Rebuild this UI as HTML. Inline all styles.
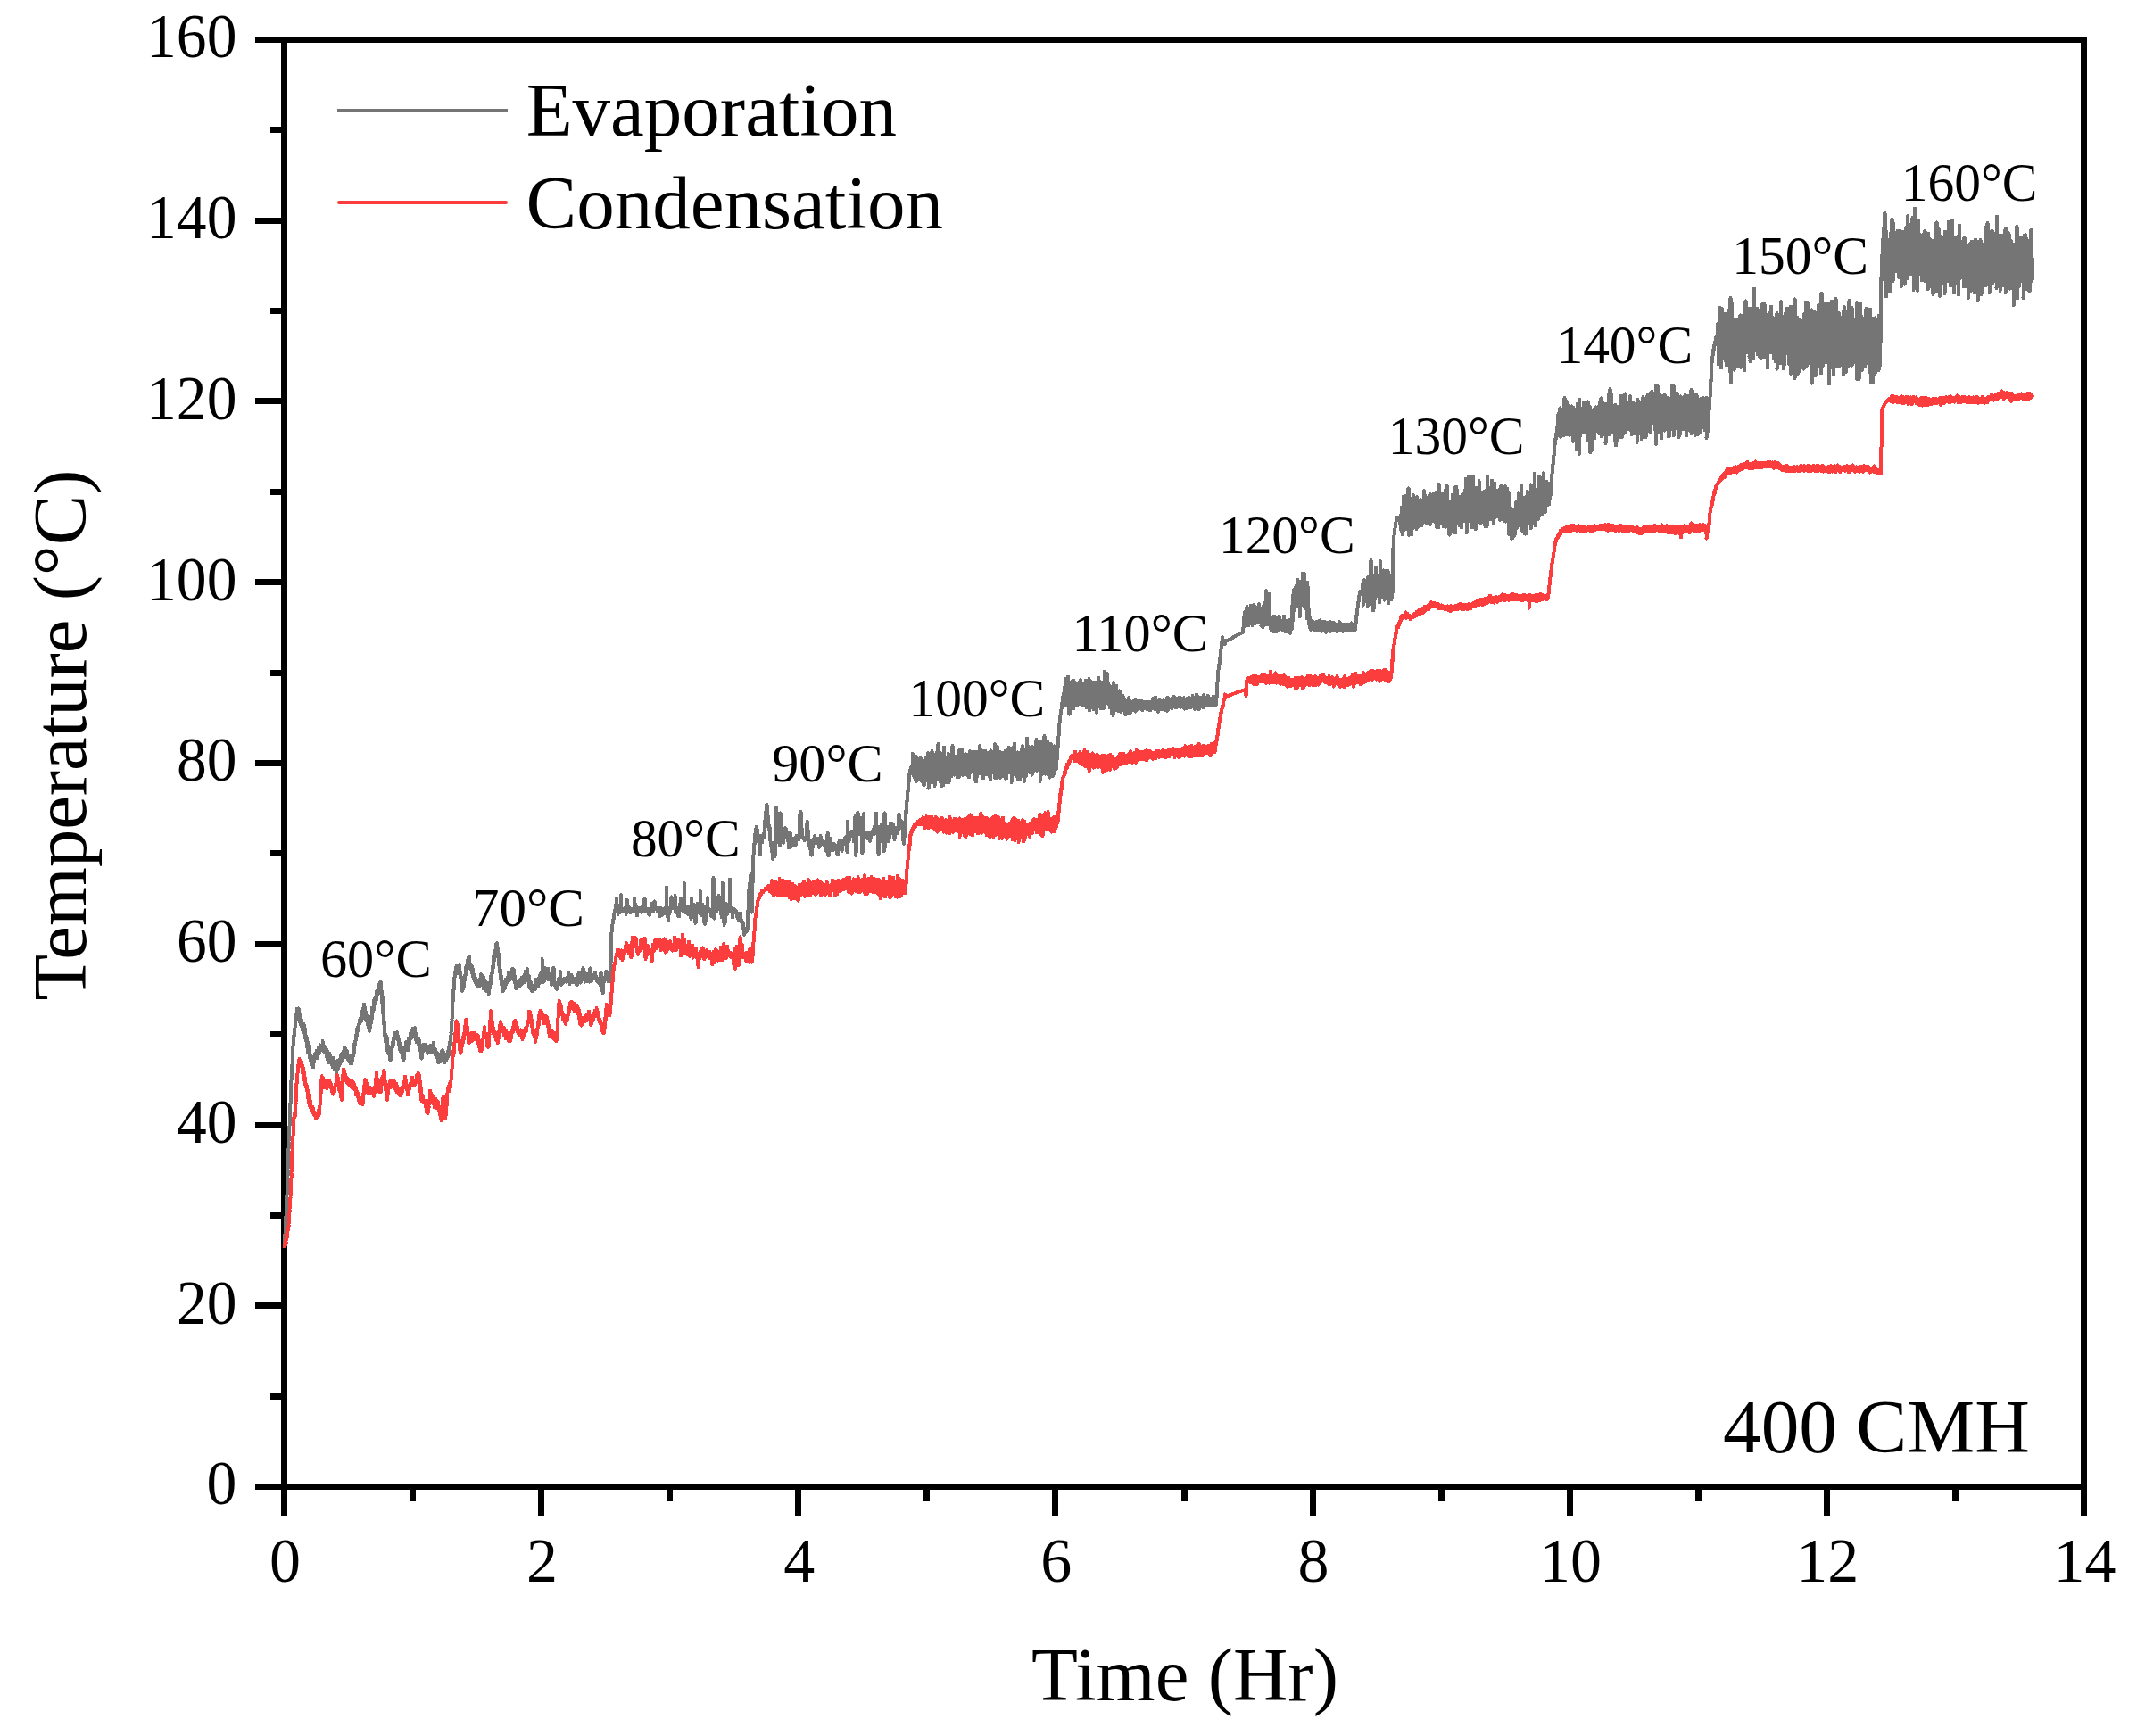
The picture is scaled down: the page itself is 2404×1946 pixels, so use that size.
<!DOCTYPE html>
<html lang="en">
<head>
<meta charset="utf-8">
<title>Evaporation and condensation temperature vs time (400 CMH)</title>
<style>
html,body{margin:0;padding:0;background:#fff;}
body{width:2404px;height:1946px;overflow:hidden;}
svg{display:block;}
text{white-space:pre;}
</style>
</head>
<body>
<svg width="2404" height="1946" viewBox="0 0 2404 1946" font-family='"Liberation Serif", serif' fill="#000">
<rect x="0" y="0" width="2404" height="1946" fill="#fff"/>
<g fill="#000" shape-rendering="crispEdges">
<rect x="315" y="41" width="2024" height="7"/>
<rect x="315" y="1663" width="2024" height="7"/>
<rect x="315" y="41" width="7" height="1629"/>
<rect x="2332" y="41" width="7" height="1629"/>
<rect x="286" y="1663" width="30" height="7"/>
<rect x="303" y="1562" width="13" height="7"/>
<rect x="286" y="1460" width="30" height="7"/>
<rect x="303" y="1359" width="13" height="7"/>
<rect x="286" y="1258" width="30" height="7"/>
<rect x="303" y="1156" width="13" height="7"/>
<rect x="286" y="1055" width="30" height="7"/>
<rect x="303" y="953" width="13" height="7"/>
<rect x="286" y="852" width="30" height="7"/>
<rect x="303" y="751" width="13" height="7"/>
<rect x="286" y="649" width="30" height="7"/>
<rect x="303" y="548" width="13" height="7"/>
<rect x="286" y="446" width="30" height="7"/>
<rect x="303" y="345" width="13" height="7"/>
<rect x="286" y="244" width="30" height="7"/>
<rect x="303" y="142" width="13" height="7"/>
<rect x="286" y="41" width="30" height="7"/>
<rect x="315" y="1669" width="7" height="30"/>
<rect x="459" y="1669" width="7" height="14"/>
<rect x="603" y="1669" width="7" height="30"/>
<rect x="747" y="1669" width="7" height="14"/>
<rect x="891" y="1669" width="7" height="30"/>
<rect x="1035" y="1669" width="7" height="14"/>
<rect x="1179" y="1669" width="7" height="30"/>
<rect x="1324" y="1669" width="7" height="14"/>
<rect x="1468" y="1669" width="7" height="30"/>
<rect x="1612" y="1669" width="7" height="14"/>
<rect x="1756" y="1669" width="7" height="30"/>
<rect x="1900" y="1669" width="7" height="14"/>
<rect x="2044" y="1669" width="7" height="30"/>
<rect x="2188" y="1669" width="7" height="14"/>
<rect x="2332" y="1669" width="7" height="30"/>
</g>
<g id="curves" shape-rendering="crispEdges">
<path d="M319 1391.6v2.2l.5-10.6v-.2l.5-11.4v5.4l.5-14.3v-2.9l.5-9.8v2.1l.5-11.6v-6.5l.5-10.2v1.1l.5-7.3v-6.9l.5-12.7v6.4l.5-17.7v-7.1l.5-8.2v4l.5-13.5v-3.5l.5-16v4.1l.5-10v-3.1l.5-13.9v2.9l.5-11v-5.4l.5-7.8v6.8l.5-11.5v-2.9l.5-10.1v3.4l.5-10.5v-6.1l.5-5.6v3.7l.5-3.6v-2.5l.5-5.7v2.6l.5-4v-6.5l.5-4.9v6l.5-3.5v-5.3l.5-1.8v6.7l.5-4.3v-4.7l.5-3.4v7.2l.5-.8v-1.7l.5 0v5l.5-5.3v-4.7l.5 3.9v5.5l.5 0v-4.6l.5 4.8v4.3l.5 2.8v-5.9l.5-1.8v7l.5 3.8v-7.8l.5 6v2l.5 .7v-2.8l.5 4.3v2l.5-3.5v-3.6l.5 1.5v1.6l.5 6.8v-9.1l.5 1.9v4.2l.5 1.9v-4.4l.5 4.6v.4l.5 7.7v-3.3l.5 .9v3.5l.5 2.7v-6.1l.5 6.4v2.5l.5 4.2v-8.1l.5 6.6v5.8l.5-3.6v-4.6l.5 5.5v1.6l.5 .3v-1.4l.5-.5v7l.5 3.1v-5l.5 4.5v3.4l.5-.3v-4.6l.5 2.8v4.5l.5 2.5v-5.3l.5 1.6v4.2l.5-1.8v-1.9l.5-2v6.9l.5-4.4v-4.6l.5-3.2v1l.5 2.6v-3.9l.5-2.9v2l.5-.6v-1.6l.5 .5v4l.5-3.7v-3.9l.5 3.9v4.7l.5-4v-5l.5-.2v6.5l.5-3.6v-5.1l.5 4.9v1.7l.5-.6v-4.8l.5-2.3v3.3l.5-2.3v-.2l.5-3.2v3.4l.5 1.3v-2.9l.5 1.3v2.4l.5-3.1v-.3l.5-1.1v3.5l.5-5.6v-3.4l.5 5.2v1.3l.5 4.6v-4.8l.5 .4v1.1l.5 2.4v-4.4l.5 4.5v2l.5-1v-2.4l.5 1.2v2.2l.5 .1v-4.5l.5 4.6v3.7l.5 2.3v-7.9l.5 3.3v6.7l.5-.1v-3.6l.5 2v4.9l.5-4.6v-1.7l.5 .7v2.6l.5-1.8v-5l.5 2.3v3.1l.5 4.2v-1.7l.5 .4v2.5l.5 .4v-3l.5 .7v2.9l.5 1.9v-3.9l.5-4.9v10.6l.5-2.4v-2.7l.5-.8v5.2l.5 1.8v-9.9l.5 7.5v3.5l.5-1.8v-4.1l.5-2.7v5l.5 2.7v-5.4l.5 1.9v8.1l.5-5.8v-5.4l.5-2.2v8.1l.5 0v-5.4l.5 1.8v4.3l.5-3.9v-3.5l.5-1.1v4.4l.5 .3v-3.8l.5-2.4v2.3l.5 1.2v-4.7l.5-3.8v7.8l.5-1.3v-2.3l.5-5.2v8l.5-1v-5.6l.5-2.8v4.3l.5 2.3v-3l.5-5.9v6.6l.5-5.2v-5.8l.5 1.8v6.4l.5-.8v-5.6l.5 .3v5.8l.5 .7v-4.9l.5 3.1v2.6l.5 .1v-5.6l.5 5.6v.4l.5 2.9v-5.2l.5 3.2v1.8l.5 3v-6.7l.5 1v2.1l.5 2.5v-3.6l.5 3.5v1.5l.5 2.5v-2.1l.5-3.6v5.5l.5-1v-7.6l.5 7.8v1.5l.5-1.8v-1.7l.5-5.5v5.1l.5-3.2v-2.1l.5-6.8v5.2l.5-.8v-7.2l.5-2.9v3.5l.5-1.7v-5l.5 .8v1.1l.5-2.3v-5.1l.5-2.2v.8l.5 1.1v-2.7l.5-5.2v6.2l.5-3.5v-1.6l.5-3.6v2l.5 .2v-1.3l.5-3.9v6.6l.5-6v-2.7l.5-2.9v.8l.5 1.5v-4l.5-.2v2.4l.5 1.9v-11.6l.5 3.9v3.1l.5 1.5v-5.7l.5-1.7v6.3l.5-6.1v-1.2l.5-4.3v4.1l.5-1.4v-3.1l.5-3.8v4.3l.5 5.9v-8.1l.5 4v5l.5-1.6v-2.6l.5 4v5.2l.5 2.1v-3.8l.5-1.4v2.9l.5 3.7v-3.7l.5-3.2v8.8l.5 2.7v-2.8l.5 1.2v3.9l.5 .4v-2l.5 2.1v3l.5-1.6v-7l.5-1.8v2.9l.5-.7v-5.2l.5-2.6v6l.5-2.6v-6.1l.5-7.2v11.3l.5-4.8v-6.9l.5-.6v1.7l.5 2.5v-7.9l.5-4v5.7l.5-.4v-6.6l.5-.4v4.2l.5-2.2v-2.5l.5-.7v6.8l.5-4v-9.8l.5 4.3v5l.5-5.6v-2.2l.5-.4v3.1l.5-1v-2.5l.5-4.1v1.7l.5-3.3v-.9l.5-2.1v1.5l.5 1.4v-3.5l.5 .7v.8l.5 .7v-4.4l.5 3.5v2.8l.5 6.1v-3.1l.5 4.8v5.1l.5 5.3v-8.5l.5 13.8v1.6l.5 4.6v-2.9l.5 2.8v6.9l.5 5.2v-3.5l.5 4.7v2.1l.5 11.1v-4.8l.5 3.6v1.3l.5 5.7v-7.3l.5 2.9v8.1l.5-.7v-9.6l.5 11.1v3.1l.5 2.5v-4.9l.5-1.6v7l.5 1.5v-3.2l.5-1.1v4.6l.5 1.2v-5l.5 3.2v4.1l.5 4v-7.2l.5-2.7v5.6l.5-4.1v-5.4l.5-.5v3.6l.5-3.3v-6l.5 1.4v3.7l.5-.9v-8.7l.5-.4v5.2l.5-5.8v-2.5l.5 .6v2.8l.5-1v-3l.5-2.3v4.3l.5-.2v-1.6l.5 .3v1.9l.5 1.5v-5.3l.5-1.5v4.7l.5 3.4v-4l.5 .1v4.3l.5 .8v-1.3l.5 0v6.8l.5 .2v-3.2l.5 1v6l.5 1.2v-5.3l.5-.1v5.7l.5 2.1v-2.6l.5-3v6l.5 1.5v-2.2l.5 .2v4.8l.5 2.5v-4.5l.5 1.8v1.6l.5 2.7v-8.3l.5-5.2v8.2l.5-4.4v-2.4l.5-2.8v3.6l.5-.8v-3.2l.5-5v3l.5 2.6v-1.3l.5-4.2v6.6l.5 2.3v-5.9l.5 .5v3.5l.5 2.2v-13.2l.5 5.4v2.3l.5-2.1v-4.2l.5-1.6v5.9l.5-6.3v-.6l.5-4.4v6.5l.5-3.9v-4.4l.5 1.4v5.2l.5-3.9v-1.9l.5-2.3v4.3l.5-2.3v-4.3l.5 3.1v1.9l.5-.2v-1l.5 .2v4.6l.5 .4v-5.4l.5-4.3v5.2l.5 2.7v-3.2l.5 1.9v6.4l.5-2v-3.5l.5 3.4v5l.5-2v-2.9l.5 3v2l.5-1.8v-1.7l.5 1.5v4.1l.5 1.2v-6.4l.5 3.2v3.3l.5 3.3v-1.8l.5-.6v4.8l.5 .5v-2.3l.5 1.9v4.8l.5 4.5v-8.2l.5-2.6v5l.5-6.1v-2.8l.5 2.3v4.8l.5-1.3v-7.2l.5 .7v3.8l.5 2.3v-3.2l.5-1.8v2.6l.5 2v-6.1l.5 2.7v2.9l.5-.9v-1.2l.5-1.8v3.5l.5-.1v-.7l.5 1.8v1.9l.5 1.6v-3.3l.5-3.8v3.4l.5 .8v-2.8l.5-1.6v5.7l.5-1.7v-3.4l.5-1.7v3l.5-1.4v-.7l.5 1.3v3.5l.5-4.4v-1.6l.5 3.9v3.6l.5-3.1v-2.1l.5 .7v3.8l.5-1.6v-3.9l.5-4.7v6.7l.5 1v-2.3l.5 3.8v1.4l.5-.5v-3l.5 .5v1.9l.5 5.4v-1.3l.5-2.8v2.1l.5-.7v-1l.5 2.4v3.3l.5 .5v-5.3l.5 1.5v7l.5 2.3v-4.2l.5-2.3v2.9l.5 2.1v-3.6l.5 .7v2.1l.5 1.1v-4.4l.5 2.2v1.6l.5-2.7v-8.6l.5-.1v4.6l.5-.1v-2.8l.5-3v3.8l.5 3v-4.3l.5 1.7v3.6l.5-.1v-5.1l.5 7.5v2.9l.5 1.4v-1.8l.5-3.1v3l.5-.4v-1.3l.5-2.2v3.5l.5-1.3v-6.5l.5 1.4v3.5l.5-2.5v-4.9l.5 3.8v2.6l.5-1.5v-5l.5-4.7v8.4l.5-3.7v-4.4l.5-5.7v4.3l.5-.8v-3.9l.5-4.1v6.7l.5-11v-1.9l.5-9.9v4.8l.5-8.7v-1.2l.5-10.6v3.3l.5-11.7v-.1l.5-13.3v6.6l.5-6.7v-3.4l.5-8.3v4.1l.5-7.1v-2.4l.5-3.8v4.1l.5-.9v-6.1l.5-2.5v4.8l.5-.1v-2.1l.5-3.7v5.1l.5 .2v-3.8l.5 2v4.1l.5-.5v-4.1l.5-2v6.2l.5-1.3v-2l.5-4.7v6.8l.5 3.4v-4.2l.5 5.3v1.8l.5 1.4v-2.9l.5 3.5v5l.5 2.6v-3l.5 3.8v5.1l.5-.5v-4l.5-1.6v2.2l.5 1.1v-8.1l.5-2.7v4.7l.5-1.8v-2.6l.5-4.3v2.5l.5-1.8v-6.4l.5-3.2v7.8l.5-.2v-4.7l.5-4.4v4.4l.5-2v-6.6l.5-.3v2.5l.5-5.6v-1.3l.5 .7v3.4l.5 4.7v-10.7l.5 .9v7.7l.5 1.5v-1.4l.5 1v3.6l.5 1v-4.1l.5 1v4.4l.5-.2v-3.4l.5-.8v5.8l.5 2.4v-4l.5-1.3v6.3l.5 3.8v-4.3l.5 1.2v3.5l.5 2.2v-5.4l.5 1.9v4.6l.5-.7v-2.2l.5 3.2v.2l.5 2.9v-6.5l.5 2.6v3.2l.5 1.6v-4.1l.5 0v1.3l.5 3.6v-5.7l.5 .1v4.2l.5-.8v-.9l.5 .6v3.2l.5-3.1v-4.8l.5 2.3v2.2l.5-.6v-5.4l.5-4.1v8.1l.5 .6v-2.1l.5-3.5v6.3l.5-.1v-6.9l.5 5.5v4.4l.5-3.5v-6.7l.5 6.5v7.9l.5-4.7v-3.1l.5-2.9v8.9l.5-.9v-4.8l.5 2.5v6.6l.5-6v-3.3l.5 .1v7.5l.5 2.2v-8.2l.5 5.9v2.6l.5-1.5v-.9l.5-.8v3.7l.5 1.4v-5.1l.5 2.1v4.1l.5-5.5v-3.5l.5-4v5.9l.5-2.8v-8.1l.5-1.2v5.6l.5-4.1v-.3l.5-4.9v6l.5-6v-5.6l.5-2.3v7.2l.5-4.5v-4.4l.5-9.8v11l.5-4.7v-3.7l.5-2v2.2l.5-.9v-1.4l.5-6.3v5.7l.5-6.5v-.3l.5-6.6v7l.5-2.2v-3.2l.5-2.7v.7l.5 7v-3.2l.5 7.5v.3l.5 3.8v-4.7l.5 5.4v.8l.5 7.7v-1.9l.5 5.2v3l.5 2.3v-5.4l.5 7.9v3.9l.5-1.4v-2.4l.5 .2v3.4l.5 7.8v-5.9l.5 .3v5.8l.5 6.3v-3.4l.5-4.4v2.9l.5 2.5v-3.5l.5 .2v2.9l.5-2.6v-2.5l.5-2v6.1l.5-4.5v-2.4l.5-3.2v3.9l.5 1.9v-3.1l.5-.4v2.3l.5-3.4v-2.7l.5 .4v1.8l.5-2v-1.4l.5-4.6v5.3l.5 .8v-3l.5-3v8.3l.5-6.1v-1.1l.5-1.4v4.7l.5-.1v-2.2l.5-3.4v6.7l.5-.3v-5.3l.5-3.9v5.6l.5 1.2v-7.5l.5 3.2v3.9l.5 1.2v-7.4l.5 5.1v6.9l.5-.8v-4.5l.5 6.1v2.4l.5 .8v-2.2l.5 1.6v1.6l.5 4.9v-6l.5 0v1.2l.5 1.6v-2.9l.5-1.4v4.1l.5 1.1v-4.8l.5 .2v2.9l.5 1.6v-4.6l.5 1.6v2.5l.5-1.5v-5.3l.5-.7v3.3l.5 .7v-4l.5 1.3v2.4l.5 2v-2.3l.5-5.7v5.5l.5-1.2v-3l.5-.5v4l.5 1.1v-7l.5 2v4.9l.5-1.4v-2.6l.5-5.4v1.7l.5 1.3v-4.8l.5-1.5v6.8l.5 1.1v-6.3l.5-2.2v5l.5 .2v-.5l.5-6.9v5.5l.5 2.6v-2.3l.5 2.5v1.1l.5 5.9v-7.9l.5 1.7v4.9l.5 6.4v-7.9l.5 1.8v7.4l.5-2.1v-3l.5-1.5v5.6l.5 2.7v-5.8l.5 2.2v4.9l.5 .1v-1.9l.5-1.8v2.7l.5-.3v-1.3l.5-.8v1.8l.5-1.3v-1.7l.5-.3v1.7l.5 1.6v-6.7l.5 3.7v3l.5-2.8v-8.5l.5 2.1v1.8l.5-.7v-.9l.5-.3v3.6l.5-1v-.8l.5-.6v4.2l.5-2.9v-4.6l.5-1.9v3.2l.5 2.9v-8.6l.5 1.7v1.5l.5 2.8v-5.7l.5-2.8v5.7l.5-.4v-4l.5-.7v2.8l.5 6.7v-26.4l.5 23.7v2.6l.5-1.9v-3.1l.5-3.1v2.4l.5 5.4v-3.2l.5-12.4v5.6l.5 2.5v-8.5l.5 6.4v1.3l.5-1.4v-.6l.5-1.7v5.1l.5-2.2v-.2l.5 1.4v3.9l.5-1.4v-4.6l.5-4.8v11.4l.5 .9v-3.2l.5-1.8v3l.5-1.5v-2.3l.5-.1v2.6l.5 1.1v-4.2l.5 3.8v.4l.5 2.8v-3l.5 5.9v2.3l.5-1.3v-3.4l.5-5.5v6.2l.5-7.7v-3.9l.5-2.9v3.5l.5-1.6v-2.7l.5 6.9v1.4l.5 8.1v-.1l.5 .4v1.8l.5 2.8v-1.9l.5 1.9v1.1l.5 1.7v-2.1l.5 .7v1.5l.5-4.9v-.7l.5-2v2.9l.5-.9v-4.5l.5-1.5v2.8l.5-.5v-1.2l.5-1.3v1l.5 3.4v-12.8l.5 9.9v2.3l.5 .2v-1.1l.5 2.5v1.6l.5-3.8l.5 .2v-2.9l.5 1.1v1.4l.5-.8v-.9l.5-.1v3.4l.5-2.7v-1.2l.5-.9v.6l.5 .9v-.4l.5 .4v1.1l.5-.1v-1.5l.5 1v1.9l.5 0v-2l.5 .3v1.3l.5-2.2v-2.2l.5 .2v1.5l.5-5.9v-1.2l.5 .7v1.8l.5 3.6v-.5l.5 4.5v2.8l.5-4.2v-.4l.5-3.3v2.9l.5-1.3v-3.4l.5-1.1v1.7l.5 2.7v-.8l.5 .6v.1l.5 3.4v-.5l.5 .3v.6l.5 .6v-2.9l.5 1.2v.1l.5 .1v-.9l.5-1.9v3.5l.5 .9v-1.9l.5 2.3v.1l.5 1.8v-1.5l.5-.3v1.1l.5 .7v-3.6l.5-.5v.3l.5-1.6v-2l.5-4.6v.8l.5-2.4v-.2l.5 4.9v1.6l.5 2.5v-2.4l.5 1.3v4l.5-3.5v-1.4l.5-1v.2l.5 2.6v-2.3l.5 .3v.5l.5-3v-3.4l.5-5.6v.5l.5 6.6v-.4l.5-3.3v8.5l.5 .2v-2.4l.5 5.3v.4l.5-4.5v-3l.5-1.9v2.2l.5 .7v-2.4l.5 1.5v3.5l.5 .9v-2.4l.5 1v3.7l.5-2.2v-1.3l.5-.6v1.5l.5 1.5v-.8l.5 1.6v1.1l.5-9.5v-2.1l.5-3.6v.4l.5 7.2v-1.1l.5 6.3v2.1l.5-.6v-1.6l.5-1v1.1l.5-4.8v-.4l.5 1.5v1.6l.5 .4v-1l.5-.1v.1l.5-.2v-.5l.5-1v.6l.5-1.9v-2.6l.5 3.2v1.6l.5 .9v-.7l.5 .9v.5l.5 3.2v-1.4l.5-1.2v3.7l.5-.8v-.3l.5-1.9v.7l.5-.8v-.9l.5 1.7v.9l.5 3v-.2l.5-.5v2.7l.5 .1v-.2l.5-14.2v11.6l.5-1.6v-.7l.5-.7v2.5l.5 2.9v-1.7l.5 9.8v1.4l.5-2.6v-.7l.5-8l.5-6.8v2.1l.5-.7v-.6l.5 .8v1l.5 .3v-2.2l.5-1.7v.2l.5-5.3v-.5l.5 .6v2.1l.5 4.8v-.9l.5 .4v2.5l.5 1.6v-1.8l.5-.1v.9l.5-.3v-.6l.5 .7v1.8l.5-2.2v-2.3l.5-.2v1l.5-16.7v-1l.5-15.6l.5-18.7v.4l.5-4.4v-.9l.5-3.8v.2l.5-3.9v-.3l.5-1.7v.3l.5-4.4v-.1l.5-2.5v.1l.5-1.9v-.6l.5-1.9v.1l.5-3.1v-1.4l.5 2.2v.3l.5-8.3v-1.6l.5 5.4v3.3l.5 5.1v-.4l.5 2.9v.9l.5-1.1v-2.7l.5-1.3v1l.5 2.6v-.9l.5-2.9v1.1l.5-.8v-2.7l.5-1.3v.3l.5 .7v-13.5l.5 17v1.8l.5-2.4v-.3l.5-.2v1.1l.5 1.9v-1.7l.5-1.2v3.2l.5-1.9v-.3l.5-1.1v1.8l.5 .6v-.3l.5-3.9v.7l.5 2.1v-2.1l.5 3.8v3l.5-2v-.4l.5-5v2.1l.5-3.6v-7.1l.5 5.6v1.1l.5 .6v-.6l.5 1.9v3.3l.5-.3v-.4l.5-2.6v0l.5 1v-.2l.5 2.3v2.3l.5-2.5v-.9l.5 2v.4l.5 0v-1.1l.5 .3v.8l.5-.9v-1.1l.5-.4v.6l.5 1.8v-3.5l.5-.9v1.7l.5-3.8v-7.9l.5 4.3v1.2l.5 2.6v-2.2l.5 1.5v1.1l.5 2.9v-1.5l.5 2.1v1l.5 6.1v-3.6l.5-1.3v1.5l.5-1v-3.5l.5 .2v2.7l.5-3.1v-.8l.5 3.4v.4l.5-.6v-.3l.5 .5v.5l.5-1.1v-1.5l.5 1.2v2.4l.5-2v-.5l.5-2.5v2.2l.5-3.6v-.2l.5 1.7v.1l.5 4.2v-1.3l.5-1.1v.8l.5 0v-1.5l.5-11.4v9.5l.5 4.4v-3.1l.5-.8v1.2l.5 3.2v-2.4l.5 0v1.7l.5 .8v-3.3l.5 1v.5l.5 .8v-.9l.5-.6v1l.5 4.4v-1.5l.5-2.6v4.1l.5 .9v-5.4l.5 .9v.5l.5-2.8v-.9l.5-.1v1.2l.5-3.8v-2l.5-.3v.2l.5 2.5v-1.8l.5 6v1.2l.5 .4v-1.9l.5-2.4v1.6l.5-2.3v-4.3l.5-1.9v2.5l.5 1.7v-1.9l.5 6.3v.1l.5-.1v-1.4l.5 .7v.6l.5-.5v-.5l.5 1.6v1.7l.5-.1v-2l.5 .9v.7l.5 .8v-.5l.5 .1v3.2l.5 3.2v-2.7l.5-5.1v.8l.5 .2v-3.3l.5 1.3v1.1l.5 4.8v-2.6l.5 2.2v.3l.5 1.3v-1.5l.5-1.5v2.9l.5-3.4v-3.3l.5 3.4v1.3l.5-.2v-1.1l.5-2.8v2.7l.5 1.9v-1.2l.5-1.8v.3l.5-2.5v-1.7l.5-.4v.3l.5 1.6v-23.9l.5 21.1v.7l.5 5.6v-2.6l.5 9.3v.8l.5 2.2v-2.5l.5-4.5v1.5l.5-3.8v-1.4l.5 1.1v.5l.5-.9v-.6l.5-2.1v.4l.5-4.7v-3.2l.5-6.5v1.3l.5 3.5v-2.6l.5 3.9v3.1l.5 4l.5-2.1v0l.5-3v2.5l.5-2.9v-.5l.5-.1v1.4l.5 3.8v-13.6l.5 13.9v2.2l.5 3.4v-3l.5 .6v.3l.5 .4v-3.8l.5 1.2v.6l.5 3v-3l.5 4.5v2.1l.5-.1v-1.3l.5 .9v1.5l.5-6.1v-.1l.5-4.6v3.8l.5-8.3v-1.8l.5-2.7v3.5l.5 4.4v-1.7l.5 2.3v1.6l.5-1.4v-.2l.5 1.5v.3l.5 3.8v-.1l.5-2.2v1.7l.5-1v-.7l.5-29.4v29.4l.5 1v-2.3l.5-.4v1.1l.5 4.2v-2.3l.5-.5v.3l.5-2.3v-2.4l.5 0v.9l.5 4.4v-3.8l.5 3.8v3.8l.5-.2v-1.4l.5-2.4v.9l.5-2.9v-2.5l.5 .6v.4l.5 3v-.4l.5 5.8v1.2l.5 3v-1.8l.5-21.4v21.1l.5-4.2v-2.4l.5-.5v2.3l.5-5.5v-2l.5-1.8v1.2l.5 4.6v-2l.5 .9v3.6l.5-1.1v-1.5l.5 7.4v3.7l.5 4.2v-1.4l.5-4.2v1.6l.5-8v-1.6l.5-6.5v2.8l.5-1.9v-3l.5 2.3v2.3l.5 2.6v-.5l.5 1.4v.6l.5 2.4v-4.9l.5 .7v1.3l.5 .2v-23.3l.5 23v.3l.5 2.7v-1l.5 1v2.9l.5-3.9v-.2l.5-3.1v1l.5-5.2v-1.5l.5 2.8v.9l.5 4.2v-1.6l.5 9.6v.1l.5 5v-1.3l.5 .1v2.3l.5-1.3v-2.3l.5-2.8v.2l.5-1.9v-2.4l.5-4.6l.5-5.5v2l.5-.7v-10.4l.5 10.5v3.3l.5 1v-2.7l.5 2.4v.9l.5-.1v-.4l.5-1.5v.3l.5 1.9v-1.3l.5 1.6v1.8l.5 2.4v-.9l.5 .8v.8l.5-4.5v-.1l.5-.5v.3l.5-.9v-.1l.5-37.4v40.6l.5 4.6v-1.4l.5 1.7v.4l.5-.8v-1l.5-6.3v.5l.5-5.7v-.4l.5 3.4v.8l.5-1.4v-.5l.5 1v1.8l.5-1.5v-.4l.5-3.6v1.5l.5-2.4v-2.4l.5-8.2v11.2l.5 3.2v-2.8l.5 .1v.1l.5 1.6v-.2l.5 .6v.8l.5 6.1v-1.2l.5 2.7v2.2l.5-4.6v-1l.5-7.5v3.5l.5-2.2v-26.6l.5 28.5v1.2l.5 8.6v-1.5l.5 7.6v2.5l.5-1.1v-.4l.5-2.8v2.8l.5-13.7v-1.7l.5-5v.1l.5-.9v-1.3l.5 3v1.7l.5 7.2v-1.5l.5-.7v.4l.5-1.9v-2.8l.5-2.6v1l.5 .8v-.6l.5-.2v1l.5-3.5v-28.4l.5 28.7v2.5l.5 4.1v-3.7l.5 .2v1.8l.5-1v-.7l.5 2.7v4.7l.5 3.1v-1.8l.5-2.9v1.2l.5-3v-.3l.5-1.4v1.1l.5 0v-.3l.5-1.5v.8l.5 2.2v-1.3l.5-.4v1.4l.5 2.1v-2.2l.5 .3v2l.5 2.9v-1l.5 .5v2.8l.5-.7v-.2l.5 .8v.9l.5 2v-1.2l.5-1.8v1.6l.5-3.8v-1l.5-2.4v.7l.5 1.8v-2.3l.5 8.6v.7l.5-1.7v0l.5 .4v.3l.5 2.6v-.2l.5-1.3v.5l.5 6.5v-4.4l.5 5.9v4.4l.5 2v-.7l.5-6v2.3l.5-1.2v-2l.5 .3l.5 .8v3.4l.5-2.5v-.9l.5-1.1v2.3l.5 .1v-.6l.5-11.4v.6l.5-11.6v-1.8l.5-10.5v1.5l.5-13.4v-.8l.5-3.5v.6l.5-2.6v-.4l.5-4.8l.5-4.1v1.2l.5 22v-.3l.5 19.4v.2l.5-15.9v-2.7l.5-14.1v.2l.5-14.5v-1.7l.5-16v.2l.5-6.4v-1.2l.5-4.8v1.3l.5-8.1l.5-5v-1.6l.5-3.1v1.4l.5-1.8v-.2l.5-2v.6l.5 2.9v-.6l.5 4.1v3.1l.5 6.7v-.5l.5-.3v.9l.5-3.1v-3.5l.5 .8v2.5l.5-.4v-1.1l.5-1.1v21l.5-20.5v-.7l.5 1.3l.5 4.5v0l.5 1.2v-.3l.5-7.2v.3l.5-.4v-.2l.5-.2v2l.5 0v-1.4l.5-4.2v1.1l.5-7.8v-.3l.5-6.8v.4l.5-2.2v-1l.5-7v1.9l.5-6.1v-2.2l.5-.8v1.7l.5 1.5v-1.4l.5 10.5v2.7l.5 9v-3.2l.5 5.3v1.8l.5-3.3v-1.4l.5 2.3v1.6l.5 6.2v-1.8l.5 9.2v1l.5 3.6v-.3l.5-1.5v.2l.5 2.8v-2.3l.5 9.7v.5l.5 6.5v-1.4l.5-8.8v.8l.5-7.6v-.8l.5-.4v.4l.5 10.8v-2.3l.5 3.1v3.8l.5-16.7v-.2l.5-17.7v3.9l.5-23.7v-.8l.5 4.8v0l.5 14.7v-1.4l.5 10.6v.5l.5 6.3v-3.7l.5 3.7v1.1l.5 2.3v-1.3l.5 .6v.3l.5 3.9v-3.4l.5-32.8v33.9l.5-1.1v-2.6l.5-5.2v2.3l.5-2.6v-1.7l.5-.1v1.9l.5 3v-.5l.5 .1v2.2l.5 3.7v-.5l.5-4.3v1.2l.5-3.9v-.5l.5-3.1v1.5l.5-6.5v-.4l.5 0v1.1l.5 1.9v-2.4l.5 2.1v1.1l.5 1.2v-1.3l.5 1v2.6l.5 2.4l.5 5.8v-2.8l.5 7.8v1.6l.5-1.5v-.6l.5-7v1.5l.5-7v-2.4l.5 3.4v.9l.5 4v-1.6l.5 7v1.9l.5-2.6v-.8l.5-5.2v.2l.5 .4v-.9l.5-.1v2.2l.5 1.2v-1.4l.5-1.1v2.4l.5 .4v-1.8l.5 2v3.5l.5 .4v-.7l.5-3.9v.7l.5-6.3v-.4l.5-.6v1.3l.5 2.1v-2.5l.5 1.5v1.3l.5-.4v-.9l.5-.8v2.7l.5 .4v-.9l.5-25.4v22.1l.5-10.7v-1.3l.5-15.7v2.6l.5-1.7v0l.5 6.7v.2l.5 11.8v-1.2l.5 6.4v2.1l.5 3.3v-1.3l.5 .1v.8l.5 .2v-.6l.5-.1v.5l.5 2.9v-1.3l.5 .6v.7l.5-.7v-2.1l.5 .4v.4l.5-1.6v-1.1l.5-7.2v.8l.5-9.1v-1.3l.5 2.3v1.1l.5 7.2v-.9l.5 9.7v2.1l.5 3.6v-4l.5 2.3v.2l.5 6v-3l.5 2.3v2l.5 .7v-.3l.5 .8v1.4l.5 4.5v-1.4l.5 .3v.6l.5-7.5v-.6l.5-8.9v.9l.5 2v-1.3l.5 .1v.2l.5-.8v-2.1l.5-2.9v1.4l.5 3.2v-.1l.5 .8v2.9l.5-1.8v-1.6l.5 .1v.2l.5 2.2v-1.2l.5-3.3v.9l.5 .9v-.6l.5 3v.3l.5 1.2v-1.4l.5 4.1v1.6l.5-1.3v-1.9l.5-4.6v.6l.5-5v-.8l.5 4.6v.2l.5 .7v-.4l.5 2.2v2l.5-.5v-.1l.5 .1v.4l.5-1.9v-1.7l.5 2.3v1.9l.5 .3v-.3l.5-.9v2l.5 .2v-3.2l.5 4v.3l.5 4.4v-2.6l.5 .1v.6l.5-5.9v-.5l.5-7.3v2.2l.5-5.5v-1.5l.5 4.4v3l.5 18.9v-15.1l.5 2.1v.5l.5-.3v-.1l.5-2.9v.5l.5 0v-1.8l.5-2.3v3.6l.5 5v-3.4l.5 2.6v2.1l.5 1.4v-4.1l.5 3.8v2.2l.5-.8v-.8l.5-1.2v2.3l.5-2v-5.2l.5 1.2v.5l.5 3.4v-4.4l.5 5.1v1.1l.5-.5v-1.5l.5-1.9v1.2l.5-.1v-.5l.5 1.3v2l.5 5.4v-1.5l.5-.8v1.8l.5-4.8v-3.5l.5-4.7v1.6l.5-1.9v-1.3l.5 1.6v1.2l.5 1.8v-1.6l.5-3.6v.2l.5 3.2v-1.9l.5 1.4v.6l.5 8.3v-2.1l.5-.7v.9l.5-3.6v-1.3l.5-4v1.4l.5 0v-1.1l.5-.4v.4l.5 .2v-4.2l.5-.5v5.3l.5-4.5v-.4l.5-1.3v.7l.5 5v-2.1l.5 6v3.2l.5 4.2v-34.5l.5 30.5v.9l.5-9.9v-.7l.5 1.4v.4l.5-.3v-1.7l.5-2l.5-2.3v2l.5-2.4v-1.1l.5-3.1v.4l.5 2.7v-2.9l.5 .6v1.4l.5-1.4v-1l.5 .4v1.8l.5 1v-3.2l.5 6.7v.1l.5 4.4v-4.4l.5 .9v.3l.5 3.8v-1.3l.5-27.6v35.7l.5 8v-1.9l.5-1.8v1.2l.5-9.6v-1.4l.5-8.9v.8l.5-14v-2.4l.5-10.1v2.7l.5 9.3v-.4l.5 9.4v.4l.5 1v-.2l.5-6.8v2.3l.5-11.3v-.3l.5 .4v1.9l.5 10.6v-.9l.5 8.1v19l.5-5v-.5l.5 5.2v.6l.5-12.7v-2.1l.5-8.3v1.8l.5-.3v-22.3l.5 21.5v.3l.5 3v-.8l.5-2.3v2.5l.5 1.2v-.7l.5-1.4v.3l.5 1.6v-2.5l.5-1.5v1.5l.5 .4v-.1l.5 1.9v3.1l.5-1.5v-3l.5-2.5v.4l.5 3.5v-.9l.5 1.3v.4l.5 4.9v-.4l.5-2.1v1.1l.5-5.1v-.7l.5-1.1v.5l.5-.4v-1.4l.5-.4v1.1l.5-.5v-.7l.5-2.9v.7l.5 1.1v-.3l.5 3.1v1.4l.5-2.4v-.7l.5-7.3v2l.5-5.6v-.8l.5 6.3v1.4l.5 3.7v-20.9l.5 16.7v2.2l.5-2.6v-1.5l.5 6.7v.8l.5 12.2v-3.9l.5 15.2v.3l.5-7.4v-3.4l.5-6.7v.3l.5-1.8v-2.4l.5 .8v.9l.5-1.4v-3l.5-8.6v2.7l.5-1.9v-.8l.5 4.8v2.7l.5 5.8v-1.6l.5 8v.1l.5 2.8v-1l.5 .3v3.9l.5 3.4v-.7l.5-41.9v39.3l.5-11.1v-1.7l.5-4.3v2.5l.5-.3v-3l.5-1.3v3l.5-2.8v-2.1l.5-3.1v.2l.5 2.8v-.2l.5 7.1v2.3l.5 4.8v-2.4l.5-2.4v2.3l.5-6.3v-1.5l.5-7.1v1.2l.5-4.2v-.8l.5 4.1v4.2l.5 2.9v-.1l.5-1.8v2.4l.5-2.6v-3.2l.5-4.9v.3l.5 3.9v-3l.5 9v.3l.5 3.5v-.3l.5 3.6v.3l.5-1.6v-2l.5-3.1v.5l.5-5v-1.1l.5-.7v2.3l.5 2.9v-1.4l.5 .5v1.9l.5 0v-.2l.5-2.3v.4l.5-2.1v-.2l.5-17.6v15.9l.5 .9v-1.3l.5-5.2v.7l.5-.9v-2.3l.5 0v1.4l.5 4.7v-1.6l.5-1.8v2.8l.5 .2v-4.5l.5 8v.5l.5 8.3v-3.7l.5 9v1.5l.5 1.3v-2.8l.5-4.8v.9l.5-5.9v-1.2l.5-2.4v1.7l.5-11.6v-.6l.5-11.1v3.4l.5-10.3v-.3l.5-3.7v1.5l.5-6.1v-.5l.5-6.1v1.8l.5-5.2v-1.7l.5-5.5v1.9l.5-8v-.4l.5-2.3v.4l.5-1.7v-1.8l.5-.5v.6l.5-1.3v-2.5l.5-1v2l.5 6.6v-8.4l.5 1.9v1.9l.5 2.5v-20.5l.5 13.8v10.7l.5-1.3v-13.9l.5-.2v17.5l.5-7v-8.6l.5 2.3v15.8l.5-14.3v-9.2l.5 2.7v16.4l.5 6.3v-27.8l.5 1.2v22.8l.5 .9v-22.9l.5 5.3v12.3l.5 4.4v-18.7l.5 1.1v18.9l.5-2.8v-19.4l.5 3.1v6.9l.5 11.8v-10.6l.5-13.7v17.9l.5-3.3v-8.4l.5 2.7v14.8l.5 3.4v-14.7l.5-10.6v20.7l.5-5.8v-8.1l.5-4.8v17.1l.5 10v-16.3l.5-10.2v15.2l.5 11.3v-25.9l.5 4v11l.5 1.3v-12.7l.5-1.5v17.2l.5-2.2v-21.2l.5 1.7v17.6l.5 6.6v-22.6l.5 2.6v17.3l.5-9.8v-19l.5 8v31.7l.5-19.5v-11.7l.5 2.7v18.7l.5-11.7v-15.3l.5 10.3v20.4l.5-5v-20.7l.5-3.7v13.7l.5 10.4v-11l.5-19.5v22.5l.5 13.2v-23l.5 3.6v17.9l.5-12.7v-11.3l.5 1v3.9l.5 11.3v-12.7l.5-9.2v34.9l.5-6.2v-15.8l.5-2.9v8l.5 .7v-11.6l.5-1.5v13.1l.5 8.7v-30l.5 8.8v11.2l.5 1.9v-15.2l.5-16.6v34.2l.5-1.8v-18.1l.5-6.2v31.2l.5-10.7v-16.5l.5 2v24.3l.5 3.8v-26.5l.5-.7v19.1l.5 13.6v-25.3l.5-3.6v27.3l.5-15.7v-10.7l.5-8.4v15.6l.5 19.4v-19.1l.5-10.2v10.4l.5 2.9v-26.7l.5 15.9v13.8l.5-3.9v-8.9l.5-1.4v13.7l.5 7.2v-20.8l.5-1v11.7l.5 13.2v-24.9l.5-2.3v16.8l.5-3v-1.3l.5-11.2v13.9l.5-1.8v-18.3l.5 9.9v22.1l.5-6.8v-20l.5 2.2v8l.5 7.7v-13.3l.5-9.4v16l.5 9.3v-20.9l.5-1.3v11.9l.5 8.1v-10l.5-22.6v27.3l.5-1.4v-6.1l.5-3.5v11.4l.5 2.8v-16.1l.5 1.1v17.4l.5-1.3v-11.9l.5-3.6v12.3l.5 2.7v-19.1l.5 13.7v6.1l.5-.8v-4.5l.5-13v16.4l.5 5.6v-22.3l.5 4.4v16.3l.5 1.3v-25l.5-2v10.7l.5 16.2v-18.7l.5-12.4v23.7l.5-1.8v-5.7l.5-10.1v14.4l.5 6.7v-16l.5-.1v10.5l.5 2.5v-23.7l.5 5.7v16.2l.5 6.9v-20.3l.5 1.1v10.1l.5 5.1v-12.9l.5-6.5v10.8l.5 7.8v-13.2l.5 3.3v8.7l.5 4.2v-21l.5-.6v16.2l.5 .6v-15l.5 6.5v8.8l.5 6.1v-7.3l.5-4.9v7.3l.5-2.1v-8.1l.5-8.2v17.8l.5 7.8v-20.4l.5 .5v7.3l.5 8.5v-24.7l.5 13.1v10.8l.5-3.2v-20.1l.5 6.6v12.8l.5-4v-8.3l.5-6v19.9l.5 .6v-13.9l.5-8.2v23l.5-7v-7.2l.5-4.7v19.4l.5-4.7v-14.1l.5 9.7v17.4l.5-10.1v-21.5l.5 5.2v10.3l.5 18.5v-23.9l.5-6.3v24.2l.5-.3v-15.8l.5-11.5v21.5l.5-7.2v-10.3l.5 9.4v7.4l.5 0v-14.1l.5 3.8v9.5l.5 3.9v-30.8l.5 10.7v15.2l.5-5.4v-16.5l.5 18.5v8.9l.5-5.3v-9.2l.5-6.1v23l.5-4.6v-14.4l.5-8.8v14.4l.5 15.8v-20l.5-5.1v15.9l.5 .5v-9.4l.5 2.1v7l.5 3.5v-16.9l.5-8.2v24.9l.5-2.4v-7l.5-9.6v20.6l.5-9.1v-10.5l.5 1v17.1l.5-4.2v-16.4l.5 3.5v18.3l.5-6.2v-18.3l.5 16.2v5.3l.5 5.2v-21.2l.5-4.4v21.8l.5 8.1v-24l.5-9.1v20.2l.5 .4v-11.1l.5 2.6v9.6l.5 3.2v-18.9l.5 2.7v15.4l.5 .3v-15.2l.5-1.2v11.6l.5 1v-15.3l.5 5.2v16.5l.5 3.7v-37.7l.5 9.6v20.1l.5 3.4v-25.1l.5 6.3v13.3l.5 10.5v-31.1l.5 15.8v3.8l.5-.6v-23.2l.5 6v26.1l.5-3.9v-12.6l.5-5v19l.5 2.8v-26.9l.5 2.7v21.1l.5 5.6v-22.1l.5 4.9v9.6l.5 3.4v-16.4l.5-3.6v15.3l.5-5.9v-11.9l.5 5.4v10l.5 9.4v-26.5l.5 6.4v17.2l.5-2.6v-15l.5 3.3v17.6l.5-11.5v-15l.5-2v30.8l.5-12.8v-6.5l.5 .2v5.3l.5 13.6v-21.1l.5-10.2v26.2l.5-13v-6.7l.5 2.2v16.4l.5-3.8v-10l.5-14.6v15.7l.5 11.6v-13.2l.5 1.9v11.9l.5-11v-5l.5 3.4v8l.5-2v-20.5l.5 20.2v18.4l.5-10.1v-21.1l.5-.5v14.1l.5 1v-14.9l.5-8.3v20.7l.5 3.4v-19.3l.5 3.4v13.8l.5 2.4v-28.4l.5 13.8v20.7l.5-9.4v-15.4l.5 11.2v15.3l.5-4.4v-17.5l.5 1.7v18.6l.5 1.3v-21.3l.5-4.7v15.3l.5 14.9v-21.7l.5-6.7v15l.5 4.6v-7.9l.5 1.5v9.8l.5 6.3v-31l.5 6.8v21.9l.5-2.3v-19.7l.5 .6v9.7l.5-5v-15l.5-1.4v26.9l.5-1.2v-28.8l.5 13.8v15.6l.5-1.8v-13.3l.5-9.5v15.1l.5 19.7v-13.9l.5-10.1v6.6l.5 .1v-14.6l.5-.3v21.7l.5 4.8v-20.8l.5-4v13.5l.5 5.3v-36.6l.5 15.6v13.1l.5 .4v-20.5l.5 14.1v13.7l.5-1.4v-13.2l.5-.2v16.8l.5-7.5v-12.3l.5-2.4v16.3l.5-3.8v-18.3l.5 12.9v9.1l.5 6.7v-26.6l.5 8.9v20l.5-10.1v-21.6l.5 7.7v14.7l.5 5v-22.4l.5 4v14.7l.5 0v-23.2l.5 3.6v10.8l.5 10.1v-13.8l.5 .8v7.9l.5-8v-4.7l.5-15.2v23.2l.5 11.4v-27.4l.5-2.2v17.2l.5 5.2v-23.7l.5 1.3v23.5l.5 .5v-16.9l.5-4.9v26l.5-1v-16.3l.5-1.7v32.6l.5-20.1v-12.1l.5-4.1v17.8l.5 1.4v-15.6l.5-12.6v17.9l.5 19.2v-14.8l.5-22.1v25.6l.5-3.5v-4.3l.5-.5v11l.5-13.8v-6.8l.5-13.5v31.8l.5-9.2v-7.6l.5-10v37.7l.5-10.6v-15.3l.5-1.4v13.1l.5-2.6v-13.8l.5 6.4v8.7l.5 4.6v-16.5l.5-8.5v18.9l.5 17.6v-30.7l.5-2.3v18l.5 10.3v-25.6l.5 15.3v18.3l.5-16.8v-17.6l.5-1.2v14.9l.5-2.3v-14.4l.5 9.2v17.3l.5-5v-16.4l.5 1.1v17.3l.5 12.2v-21.2l.5-10.3v17.8l.5 11.1v-16.7l.5-14.2v17.9l.5 3.6v-8.8l.5-.4v12.5l.5-1.3v-3.2l.5 0v5.7l.5-4v-.4l.5-6.8v.8l.5-7.5v-.1l.5-5.4l.5-6.9v.2l.5-7.4v-.5l.5-6.4v.9l.5-7.5v-1.1l.5-5.6v.5l.5-4.3v-.8l.5-3.5v1.2l.5-2.4v-.9l.5-6v2.2l.5-3.8v-1.4l.5-3.3v1.4l.5-3.9v-.1l.5-2.3v.6l.5 1.2v-4.8l.5-3.4v18.6l.5-9.4v-19.4l.5 15v11.4l.5 3.4v-13.1l.5-.5v12l.5-2.2v-23.8l.5 19.4v5.5l.5-4.5v-12.5l.5-12.4v30.3l.5-4.2v-8.2l.5 7.5v5l.5 11.8v-25.6l.5-4.9v19.5l.5-1.5v-12.4l.5 2.6v10.1l.5 .9v-24.8l.5 2.7v11.6l.5 .2v-10.3l.5 8.3v11l.5-6.5v-14.4l.5 7.2v20l.5-14.6v-17.1l.5 17.8v3.9l.5 0v-5.4l.5-9.5v20.3l.5-2.7v-21.3l.5 8.1v9.9l.5 .4v-16.6l.5-.3v17l.5 6.6v-23.8l.5 .6v9.6l.5 12.4v-21.3l.5-2.9v23.9l.5-6.1v-2l.5-8.6v13.5l.5-1.8v-9.7l.5-12.3v14.9l.5 2.9v-12.8l.5 3.7v12.8l.5-4.6v-12.6l.5 8.2v9.7l.5 5.9v-23.6l.5 5.2v14.4l.5-3.6v-12.4l.5-.1v18.1l.5-2.6v-11.8l.5-5.5v10.8l.5 1.9v-14.4l.5-4v26.7l.5 3.4v-19.7l.5 7.1v9.6l.5-14.2v-6.2l.5 3.6v9.4l.5 5.2v-24.1l.5 10.4v14.2l.5 4.2v-31.5l.5 9.7v25.7l.5-12v-17.9l.5 2.2v9.7l.5 14v-29l.5 9.1v18.4l.5-3.5v-21.2l.5 9.9v10l.5 2.8v-15.7l.5-8.3v10.4l.5 19.7v-22.6l.5-1.1v8.7l.5 6.4v-21.7l.5 2.1v23.4l.5-12.6v-8.9l.5 .3v20.3l.5-.5v-23.5l.5 11.2v22.5l.5-14.3v-15.2l.5 2.5v17.9l.5 .2v-16.5l.5-13.6v23.3l.5-2.4v-13.8l.5 12.6v12.6l.5-3.9v-21.2l.5-2.9v22.9l.5-5.6v-8.5l.5-4v25.6l.5-6.5v-6.3l.5-6.4v18.8l.5-8.6v-21.1l.5 11.9v9.1l.5 4.2v-14.8l.5-.8v18.8l.5 .5v-40.6l.5 16v22.8l.5-9.5v-9.6l.5 0v16.3l.5-7.3v-6.4l.5-13.7v19.3l.5 3.6v-7.5l.5-21.8v32.2l.5-.4v-13.4l.5-7.4v22.5l.5-3.1v-18.6l.5 1.6v17.7l.5 4.4v-15.4l.5-.5v18.9l.5-7.4v-16.7l.5 6.6v10.8l.5-1.2v-12.6l.5 1v25.8l.5-11v-8.9l.5-7v20.4l.5 8.8v-17.3l.5-19.7v20l.5 6v-13.9l.5-4.1v13.8l.5 6.7v-15.4l.5-6.4v24.8l.5-.6v-10.3l.5-17.2v22.5l.5-1.7v-12l.5-1.1v17.6l.5-2.3v-16l.5-.3v10l.5 12.3v-9.8l.5-10.1v17.5l.5-6.2v-14.6l.5 2.3v11l.5 6v-13.4l.5 1.5v11.8l.5 4.3v-13.6l.5-1.2v11l.5 .9v-9.8l.5 .6v5.1l.5 4.3v-15.3l.5 7.3v8l.5-3.6v-3.6l.5-.9v3.9l.5 5.5v-7.1l.5-5.2v9.5l.5 7.4v-12.5l.5-3.7v9.8l.5 0v-9.9l.5 3.2v6.9l.5 .2v-9.8l.5 .7v6.2l.5 7.3v-6.7l.5-10.4v11.3l.5 .9v-2.7l.5-3.9v10.7l.5 1.2v-15.1l.5 3.8v7l.5 2.4v-9.1l.5-.4v5.6l.5 2v-9l.5 4.6v3.2l.5-2.4v-2.3l.5-3v6.6l.5-2.2v-5.4l.5 3.6v1.9l.5 1.9v-6.7l.5 2.2v5.2l.5 3.4v-13.8l.5 5.7v6.1l.5-3.6v-2.8l.5 .2v6l.5-1.5v-6.5l.5 1.1v4.4l.5-.1v-7l.5 3.6v3.5l.5 1.6v-7.9l.5-.4v5.4l.5 .6v-3.4l.5 .7v3.1l.5 1.2v-5.1l.5-.5v4l.5 1.1v-7.8l.5 3.6v4.3l.5 2.8v-6.7l.5 .5v2.4l.5 1v-2l.5-3v4.9l.5-.3v-6.1l.5-.1v6.7l.5 .3v-5.1l.5 .7v2.8l.5 .4v-5.2l.5 1.1v4.6l.5-2.4v-3.9l.5 3.2v5.5l.5-3.3v-2.7l.5-1.1v5.4l.5-2.1v-4.6l.5 1.6v4.5l.5 1.7v-5.7l.5 .8v6.4l.5-.2v-5.7l.5-2.5v5.6l.5-4.4v-3l.5 .1v6.3l.5-2v-4l.5-3.6v8.5l.5 .9v-8.4l.5 .9v8l.5-.3v-5.6l.5 .2v7.6l.5 .1v-5.6l.5-7.9v11.1l.5 2.3v-6.3l.5-1.8v4.9l.5 2.4v-.5l.5-2.7v2.9l.5-1v-5.1l.5 1.1v9l.5-3.9v-2.1l.5-6.6v5.4l.5-1.7v-4.9l.5 3.2v4.9l.5 2.7v-7.6l.5-1.9v5.2l.5 4.7v-6.9l.5-1.9v8.5l.5-2.1v-3.9l.5-3.5v4.6l.5 .2v-3.3l.5-2.7v9.6l.5-2.3v-3.3l.5-3.2v10.8l.5-3v-6.6l.5 3.9v1l.5 2v-5.5l.5-.7v1.9l.5 3.8v-8.3l.5-1.9v14.5l.5-4v-7.3l.5 1v8.8l.5-3.4v-9.5l.5 .9v9.1l.5 .6v-8.1l.5-.2v6.9l.5 .8v-8.8l.5 .7v7l.5 2.2v-6.2l.5-4.2v8.2l.5 2.8v-10.4l.5-.3v6.9l.5 2.4v-9.3l.5 .2v2.8l.5 2.4v-8l.5 1.1v9.6l.5-2.2v-2.3l.5-3.4v5.2l.5 3.5v-8.3l.5-.7v10l.5-.2v-6.4l.5-3.3v8.6l.5-4.5v-4.1l.5 2.9v5.9l.5-2.3v-5.2l.5-2.5v7l.5 2.9v-5.3l.5-4.1v8.3l.5 .1v-7.2l.5-1.9v10.7l.5-1.4v-6.7l.5 4.3v2.3l.5-1.5v-2.7l.5-1.9v4.7l.5 0v-5.4l.5 2v1.6l.5 4.9v-10.7l.5 3.5v4.4l.5 4.6v-10.1l.5 .6v4.1l.5-.7v-4.3l.5-.1v4.7l.5 5.4v-8.7l.5-1.3v3.9l.5 2.2v-7.5l.5 2.6v6.6l.5-.5v-4.5l.5-2.1v8.5l.5-3v-8.8l.5 2.8v8.2l.5 0v-5.1l.5-4.3v8.3l.5-2.2v-6.8l.5 .5v9.8l.5-3.2v-4.8l.5 1.9v3.8l.5-.5v-10.1l.5 1.2v5.8l.5 2.2v-6.3l.5-.2v8.9l.5-1.5v-8.3l.5 2.8v10.3l.5-5.8v-5.4l.5-1.3v7l.5-2.2v-3.4l.5-5.3v8.5l.5 2.9v-3.7l.5-6.1v5.4l.5 8.3v-12.3l.5 5.2v3.7l.5 5.1v-10.7l.5-1v6l.5-3.2v-1.7l.5 .2v5.6l.5-.1v-8.7l.5 3.7v4.6l.5-1.3v-4.8l.5-1.7v6.2l.5-1.5v-5.2l.5 .1v8.4l.5 2.9v-9.4l.5-4.6v7.4l.5 .1v-6.3l.5 2.9v4.2l.5-1.7v-3.1l.5-.7v8l.5-2.6v-4.8l.5 2.4v4.3l.5-1.3v-3.7l.5 .1v3.5l.5 .5v-8.9l.5 4.3v6.5l.5-.5v-7l.5 1.6v6.9l.5-3.9v-2.7l.5-1.8v6.2l.5-2.4v-2.9l.5 .7v4.4l.5-.5v-6l.5 3.3v1.8l.5-.3v-3.9l.5 1v5.6l.5-1.6v-7.5l.5 3.1v1.9l.5 4.6v-5.7l.5-1.8v4.9l.5-1.5v-5.6l.5 3.8v3.9l.5 2.1v-4l.5 1.4v1.6l.5-7.9v-.4l.5-8.3v.2l.5-8.1v-2.2l.5-6.9v.7l.5-5.7v-1.7l.5-4v.4l.5 0v-.2l.5-5.2v.8l.5-3.8v-1.2l.5-3.7v1.2l.5-5v-.1l.5-7.4v.2l.5-3.4v-1.7l.5-2.3v1.4l.5 2v-.1l.5 .4v2.3l.5 2.2v-2.7l.5 .9v.8l.5-.5v-1.5l.5 1.9v1.2l.5-2.6v-1.6l.5 .7l.5-.3l.5-.3l.5-.2l.5-.3l.5-.2l.5-.3l.5-.3l.5-.2l.5-.3l.5-.2l.5-.3l.5-.3l.5-.2l.5-.3l.5-.2l.5-.3l.5-.3l.5-.2l.5-.3l.5-.2l.5-.3l.5-.3l.5-.2l.5-.3l.5-.2l.5-.3l.5-.3l.5-.2l.5-.3l.5-.2l.5-.3l.5-.3l.5-.2l.5-.3l.5-.2l.5-.3l.5-1.4l.5 .5l.5-5v.1l.5-5.7v-.7l.5-7.1v1.4l.5-4.9v-.1l.5-.6v8.1l.5 6.2v-8.4l.5-5.9v9.7l.5 5.6v-9.1l.5-12.1v14.7l.5 4.7v-7.7l.5-6.9v13.5l.5 .4v-14.3l.5 4.9v12.1l.5-10.6v-8.4l.5 .5v13.2l.5 3.5v-12.7l.5-.4v12.3l.5-2.6v-17.7l.5 1.1v10.3l.5 2.9v-5.6l.5-4.8v18.7l.5-11.6v-7.4l.5 2.5v7.2l.5-2.2v-11.2l.5 1.2v12.2l.5 7.9v-11.6l.5 .7v7.2l.5-1.7v-14l.5 8.9v8l.5-3.2v-7.2l.5-2.3v8.5l.5 4v-11.1l.5-1.9v14.5l.5-5.5v-4.4l.5-6.5v10l.5 .3v-15.2l.5 5.2v11.7l.5 2.2v-9l.5 1.6v10l.5-2v-15.4l.5 8.5v11.9l.5-5.7v-8.6l.5 1.7v6l.5 5.7v-11.9l.5-.1v14.2l.5-4.7v-7.9l.5-12v14.6l.5 6.2v-16.4l.5-2.5v18.5l.5-9.9v-13l.5-1.4v11.9l.5 13.9v-38.3l.5 14.7v11.5l.5-4.1v-6.9l.5 4.8v8.6l.5 5.5v-9l.5-16.1v20.8l.5 4.3v-14.5l.5-15.8v34.4l.5-1.8v-11.3l.5 2.8v6.1l.5 8.4v-7.5l.5 1.1v1.9l.5 7.5v-10.9l.5 1.7v4.6l.5 1.2v-7.8l.5-4.9v11.6l.5 1.6v-9l.5 3.9v8.7l.5-8v-9.8l.5 6.4v9.3l.5-3.2v-8.4l.5-2.4v10.7l.5 5.3v-13l.5 2v5.2l.5-.5v-8.1l.5 4.5v9l.5-2.7v-8.3l.5-3.5v9.9l.5 3.7v-10.3l.5-1.8v11.1l.5-3.8v-10.6l.5 4.3v7l.5 2.4v-7.9l.5 3.1v5.7l.5-5.9v-2.9l.5 3.1v3.7l.5-.4v-6.8l.5 1.5v9l.5-2.8v-9.1l.5-.4v9.5l.5 2.1v-15.7l.5 8.2v4.7l.5 1v-8.6l.5 .6v6.2l.5 6v-10.1l.5 1.7v2.8l.5-1.5v-5.2l.5 .6v5.4l.5 4.2v-10.3l.5 .9v7l.5 1.2v-9.7l.5-.5v11.1l.5-.7v-4.2l.5-2v8.4l.5 2.5v-12.5l.5 .2v4.2l.5 3.1v-8.2l.5-1.2v6.2l.5 2.9v-25l.5 .8v10l.5 5.4v-29l.5 4.7v12.4l.5 .7v-23.3l.5 8.7v11.4l.5-7.3v-4.3l.5-11.2v18.1l.5-5.6v-11.8l.5 .6v16.3l.5-.2v-14.8l.5-6.1v24l.5-4.2v-20.4l.5-5v18.7l.5 1.7v-13.1l.5 10v11.2l.5-.9v-14.1l.5 5.5v22.8l.5-17.2v-2.7l.5-17.6v12.3l.5 12.4v-26.1l.5 1.9v12.4l.5 10.8v-22.7l.5-5v20.9l.5 7.4v-35.9l.5 13.6v15.1l.5-1.1v-10.8l.5-6.5v13l.5 14v-36.4l.5 26.2v12.9l.5-.7v-18.5l.5-2.4v16.8l.5-1.2v-10.3l.5 1.3v26.1l.5-31.6v-9.3l.5 3.9v22.4l.5 9.1v-17.4l.5 11.6v12.1l.5 5v-8l.5-1.8v7.5l.5 6.1v-6.5l.5 1.9v2.2l.5 5.3v-8l.5 .9v3.2l.5 1.5v-4.1l.5-3.5v8.8l.5-3.3v-3.9l.5-1.2v6.2l.5 .5v-4.1l.5 .2v5.5l.5-4.5v-2.3l.5 2.5v6.4l.5-3.4v-3.1l.5 .9v4.1l.5 1v-5.6l.5-1.2v3.8l.5 4v-10.7l.5 1.7v8.6l.5-1v-4.3l.5-5.1v6.9l.5-.6v-6.2l.5 4v5.2l.5-1v-5l.5-4.5v10l.5-1.1v-7.4l.5 3.1v2.5l.5 1.2v-4.5l.5 2v6.5l.5-2.1v-6.7l.5 .4v5.7l.5-1.4v-7.1l.5 3.8v5.6l.5-1.4v-6.6l.5 2.4v5.6l.5-2.5v-6.5l.5 2v5.1l.5 4.9v-8.8l.5-1.5v5.8l.5-.3v-3l.5 .8v5.8l.5-4.7v-4.8l.5 2.7v3.1l.5 .3v-4.9l.5 4.8v1.8l.5-.6v-6.2l.5 1.4v4.5l.5 2.9v-10.6l.5 3.9v3.4l.5 1.3v-5.6l.5-2.5v7.9l.5-.8v-3.8l.5-2.3v2.4l.5 6.2v-6.2l.5-2.3v4.4l.5 .2v-5.4l.5 3.3v4.8l.5-1.6v-4.2l.5-.3v6.1l.5 .3v-6.5l.5 .2v6l.5 .7v-4.4l.5 .6v5l.5-5.5v-1.6l.5-.2v6.4l.5-3.4v-4.2l.5-1.4v5.4l.5 1v-7.8l.5 3.1v7.2l.5-2.6v-1.3l.5-4.7v4.1l.5 3v-4.4l.5-1.5v4l.5 1v-4.1l.5 2.7v4.5l.5-1.9v-4.9l.5-.9v7.7l.5-2.5v-3.1l.5-2.1v2.9l.5 1.8v-5l.5 .6v3l.5 1.1v-3.9l.5 1.3v4.5l.5-2.5v-1.9l.5-1.9v4.4l.5 .3v-5l.5 .7v7l.5-.6v-4.9l.5 .3v2.6l.5-2.9v-1.8l.5-.3v1.4l.5 3.8v-4.3l.5 .4v3.7l.5-1.2v-3.6l.5-1.7v7.5l.5-4v-3l.5 2.5v5.2l.5-.9v-1.5l.5-3.4v3.8l.5-.1v-1.6l.5-3.1v4.3l.5-1.2v-2.4l.5 2.1v2.6l.5 .6v-4.4l.5-3.8v1.4l.5-2.2v-2.8l.5-4.9v.4l.5-3.4v-.1l.5-5.2v1.2l.5-4.3v-.6l.5-3.3v.7l.5-5v-.7l.5-1.9v.6l.5-2.9v-.3l.5-.4v2.1l.5-1.5v-1.6l.5 .6v.3l.5 1.7v-3.5l.5 .2v.2l.5 1.3v-3.3l.5-6.8v25l.5-5.4v-12.3l.5 3.2v8.3l.5-2.7v-19.5l.5 4.9v11.9l.5 .9v-13.5l.5-1.5v9.3l.5 4.1v-8.5l.5-2v13.8l.5 4.8v-19.4l.5 6.2v18.9l.5-8.8v-6.4l.5-18.9v27.6l.5-4.4v-21l.5 3.6v19.9l.5-1.9v-13.8l.5 .5v20.4l.5-7.4v-17.5l.5-24.1v40.7l.5 3v-18.3l.5 .4v10.6l.5-7.9v-8.7l.5 9.8v14.9l.5 12.2v-28.4l.5-7.8v22.4l.5 11v-26.8l.5-.6v8.5l.5 8.2v-26.3l.5 3.9v10.7l.5 7.9v-31.7l.5 6.9v25.9l.5-5v-17.9l.5 1.5v21.1l.5-9.1v-5.2l.5-.4v5.4l.5 10.2v-22.8l.5-.8v20.6l.5 9.3v-14.7l.5-11.9v11.9l.5-4v-27.3l.5 26.1v5.5l.5 6.2v-24.8l.5 10.9v13.3l.5 3.7v-26.2l.5 12.6v13.9l.5-2.2v-23.8l.5-5v15.4l.5 7.9v-21.6l.5 13v18.5l.5-1.4v-31.6l.5 20.1v2.8l.5 6.3v-20l.5-5.4v20.2l.5-3.4v-6l.5-6v18.2l.5-9.4v-6.8l.5-10.3v14.4l.5 22v-24.8l.5-3.3v10.2l.5 4.6v-10.1l.5 8.2v6.1l.5 1.9v-14.9l.5-4.2v9.8l.5 8.6v-13.7l.5-10v27.5l.5-18.2v-3.2l.5 4v9.6l.5-44v-.2l.5-6.4v.1l.5-4.7v-2.2l.5-6.5l.5-7.3v1l.5-2.4v-3.2l.5-2.4v.7l.5-2.1v-1.8l.5-3.4v2.7l.5-1.4v-.7l.5 .9v0l.5-.9v-.4l.5-.3v2l.5 .1v-.8l.5-1.2v1.2l.5-.7v-.4l.5 2.2v5.2l.5-5.9v-3.5l.5 2.8v3.9l.5 10.4v-26.3l.5 1.1v22l.5 4.8v-23.7l.5 5.4v21.1l.5-7.8v-17.2l.5-17.7v24.9l.5 12.9v-32.9l.5 .4v25.5l.5 1.7v-17.1l.5-2v19.9l.5-3.3v-11.9l.5-18.7v37.4l.5-15.2v-15.9l.5 3.4v17.9l.5 .1v-34.6l.5 26.2v17.6l.5-.9v-44.7l.5 13.7v38.7l.5-6.6v-23.9l.5-.3v17.8l.5-1.5v-11.8l.5-.5v15.8l.5-2.8v-14.4l.5 5.2v22.9l.5-18.2v-23l.5 11.6v22.4l.5-4.5v-31.6l.5-1.2v31.2l.5 3.1v-33.7l.5 17.9v7.7l.5-5.1v-9.1l.5-4.3v27.4l.5-7v-22.9l.5 3.4v15l.5 14.7v-28.6l.5-7.7v29.8l.5 4.6v-32.2l.5 4.8v23.7l.5-8.3v-11l.5-2.2v14.7l.5 6.2v-14.3l.5-7.6v7.6l.5 8.7v-9.4l.5 3.3v11.9l.5-14.8v-12.2l.5 1.6v27.4l.5-.5v-23.1l.5 2.4v7.6l.5 9.4v-16.7l.5 .7v12.7l.5-2.8v-14.3l.5-14.8v24.9l.5-.1v-14l.5-5.1v24.5l.5-1.8v-12.3l.5 3.8v9.3l.5 7.6v-19.8l.5-2.1v11.6l.5 1.2v-19.3l.5-.2v17.3l.5-1v-7.9l.5-1.2v20.2l.5-15.2v-7.6l.5-7.7v32.5l.5 .6v-34.9l.5 19.8v8.8l.5 3.6v-25.4l.5 3.6v11.8l.5 8.9v-23.2l.5-1.2v20.9l.5-1.4v-13.8l.5 3.7v6l.5 9.1v-31.2l.5 6.3v14.6l.5-.1v-7.2l.5-4.4v10.2l.5-7.2v-9.4l.5 1.5v27.4l.5-1v-16.1l.5-16.3v38.3l.5 1.5v-17.8l.5-14.1v18.7l.5-2.6v-13.3l.5 5.7v23.5l.5-11.5v-36.9l.5 16.6v10.5l.5 10.1v-19.4l.5-2.9v16.7l.5-.8v-13.7l.5-4.3v31.4l.5-6.8v-26.2l.5 5.1v14.6l.5 4.3v-18.8l.5-5.3v24.6l.5-1.6v-16.1l.5-8.2v37.6l.5-5.5v-28l.5 13.2v8l.5 6.9v-24.5l.5-10.7v24.6l.5 16.1v-26l.5 5v10l.5-.4v-35.6l.5 30.4v5.8l.5-1.7v-16.8l.5 3.5v22.9l.5-1.9v-19.8l.5 1.2v25.9l.5 6.5v-24.7l.5-12.1v22.4l.5-6v-8.9l.5-4.6v13.5l.5 1.2v-14.4l.5-.3v20.9l.5 2.9v-22.3l.5-12.4v22.9l.5 14.5v-35.8l.5 5.8v8.7l.5 26.1v-42.1l.5 6.4v19.6l.5-1.6v-19.1l.5-13.4v50.4l.5-11.6v-17.6l.5-22.3v34.5l.5 6.3v-26.6l.5-10.5v31l.5-3.7v-9.9l.5-10.8v25.7l.5-.3v-17.7l.5-1v20.2l.5-7.1v-6.9l.5-2.5v23.2l.5-20.2v-12.2l.5-.3v13.2l.5 4.3v-13.6l.5 7.3v23.2l.5-17.2v-5.3l.5-13.9v27.8l.5-.6v-29.5l.5 10.6v6.6l.5-2.2v-9.4l.5 3.3v22.4l.5 .1v-27.6l.5-6.5v20.2l.5 12.8v-46.3l.5 21.1v25.1l.5 1.9v-15.1l.5-10.6v38l.5-23v-11.9l.5 9.9v12.2l.5-3.1v-46l.5 14.8v25.7l.5-5v-12.4l.5 2.1v15l.5 7.5v-48.8l.5 20.5v18.2l.5 13.3v-22.3l.5-1.4v20.6l.5 8.3v-37.3l.5-4.9v31.5l.5-9.3v-10.6l.5-26.1v37.1l.5 .1v-16.9l.5-2.2v29.8l.5-8.3v-20.7l.5 21.9v16.1l.5-22.2v-19.7l.5 1.2v42.4l.5-16.9v-15.1l.5-14.3v10.5l.5 19.5v-19.5l.5-7.4v22.6l.5-1.4v-13.7l.5-1.6v24.5l.5-1.9v-39.4l.5 15.5v28l.5-6.4v-17.9l.5-2.3v14.7l.5 15.9v-34.1l.5 3.9v26.9l.5-6.6v-23.3l.5-.9v22.4l.5-3.3v-19.6l.5 16.5v6.2l.5 10.1v-19.5l.5-4v21.7l.5-15.2v-16.6l.5 10.9v17.4l.5 11v-36.7l.5-3.6v24.3l.5-9.5v-2.4l.5-2.1v16.3l.5 13.4v-31.5l.5-24.3v46l.5-15.6v-18.9l.5 8.5v25.3l.5-4.8v-11.4l.5-12.2v31.2l.5-2.7v-26.7l.5 3.6v26l.5-15.3v-20.4l.5 13.2v9.2l.5 3.6v-9.7l.5-24.7v37.6l.5-.4v-18.4l.5-9.6v23.9l.5-3.7v-26.2l.5 6.6v38.5l.5-4.4v-39.3l.5-1.5v32.5l.5-8.8v-16.9l.5 5.2v23.9l.5-14.8v-7.7l.5-5.1v29.6l.5-6.2v-20.2l.5 5.9v19.6l.5-9.4v-16l.5-.8v23.6l.5-17.5v-5.2l.5 7.3v17.1l.5 3.3v-15.2l.5-16.8v33.8l.5-12.6v-25l.5 9.4v27.9l.5-20.6v-8.4l.5-10v33l.5 3.3v-22l.5 2.3v20.3l.5-5.3v-21.4l.5 .1v29l.5 1.1v-31.9l.5 3.2v25.5l.5-13.2v-16.4l.5-5.8v24.7l.5 14.8v-18.2l.5-8.2v8.6l.5 17.2v-21.9l.5-14.9v19.2l.5 12.6v-26.4l.5 2.5v14.9l.5 11.2v-27.5l.5-1.6v46.4l.5-25.9v-6.4l.5-8.5v17.6l.5 8.8v-16.4l.5 2.2v13.9l.5 12.1v-14.1l.5 4.7v17.1l.5-10.1v-9.5l.5 3v7.7l.5 8v-24.1l.5 3.5v5.5l.5 7.9v-19.1l.5-4.8v19.7l.5 8.7v-15.5l.5-8.3v17.3l.5-10.4v-3.9l.5-16.2v29.7l.5-.4v-20.3l.5-7.4v14.5l.5 2.9v-17.6l.5 3.6v21.8l.5-10.4v-27.3l.5 26.1v10.9l.5-3.8v-11.8l.5-9.7v14l.5-.5v-24.1l.5 9.3v23.6l.5 1.6v-21l.5-22.2v39.4l.5-2.5v-12.8l.5-9v22.6l.5 14v-28.7l.5 2.6v18.5l.5-13v-5l.5-4.5v28.7l.5-15.6v-5.8l.5-16.1v40.8l.5 .3v-39.7l.5 8v31.3l.5-20.6v-20.6l.5 3.3v18.7l.5-1.4v-26.8l.5 6.7v27.6l.5-4.9v-17.3l.5-2.8v26.8l.5-3.3v-18.9l.5-12.6v29.6l.5-7.1v-5.3l.5 2.3v9.2l.5-15.2v-22.4l.5 10.2v38.7l.5-17.4v-17.7l.5 7.8v13.2l.5 8.9v-26l.5 8.1v14.2l.5-7v-25.2l.5 1.9v32.8l.5-14.7v-19.5l.5-20.5v50.2l.5-4.1v-25.8l.5 1.5v36.5l.5-12.9v-25.5l.5 .5v18.7l.5 3.1v-12.7l.5-5.2v27.2l.5-12.9v-19.7l.5 .9v30.6l.5-13.5v-20.2l.5-14.3v40.4l.5-2.6v-15.8l.5 1.1v4.3l.5 15.9v-29.2l.5-11.3v29.9l.5 7.6v-28.7l.5 2v18.9l.5 10.2v-17l.5-5.9v13.3l.5-9.4v-26.9l.5 15.7v15.6l.5 1.3v-9.9l.5-11.6v22.1l.5 0v-11.9l.5 1.8v20.7l.5-15.1v-14.6l.5-4.9v26.4l.5 .3v-19l.5-4.6v20.6l.5-3.4v-11l.5-3.1v20.5l.5-.5v-5.2l.5-15.3v20.5l.5-5.7v-18.2l.5 4.2v13.2l.5-2.8v-5.8l.5-2.3v.8l.5-5.8v-2.9l.5-4.9v2.1l.5-6.6v-.5l.5-5l.5-5.5v1.4l.5-4.7v-3.1l.5-3.5v.9l.5-5.4v-.8l.5-6.2v.4l.5-2.7v-2.5l.5-2.8v1.7l.5-4.2v-.1l.5-3.6v0l.5 3v-8l.5 3.2v2l.5 1.3v-4.4l.5-18.1v15.9l.5 6.3v-15.1l.5-5.3v22.6l.5-2.8v-12.4l.5-15.6v23.7l.5 8.9v-20.3l.5-2.5v10.4l.5 9.1v-21.2l.5 5v15.8l.5-6.1v-9.4l.5-11.5v19l.5-9.7v-3l.5 19.7v2.9l.5-.8v-27.8l.5-13.8v23.2l.5 5.5v-8l.5 1.3v10.9l.5 8.5v-21.5l.5 5.2v10.6l.5-2.5v-28.7l.5 16.7v13.4l.5-11.2v-14.8l.5-1.6v23.9l.5 3.5v-5.3l.5-6.4v8.8l.5 10.6v-14.9l.5-2.6v13.3l.5-7.7v-3.8l.5-.5v15.5l.5-2.9v-26.3l.5-2.6v27.3l.5-2.2v-12.6l.5 4.3v12.8l.5 10.1v-38.5l.5 4v14.3l.5 1.7v-18.2l.5 3.1v18.4l.5 6.1v-22.8l.5-2.1v33.4l.5-20.9v-13.3l.5 6.6v36.7l.5-34.8v-4.4l.5 7v17.1l.5-.6v-35.3l.5 7.5v18.5l.5 13.2v-29.7l.5 9.4v37.5l.5 .1v-61.2l.5 16.3v25.9l.5-7.3v-19.7l.5 10.4v11.3l.5-2.6v-17.2l.5 3.1v6.9l.5 5v-18.1l.5 1.1v19.3l.5-1.3v-23.7l.5 6.4v20.6l.5-1.7v-31.2l.5 14.3v13.5l.5-6.4v-8.7l.5 .7v12.1l.5 4v-14l.5-.7v12.4l.5 5.8v-17.7l.5 2.6v9l.5 9.2v-20.2l.5-16.8v17.9l.5 25.9v-30.7l.5 3.3v27l.5-21.2v-11.3l.5-5.9v31.4l.5 20v-40.1l.5-4.4v44.7l.5-15.5v-17.8l.5 2.6v17.3l.5-5.7v-25l.5 1.5v38.8l.5-20v-13.8l.5-9.9v24.4l.5-8.4v-16l.5 4.8v17.1l.5 10.2v-31.3l.5 5.2v19.9l.5-11.3v-14.3l.5-3.5v27.2l.5-10.6v-5.6l.5-2.9v10.7l.5 5.3v-22.8l.5 9.3v7.1l.5 .5v-9.2l.5-5v24.1l.5-10.7v-18.3l.5 2v13.8l.5 15.2v-26.1l.5-10.8v27.5l.5-2.8v-8.2l.5-19.5v27.3l.5 15.2v-17l.5-10.3v16.5l.5 3.4v-30.4l.5 10.8v14.8l.5 .7v-7.4l.5-7.9v20.7l.5 3.3v-25.6l.5-6.5v33.7l.5-.5v-20.2l.5-14.1v44l.5-19.6v-21.7l.5 10v6.6l.5 12.4v-32.2l.5 .3v17.6l.5 12.7v-23.5l.5-3.7v28.9l.5-23.7v-2.8l.5-17.4v46.6l.5-19.3v-9.6l.5-22.9v48.9l.5 .7v-18.6l.5-14.1v26.8l.5-.4v-36.5l.5 10.6v27.1l.5-3.6v-22.7l.5 8v22.4l.5-12v-10.1l.5-.5v20.1l.5-6.8v-13.5l.5 1.1v14.9l.5 16.6v-28.8l.5-11.4v32.7l.5 13v-38.8l.5-2.4v20.3l.5 15.2v-20.6l.5-1.2v16.9l.5-1v-26.9l.5 2.4v10.2l.5 12.2v-8l.5-18.8v30.8l.5-6.7v-27.8l.5 4v19.3l.5 1.2v-30.3l.5 24.2v12l.5-9.2v-32.8l.5 16.7v10.7l.5 18.8v-10.8l.5-27.2v23.2l.5-4.1v-20.6l.5 15.9v9.9l.5-1v-25.8l.5 16.5v19.7l.5-8.8v-13.3l.5-22.2v31.3l.5-6.2v-14.4l.5 6.2v16.2l.5-10.1v-10.9l.5 10.7v12.3l.5-2.8v-10.5l.5 .8v10.6l.5 6.1v-30.3l.5 6.2v23.9l.5-1.9v-12l.5-2.7v17.9l.5-5.7v-31.8l.5 9.4v22.5l.5-5.2v-14.5l.5-3.9v34.5l.5-4.7v-30.5l.5 8.3v14.4l.5 11.8v-23.4l.5-9.6v9.3l.5 22.7v-33.5l.5 1.3v14.8l.5 2.5v-11.4l.5-4.6v29.3l.5 2.7v-33.9l.5 4.6v17.9l.5 7.3v-29.3l.5 5.1v38.2l.5-20.2v-7.8l.5-20.4v26.1l.5 9v-16.4l.5-2.9v5.6l.5 3.1v-16.8l.5 .7v16.3l.5 7.9v-29.2l.5 22v8.2l.5 4.8v-27l.5 4.6v28l.5-19.8v-12.7l.5-5.2v16.6l.5 6.9v-18.7l.5-14v21.9l.5 17.1v-15.5l.5-8.5v19.7l.5-5.7v-16.2l.5-11v37l.5-16.6v-16.1l.5 7.9v30.9l.5-10.3v-26.4l.5 1.8v30.3l.5-7.5v-15.8l.5-19.3v37.8l.5-10.5v-17.1l.5 18.5v9.8l.5-.5v-26.8l.5 6.2v15.5l.5-4.6v-17.1l.5 0v30.3l.5-14.4v-29.8l.5 9.7v21l.5 3.4v-8.9l.5-26.4v23.3l.5 11.5v-18.9l.5 1.1v13.3l.5-1.9v-23.6l.5 20.9v8.7l.5-2.9v-22l.5 7.2v25.3l.5-12.4v-26l.5 12.3v16.4l.5 26.7v-65.5l.5 12.2v42.1l.5-7.7v-14.9l.5-14.4v10.7l.5 4.5v-32l.5 20.3v22.1l.5 .4v-34.5l.5 14.6v9.4l.5 12.4v-12.3l.5-13.7v16l.5 16.5v-23.8l.5-11.7v15.9l.5 26.6v-34.4l.5-2.1v26.7l.5-2.6v-35l.5 8.5v18.8l.5 6.2v-25.4l.5-3v19l.5 4.6v-7.9l.5-22.7v40.8l.5-2.7v-32.6l.5 4.5v20.8l.5 .3v-23l.5 2.6v19.9l.5 5.8v-15.2l.5-4.8v20.9l.5-17.6v-15.8l.5 0v22.1l.5 21.6v-34.8l.5-2.3v37.5l.5-13.5v-12.8l.5-13.7v19.9l.5 .7v-23.3l.5 16.5v17.8l.5-6.8v-28.6l.5 5.9v22.5l.5-2.4v-39.5l.5 31.3v12.3l.5 2.4v-18l.5-28.9v41.3l.5 15.1v-48.8l.5 3.3v26.7l.5 11.1v-25.7l.5 4.1v13.4l.5-3.2v-25.1l.5 12.4v20.4l.5-6.9v-11.7l.5-17.7v37.9l.5-7.5v-19.1l.5 4.1v9.8l.5 13.1v-27.8l.5 1.2v37.9l.5-24v-13.5l.5 6.8v28.4l.5-11.3v-28.7l.5-3.3v30.8l.5-5.8v-16.1l.5 4.1v19.4l.5-7.6v-15.9l.5 5.8v13.5l.5 3.1v-25.3l.5-1.4v20.9l.5 11.7v-22.8l.5 2.4v11.5l.5-4.2v-20.8l.5-4.5v24.2l.5-4.7v-10.6l.5 8.2v14.7l.5 13.6v-39.4l.5-5v29.2l.5 7.6v-32.8l.5 20.7v10l.5 3.3v-14.6l.5-9.4v20.1l.5-4v-25.1l.5 15.4v12.4l.5-7.9v-15l.5-12.3v41.7l.5-5v-20.8l.5-20.6v49.2l.5-18.6v-12.2l.5 1.1v18l.5 6.6v-8.8l.5-29.1v24.9l.5 8.5v-13.9l.5-4.2v22.7l.5 2.3v-20.3l.5-2.7v27.6l.5-18.8v-4.7l.5-14.5v24.9l.5-5.3v-27.5l.5 .4v24.9l.5 7.4v-20.1l.5-6.6v27.2l.5 11.6v-29.3l.5-10v25.6l.5 10v-22.6l.5-4.6v29.6l.5-15.3v-5.4l.5-6.2v7.4l.5 16.7v-18.3l.5-18v14.9l.5 15.9v-18.8l.5-2.3v16.1l.5 3.1v-28l.5-1.8v17.5l.5 4.4v-16.9l.5-3.6v17.7l.5 14.3v-30.8l.5 3.1v30.7l.5-15.8v-9.6l.5-1.7v16.9l.5 9.4v-10.8l.5-25v45.4l.5-24.2v-1.6l.5-2.9v22.9l.5-4.9v-23.7l.5 4.8v6.3l.5 .1v-3.7l.5-5.8v2.1l.5-3.7v-.3l.5-11.5v.2l.5-9.2v-1l.5-9.6v2.3l.5-10.2v-2.5l.5-9.5v1.3l.5-4.5v-.1l.5-3.2v.4l.5-1.5v-2.8l.5-3.7v1.4l.5-1.8v-2.5l.5-2.1v.9l.5-.6v-2.5l.5-2.1v1.5l.5-2v-.3l.5-3.6v.5l.5 2.3v-3.5l.5 5.6v2.8l.5-3.9v-18.3l.5 5.1v10.5l.5 29.9v-40.5l.5-7.3v44.2l.5-1.6v-37.6l.5-9v41.4l.5-1.7v-51.5l.5 4.7v38.9l.5 24.1v-64.4l.5 28.1v13l.5-12.5v-30.5l.5 24.5v22.1l.5-2v-23.4l.5-14.2v27.9l.5 4.9v-18.2l.5-4.4v22.5l.5 16.3v-23l.5-14.1v21.9l.5 17.3v-52.6l.5 25.5v18.5l.5 13.3v-42.3l.5-8.6v37.4l.5 .8v-31.4l.5-8.8v20.4l.5 31v-60.2l.5 20.8v8.7l.5-5.3v-14.6l.5 2.1v43.6l.5 14.1v-40.9l.5-42.1v58.7l.5 36.5v-69.8l.5-20.1v46.3l.5 23.5v-30.9l.5-12.7v28l.5-3.5v-17.4l.5-14.3v29.6l.5 13.1v-23.4l.5-2.5v39.7l.5-17v-23.4l.5-16.9v12.7l.5 35.9v-40.5l.5-5.2v29.2l.5 12.9v-33.7l.5 11.8v14.7l.5 15.6v-38.4l.5-9.5v18.1l.5 4.7v-19.7l.5-1.6v17.9l.5 12.2v-36.7l.5 6v40.9l.5-15.6v-32.9l.5-2.7v33.2l.5 25.1v-49.5l.5-8.4v28.7l.5 15.7v-40.9l.5-1.9v36.4l.5-15.3v-17.7l.5 7.3v20.5l.5 3.1v-23.5l.5 7.8v27.2l.5 14.3v-51.4l.5 1.9v12.1l.5-15.8v-13.1l.5-11.9v40.3l.5 17.8v-39.1l.5-8.4v39.5l.5-5.7v-14.2l.5-16.6v30l.5-2.6v-12.8l.5-8.9v34.9l.5 4.2v-27.3l.5-8.6v40.2l.5-23.4v-30.8l.5 6.7v52.6l.5-23.6v-15.2l.5-2.6v26.7l.5 2.1v-38l.5 2.9v19.6l.5 14.9v-18.6l.5-20.6v25.4l.5 23.1v-36.3l.5-3.8v12.6l.5 15.1v-65.4l.5 28v31l.5 1.3v-36.3l.5 8v16.7l.5 21.1v-47.3l.5 14.1v25.3l.5 1.3v-29l.5-11.5v50.9l.5-9.9v-24.6l.5-1.4v12.9l.5 12v-17.4l.5-.2v12.1l.5 19.2v-43.7l.5 18.1v19.8l.5-18.2v-18.3l.5 7.1v37.5l.5-11.3v-25.1l.5-1.8v10.4l.5 19.6v-28.7l.5-25.5v34.4l.5 22v-46.2l.5-8.6v53.5l.5-10.6v-43l.5 0v25.1l.5 33.8v-35l.5-7.1v23.7l.5 11.2v-40.4l.5 14.6v15.1l.5 7.4v-31.8l.5 18.6v8.8l.5 27.1v-44.6l.5-8.4v17.3l.5 14.2v-29.7l.5 9.3v20.5l.5-5.9v-33.6l.5 15.2v27l.5 1.2v-36.5l.5 13.2v18.3l.5-17.7v-28.2l.5 21v30.3l.5-16.4v-23.7l.5 10.6v19.7l.5 6.7v-10.3l.5-12.7v11.5l.5 20.8v-32.1l.5-9.4v15l.5-.1v-16.3l.5 .4v25.2l.5 21.4v-40.6l.5-9.7v45.5l.5-3.5v-36.1l.5-9.9v62.6l.5-37.6v-12.2l.5 2.5v30.5l.5 10.3v-35.8l.5-11.2v42.9l.5-15.5v-26l.5 8.2v33.7l.5-5.4v-37l.5 1.3v29.8l.5 15.2v-69.4l.5 23.4v17.1l.5 19.4v-33.8l.5 13.7v10.2l.5-3.9v-26.8l.5 11.3v44.7l.5-6.1v-52.6l.5 23.7v32.9l.5-18.1v-31.7l.5 13.2v21.7l.5-2.1v-42.6l.5 20.6v15.6l.5 1.9v-29.8l.5 .4v26.6l.5-10.3v-30.7l.5 32.5v18l.5-3.1v-15.4l.5-4.6v34.5l.5-12.4v-25.3l.5-1.3v37.8l.5-36v-12.3l.5 5v32.5l.5 23v-75l.5 34v19.9l.5-20.4v-29.2l.5 16v26.2l.5-5v-18.6l.5-4v46.8l.5-14.1v-30.2l.5-22.6v49l.5 1.4v-32l.5-25.7v88.6l.5-24.2v-45.6l.5 17.3v27.2l.5-8.4v-28.6l.5 8.1v10.7l.5 12.6v-25l.5-12.1v26l.5 36.9v-58.9l.5 18.4v6.1l.5 32.3v-45.7l.5-.7v21.1l.5 16.1v-44.3l.5-4.6v35.4l.5 14.3v-24.2l.5-10.3v38.3l.5-24.2v-19.2l.5 6.1v26.4l.5-15.7v-26l.5 5.2v33.3l.5-2.1v-34.3l.5 14.6v37.4l.5-34.8v-8.6l.5-18.7v34.9l.5 12v-29.5l.5-7.6v28.1l.5 20.4v-71.4l.5 27.6v29.7l.5 14.3v-36.2l.5-12.3v23.4l.5 22.4v-31l.5-37v45.5l.5 3.6v-18.4l.5 2.3v19.8l.5 1v-23.3l.5-13.8v40.8l.5-5.4v-30.9l.5 8v27.8l.5-8.1v-24.5l.5-16.4v82.5l.5-14.3v-52.8l.5 15.7v23.4l.5-3.3v-33.5l.5-10.8v17.9l.5 34.3v-45.5l.5 4.5v37.4l.5-10.6v-41.9l.5 34.6v15.5l.5 20.6v-40.8l.5-14.9v30.2l.5-14.4v-20.8l.5-.2v23.7l.5 27.3v-32l.5-22.5v27.1l.5 4.7v-23.2l.5-23.7v39l.5 28.5v-45.8l.5 4.6v43.6l.5-12.9v-38.3l.5-3.4v48.7l.5 12.7v-63.1l.5-26.2v55.7l.5 11.9v-45.4l.5 1.1v58.5l.5-8.1v-45.3l.5 13.2v24.9l.5 10.5v-50.7l.5 8.5v24.4l.5 14v-45.9l.5 11.1v15.2l.5 10.5v-53.6l.5 5.4v35.6l.5 25.6v-54.2l.5 7.5v43.4l.5-5.4v-54.4l.5-2v56.1l.5-.1v-30l.5-27.1v43.7l.5 47v-55l.5 13v10.7l.5-19.7v-37.7l.5 5.1v43.5l.5 8v-34.1l.5-14.2v26.7l.5-10.1v-29.3l.5 44.8v20.5l.5 10v-41.1l.5-12.9v28.8l.5 32.1v-56.6l.5 2v22.8l.5 6.2v-33.8l.5 5v36.9l.5-14.7v-22.7l.5-30.2v50.6l.5-.4v-12.5l.5-18.6v48.5l.5 8.4v-34.3l.5 20.3v8.1l.5-13.6v-26.9l.5 7.7v27.7l.5 11.1v-59.7l.5 7.2v45.6l.5-12.9v-28.5l.5 7.6v23.5l.5 15.5v-45.8l.5 14.6v30l.5-13.1v-18.5l.5-11.6v33.4l.5 11.7v-54.1l.5 2.5v35.2l.5 25.9v-69.3l.5 15v30.8l.5-12.6v-39l.5 13.3v34.7l.5-6.5v-10l.5-24.7v54l.5 12.2v-68.3l.5 13.5v51l.5-35.4v-23.3l.5 18.3v39l.5-10.9v-32l.5 .3v29.6l.5-16.7v-21.9l.5-23.5v56.4l.5 16.2v-33.9l.5-25.2v31.9l.5 5.7v-26.7l.5 7v23.4l.5-3.3v-27.7l.5-15.6v64.7l.5-25.4v-13.5l.5-9.5v18.6l.5 24.1v-46.2l.5 19.6v21.7l.5-17.4v-23l.5 1.7v45.8l.5-13.3v-17l.5 5.5v23.4l.5-2.8v-34.3l.5-7.2v22.6l.5 41.7v-85.7l.5 14.8v39.7l.5-.2v-23.1l.5-12.9v45.1l.5-5.3v-16.7l.5-29.2v74.1l.5-31.5v-18.8l.5 7.5v23.7l.5-28.6v-37l.5 30.2v33.2l.5 2.4v-52.1l.5 .2v27.5l.5 32.7v-47.7l.5-6.4v27.1l.5 3.1v-21.8l.5-4.7v34.6l.5-4.9v-36.2l.5-.3v31.3l.5 22.7v-32.1l.5-1.6v19.3l.5-5.2v-21.5l.5-24.6v61.2l.5-11.9v-25.1l.5 2.8v17.1l.5 17v-53l.5-1.2v42.7l.5-13.9v-16.2l.5 20.7v11.2l.5 13.2v-60.7l.5 11.7v44.6l.5 11.5v-70.6l.5 22.3v59.2l.5-39.4v-13.7l.5-17.5v18.6l.5 15.9v-13.5l.5 .5v13.7l.5 35.9v-47.4l.5 7.2v9.6l.5 .8v-42.4l.5 8.3v42.9l.5-13.3v-24.4l.5-13.8v62.3l.5-3.9v-25.2l.5-27.7v44.7l.5-14.9v-18.2l.5-5.8v27.3l.5 6v-39l.5 11.2v39.9l.5-20.5v-16l.5-7.3v46l.5-23.5v-38.1l.5 12.2v45.3l.5-5.8v-38l.5 1.9v15.1l.5-36.2v-1.1l.5-36.8v.5l.5-16.4v-3.7l.5-5.9v7.5l.5-6.7v-6.9l.5-11.3v41.2l.5 4.9v-57.9l.5 23.1v12.5l.5 19.5v-64.5l.5-7.7v72.5l.5-4.5v-44.8l.5 9.3v23.3l.5 38.3v-73l.5 10.7v33.7l.5 5.5v-34.2l.5 6.4v40.7l.5-31.4v-15.4l.5 12.5v13.9l.5-4.5v-28.3l.5-.6v46l.5 12.6v-59.2l.5 6.3v9.4l.5 9.9v-31.9l.5 8v46.4l.5-19.1v-44l.5-6.9v45.1l.5-2.7v-11.9l.5-27.7v66l.5-6.2v-34.2l.5-1.9v20.1l.5-1.1v-30.5l.5 7.6v24.6l.5-15.7v-15l.5 12.8v20l.5-6.1v-23.7l.5 26.1v6.3l.5 6.3v-22.9l.5-22.5v35.9l.5-1.5v-20.8l.5-12.3v40.1l.5 10.4v-43.3l.5 3.2v27.6l.5 .7v-24.9l.5-14.9v41.4l.5 .5v-31.6l.5-5.2v29.9l.5 26.9v-28.5l.5-18.5v33.1l.5 8.3v-38l.5-17.9v42.5l.5-3.8v-28.3l.5-7.3v22.9l.5 21.3v-37.1l.5 12.2v36.9l.5-34.4v-19.7l.5-5v50.2l.5-11.6v-28.6l.5-15.5v50.3l.5-2.2v-35.6l.5 12.4v14.6l.5 18.6v-70l.5 26.8v23.1l.5 6.8v-39.8l.5-7.2v21.4l.5 29.8v-20.6l.5-17.4v29.5l.5 12.7v-35.2l.5 4.3v27.2l.5-15.6v-12.8l.5-2v30.3l.5-10.6v-18.1l.5-31.2v49l.5 10.2v-52.7l.5 16.7v58.3l.5-29.5v-21.7l.5-2.4v26.7l.5-1.2v-63.6l.5 12.7v40.5l.5-9.4v-16.6l.5-7v48.3l.5-5.2v-17.6l.5-6.8v32.4l.5 20.9v-69.8l.5 5.3v37.5l.5 8.9v-60.2l.5 20.7v33.5l.5-8.8v-26.3l.5-4.2v39.5l.5 5.5v-32l.5-9.9v38l.5-3v-31.4l.5 9.7v20.4l.5 15v-29.7l.5-16.6v35.5l.5-6.1v-21.2l.5-5.7v32.3l.5-5.4v-35.1l.5 14.2v19.6l.5 10.3v-28.3l.5-19.4v38.9l.5 18.2v-21.1l.5-.8v12.7l.5 4.3v-34.3l.5-1v33.8l.5 14.7v-30.1l.5-2.9v1.8l.5 24.2v-55.2l.5 34.5v27.5l.5-28v-19.7l.5-5.1v6.8l.5 15v-8.2l.5-16.2v37.5l.5 10.1v-24.3l.5-18.3v40.8l.5 6.9v-44.3l.5 5.7v33.6l.5 10.9v-44.8l.5 2.9v45.3l.5-35.9v-4.5l.5-6v14.7l.5 13.8v-22.2l.5-22.5v56.9l.5-5v-55.8l.5 18.4v19.6l.5 25v-48l.5-29.4v54.1l.5 12v-25.9l.5-12.9v44.7l.5-7.3v-23.6l.5-34.6v55.2l.5-16.9v-11.8l.5 4.3v15.9l.5 29.3v-58.6l.5-8.4v31l.5 31.3v-50.6l.5 1.1v17.6l.5 5.5v-27.8l.5-7.4v51l.5-.7v-22.8l.5-19.7v26.7l.5 16.7v-38.1l.5 1v31.2l.5 6.2v-37.2l.5 .8v48.4l.5-19.9v-49.5l.5 8.8v38.3l.5 6.6v-28.4l.5-18.6v40.5l.5 2.5v-32.8l.5 14.4v16.7l.5 7.4v-22.9l.5-20.8v29.2l.5-1v-50.7l.5 30.8v6.6l.5 4.2v-14.3l.5 1.4v20l.5 22.7v-39.2l.5-5.3v39.7l.5-1.3v-31.5l.5-11.5v38.2l.5-5.9v-55.8l.5 40.5v9.1l.5 21.8v-40.6l.5-6.9v37.4l.5 19.5v-58.9l.5 18.1v28.3l.5 2.7v-53.2l.5 22.4v27.3l.5-5.5v-14.3l.5-7.6v13.4l.5 14.8v-30.8l.5-4.8v33.8l.5-3.3v-34l.5-12v49.8l.5 15.8v-25.6l.5-21.1v30.6l.5-13.8v-47.7l.5 27.8v21.4l.5 5v-28.8l.5 3.8v22.5l.5-3.2v-26.5l.5 15.4v20.3l.5-7.7v-16.4l.5 6v8.8l.5 5.1v-35.5l.5 13.4v21.4l.5 15.5v-27.1l.5-28.4v40.6l.5 14.6v-29.7l.5-5.4v19.7l.5 16v-39.8l.5 .4v33.6l.5-16.8v-23.1l.5 2.6v32l.5 3.5v-27.4l.5-9.5v31.5l.5 25.4v-50.6l.5 2.1v34.4l.5-17.8v-12l.5-16.8v45.8l.5 1.8v-38.1l.5 14.8v9.3l.5 18.9v-31.4l.5-10v30l.5 9.6v-53.1l.5 10.1v20.4l.5 1v-7.1l.5-14.4v31.7l.5 .1v-36.1l.5 11.4v20.4l.5 20v-47.2l.5-3.9v43.9l.5-12.2v-40.1l.5 23.7v11.9l.5-.8v-33l.5 3.4v21.4l.5 19.4v-36.7l.5 4v54.9l.5-24.8v-6.5l.5-22.9v25.7l.5-11.8v-9l.5-11v26.2l.5 10.7v-22.3l.5-22.4v33.5l.5 17.7v-38.4l.5 9.4v38.9l.5-14.4v-39.4l.5 10.6v32.5l.5-4.1v-36.9l.5-1.9v9.8l.5 25.8v-28.9l.5-1.8v27.7l.5 2.1v-35l.5-4.3v32.1l.5 .9v-30.5l.5-3v37.9l.5 10.8v-44.2l.5-22.5v56.2l.5 3.5v-31.3l.5-31.6v68l.5 .3v-55.2l.5 26.5v27.9l.5-15v-29.8l.5 19.3v36l.5-15.2v-38.1l.5 17.9v11.4l.5 6.5v-45l.5 15.4v22.8l.5 3.9v-35.9l.5-13.6v26.9l.5 26.8v-24.9l.5 6.4v23.7l.5-22.3v-17.3l.5 5.2v17.5l.5 1v-19.4l.5-9.6v39.1l.5-6.6v-22.3l.5-11.7v31.7l.5-7.3v-33.9l.5 13.8v47.9l.5-25.4v-54.9l.5 20v27.5l.5 8.1v-16.7l.5 3.3v24.6l.5-18.6v-18.5l.5 7.5v25.6l.5 12.3v-30.9l.5-23.6v63.2l.5-13.9v-27.3l.5-12.4v15.5l.5 24.8v-41.4l.5 7.3v31.8l.5-.8v-46.2l.5 6.4v44.4l.5-1.8v-8.3l.5-41.1v26.4l.5 30.5v-26.6l.5-21.6v28.2l.5-4.6v-16.5l.5-22.2v71.4l.5-20.9v-9.8l.5-23.6v43.1l.5-4.9v-56.2l.5 16.7v32.8l.5-5.4v-24.1l.5 3.5v43.9l.5-8.1v-45.4l.5-8.5v45.7l.5 6.7v-23.8l.5-18.2v51.9l.5-13.3v-33.6l.5-7.6v34l.5 20.3v-28.7l.5-16.9v30.2l.5 6.3v-32.2l.5-8v37.5l.5-15.8v-18.8l.5-3.2v44.1l.5 23.9v-51.2l.5-10.8v21.6l.5 9.9v-26.9l.5-10.8v26.1l.5 12.6v-28.7l.5 2.4v30l.5-5.7v-39.5l.5-17.4v74.1l.5 6.5v-52.9l.5 10.4v30.1l.5-12.4v-27.2l.5 7.7v19.3l.5 11.5v-39.2l.5 5.4v21.9l.5-10.9v-17.4l.5 3.4v28.8l.5-2.5v-44.5l.5 32.7v10.6l.5-1.1v-29l.5 11.2v24.5l.5 .7v-18.3l.5-1.1v38l.5-39v-7.1l.5-4.9v39.4l.5-25.7v-32.9l.5 24.9v15.6l.5 15.7v-56.6l.5 19.9v41.2l.5-8v-19.2l.5-29.1v48l.5 6v-32.8l.5 4.6v11.8l.5 3.4v-36.8l.5 .5v51.4l.5-21.7v-16.9l.5 2.8v38.5l.5-19.5v-37l.5 8.2v27.6l.5 6.8v-19.3l.5-36.2v37.4l.5 20.4v-36.5l.5 10.6v24.9" fill="none" stroke="#757575" stroke-width="4.0" stroke-linejoin="round" stroke-linecap="round"/>
<path d="M319 1396.1v1.4l.5-.2v-3.7l.5-2.9v2.8l.5 1.4v-3.4l.5-8v5.4l.5-1v-3.5l.5-3v2.3l.5-3.8v-4.3l.5 .5v1.2l.5-2.3v-2l.5-11v2.9l.5-6.1v-3l.5-9.3v3.2l.5-7.1v-1.1l.5-9.8v3.7l.5-13.9v-6.5l.5-12.1v1.4l.5-13.9v-2.8l.5-11.8v1.9l.5-4.7v-7.6l.5-10.6v5l.5-7.7v-3l.5-.1v3.3l.5-.6v-3.7l.5-2v4.2l.5-12v-2.2l.5-12v3.5l.5-13v-1.2l.5-8.4v1.5l.5-3.2v-1.2l.5-7.9v5.8l.5-3.2v-4.4l.5-3.8v2.8l.5-3.6v-.8l.5 1.2v4.2l.5-1.7v-2l.5 2.3v3l.5 1.1v-.7l.5-3.5v5.2l.5 .7v-3.7l.5 1.2v3.5l.5 5.9v-7.5l.5 5.8v2.4l.5 3.2v-3.7l.5-1.7v6.3l.5 3.5v-2.7l.5-1.1v4.6l.5 3.9v-2.6l.5 2.2v2.3l.5 .5v-3.2l.5 2.3v4.6l.5 1.3v-2.8l.5 2.2v6.7l.5-.9v-3.5l.5 4.9v2.3l.5 4.4v-2l.5 .6v3.2l.5-1.7v-1l.5-1.9v6.6l.5-.3v-1l.5 .8v3.3l.5 1.2v-3l.5 2.7v2.3l.5-.5v-5.8l.5 5v1.2l.5 2.2v-3.6l.5 1.3v2.3l.5 .1v-.8l.5-.5v2.1l.5 0v-1.4l.5-.9v3.3l.5 3.3v-3.8l.5-2.5v3.1l.5-.4v-2.2l.5 .5v3.5l.5-1.3v-4.5l.5-2v3.5l.5 1.8v-8.2l.5 2.9v.6l.5-6.2v-6.2l.5-7.4v2.5l.5-2v-4.7l.5-4v2.3l.5-9.4v-4.1l.5 1.4v5.7l.5 .2v-5.8l.5 2.1v3.6l.5 1.2v-2l.5-.7v3.6l.5 2v-3.4l.5 1.3v3.6l.5 0v-4.5l.5-.4v2.1l.5 1v-3.1l.5-3.2v5.7l.5 3.4v-4.1l.5-1.5v1.8l.5 .9v-3.3l.5-1.1v3.6l.5 .3v-2.1l.5 .3v1.9l.5 .1v-5.1l.5 2.5v3.5l.5 1.2v-4.4l.5 1.2v3.3l.5 .9v-1.9l.5 .6v5.1l.5 0v-1.3l.5-.3v1l.5 3.5v-4.3l.5-.2v4.1l.5-.9v-4.7l.5-2.3v2l.5-2v-2l.5-.7v1.4l.5-1.1v-2.2l.5-3.6v1.9l.5-3.9v-.3l.5-2.7v4.6l.5 2.3v-2.4l.5-1.5v5.1l.5 1.2v-2.5l.5 1.8v2.8l.5 6.3v-9l.5 6.8v1.9l.5 1.9v-3.4l.5 1.6v4.4l.5 3.6v-5.8l.5 4.7v3.2l.5-9.2v-2.4l.5-13.9v6.1l.5-8.8v-2l.5-3.8v1l.5 3.9v-4.5l.5 2.4v7.2l.5-.7v-3.6l.5-.3v4.1l.5 1.9v-1.8l.5-1.3v4.9l.5 .8v-2.3l.5-1.8v1.4l.5 3.9v-1.1l.5-1.2v2.8l.5 1.1v-5.9l.5 1.9v3.1l.5-1.9v-1.2l.5-1v4.3l.5 1.2v-2.5l.5 .2v3.6l.5 .3v-2.1l.5-.1v2.5l.5 1.2v-4l.5-2.7v5.4l.5 1.4v-3.9l.5-.8v4.9l.5 1v-6.6l.5 2.4v4.2l.5-1.8v-.9l.5 1.1v2.3l.5 1.4v-2.6l.5 .9v6.2l.5-3.9v-.8l.5 .9v2.5l.5 1.9v-3.9l.5 2.2v3l.5 1.9v-2.7l.5 2.7v1.3l.5 2.7v-5l.5 .6v2.1l.5 3.3v-3l.5 .7v3.7l.5-3.6v-2.6l.5 3.8v1.7l.5 .9v-3l.5-3.1v1.6l.5 5.5v-7.1l.5-5.1v4.2l.5-3.6v-3.5l.5-5.6v3.1l.5-4.1v-5.7l.5-1.1v5.5l.5-2.2v-2.8l.5 .5v7.9l.5-.4v-5.7l.5 3.4v2.3l.5 2.6v-2.2l.5 3.2v2.5l.5-1.4v-4l.5 1.5v5.4l.5-2.6v-4.4l.5 2.9v1.4l.5 0v-4.7l.5 2.3v2.2l.5 1.4v-5.2l.5 2.3v4.9l.5-3.3v-1.7l.5-.8v4.8l.5 .5v-3.6l.5 .1v1l.5 3.1v-3.6l.5 .7v5l.5-2.8v-5.8l.5 2.4v1.7l.5-7.3v-4.3l.5-1.7v3.1l.5-1.6v-3.6l.5-6.1v7.2l.5 2v-2.7l.5-.1v2.8l.5 5.4v-7.3l.5 4.6v2l.5 .9v-.9l.5 5.8v1.5l.5-3.5v-.9l.5 2.2v2.4l.5-.8v-4.2l.5-2.3v7l.5-7.9v-1.4l.5-5.8v6.7l.5-4.7v-2.4l.5-2.3v3.3l.5-4.2v-.7l.5-4.2v3.8l.5-.5v-2.2l.5 5.3v4.9l.5 2.7v-2.9l.5 4.3v2.1l.5 5.4v-2.9l.5 1.7v4.1l.5 3.7v-3.1l.5 3.9v2.4l.5-5.8v-1l.5-5.4v4l.5-4.2v-1.5l.5-3.2v2.4l.5-3.1v-.7l.5-2v3.9l.5 .4v-4.1l.5 3.7v2l.5 .2v-5.1l.5 1.4v3l.5-1.2v-3.1l.5-2.7v2.6l.5 2.9v-4.9l.5-.3v1.9l.5 1.5v-3.8l.5 3.4v2.2l.5 1.3v-4.1l.5 2v2.4l.5 4.2v-4.1l.5-3.4v6.5l.5 2.2v-3.9l.5-.6v5.8l.5-2.9v-3.7l.5 1.8v1.6l.5 4.6v-6.5l.5 .3v4.3l.5 1.7v-4.6l.5-.7v3.1l.5 4.8v-5l.5-1.1v2.5l.5-.5v-1.3l.5 0v3.6l.5-1.5v-1.9l.5-4.3v4.6l.5-2.4v-2.9l.5-5v2.8l.5 1.9v-5.6l.5-.3v2.2l.5-1.4v-4.2l.5-1.9v2.7l.5 3.6v-2.4l.5 2.5v.6l.5 3.6v-2l.5 4.7v1.4l.5 1.7v-3.3l.5 4.6v3.2l.5-4.3v-3.1l.5 .2v4.8l.5-4.6v-3.8l.5 1.8v2.2l.5-3.1v-2.6l.5-1.1v2l.5 0v-2.3l.5-4.3v4.3l.5 3v-5l.5-4.1v9.7l.5-.4v-4.6l.5-.6v4.7l.5-.8v-2l.5 2.3v1.2l.5-2.1v-1l.5-.2v2.1l.5-.7v-4.1l.5 .4v2.8l.5-1.7v-6.9l.5-.9v4.9l.5 1.3v-3.4l.5 .4v1.9l.5-6.2v-.7l.5 .6v4.5l.5-1.4v-2.1l.5 4v3.2l.5 5.3v-5.6l.5 3.3v2.1l.5 7.6v-6.1l.5 5.9v.8l.5 8.9v-5.7l.5-.9v4.4l.5-.3v-3.2l.5 4.8v1.8l.5 .1v-3.2l.5 2v1.3l.5 1.2v-2.9l.5 .7v2.1l.5 1v-3l.5 3.7v2.7l.5 0v-3.9l.5 3.3v5.1l.5 2.4v-8.1l.5 4.2v3.8l.5 .7v-3l.5-1.9v1.7l.5-3v-2.2l.5-6.6v5.1l.5-6v-3.8l.5-5.8v5.7l.5-2.7v-2l.5 3.4v1.4l.5 6.3v-6.3l.5-.5v4.7l.5 .1v-5.1l.5 3.7v4.1l.5-.9v-2.3l.5 2.5v2.5l.5 1.5v-1.9l.5-.9v5.3l.5-2.9v-.5l.5-.6v3.1l.5 .6v-9l.5 4.8v5l.5-1.6v-5.2l.5-.2v3.8l.5-1.7v-.5l.5-1.1v2.8l.5 5.3v-1.6l.5-1v2l.5 3.8v-4.5l.5 3.3v1.1l.5 4.2v-2.1l.5 .7v2.1l.5 4.9v-4l.5-4.7v2.7l.5-4.6v-2.3l.5-6.7v2.3l.5-8.6v-1.2l.5-.3v6.7l.5 5.1v-3.6l.5 7.9v2.8l.5 4.9v-1.8l.5 1.5v1.2l.5-2.2v-6l.5-6.9v3.1l.5-1.6v-8.4l.5-3.6v3.3l.5-6.3v-3.2l.5-2v4.1l.5-4.3v-1.8l.5 .3v2.2l.5 3v-8.5l.5 1.1v3.6l.5 .5v-3.6l.5-2.9v3.1l.5-5.7v-3.9l.5-7.1v5.3l.5-7.4v-3.7l.5-8.5v8.7l.5-9.4v-4.3l.5-2.1v3.9l.5-1.2v-4.7l.5-6v2l.5-3.9v-4l.5-4.7v6l.5-8.3v-4.3l.5-7.4v4.8l.5-4.7v-1.7l.5 4.5v2.1l.5 1.3v-5l.5 4.9v4.7l.5 2v-1.3l.5 .1v6.7l.5 4.6v-4.1l.5 4.9v2.4l.5 6.3v-6.3l.5 2.3v6.5l.5-1.6v-4.9l.5-.4v4.5l.5-4.6v-1.9l.5-2.3v.3l.5 .4v-4.9l.5-2.8v4.5l.5-1.3v-2.4l.5-4.8v3.9l.5-3.3v-4.5l.5-3.1v2l.5-4.1v-3.6l.5-2.5v4.1l.5-3.8v-.7l.5 .6v4.8l.5 4v-2.5l.5 5.2v4l.5 1.7v-3l.5 5v3.7l.5 2.9v-2.2l.5 .3v1.7l.5-3v-2.4l.5 .9v3.5l.5-1.3v-3.7l.5-4.9v5.5l.5 2.4v-2.8l.5-2.7v3.5l.5 2.4v-5.7l.5 0v2.6l.5-.7v-2.1l.5-2.9v3.6l.5-.3v-.3l.5 .5v2.7l.5-1v-1.5l.5 .1v1.1l.5 2.9v-5.5l.5 .8v.3l.5 3.1v-4.3l.5 .3v5.5l.5-2.3v-3.2l.5 2.8v3.3l.5 4.6v-5.5l.5 .6v3.3l.5 5.6v-3.8l.5 1.2v4.7l.5-1.7v-5.6l.5 7.2v1.1l.5-.2v-2.7l.5-3.4v3.7l.5-4.6v-3.3l.5-2.3v2.7l.5-3.9v-3.4l.5-3.7v5.1l.5-5.8v-3.6l.5-1.7v3.7l.5 4.6v-2.4l.5 1.4v2l.5 .5v-1.6l.5-.6v5.4l.5 .5v-2.3l.5 5.4v1.8l.5 4.3v-4.6l.5 .6v1.2l.5 2.9v-2.2l.5-2v2.2l.5-11.9v-1.2l.5-9.1v4.4l.5-10.8v-2.6l.5-7.5v2.9l.5 3.6v-2l.5 3.5v3.2l.5 2.2v-2.3l.5 2.8v4.2l.5 6v-4.8l.5-.3v6.3l.5-.1v-1.3l.5 1.6v2.7l.5 .5v-4.1l.5 1.9v3.2l.5 .6v-6.2l.5 6.1v1.6l.5 1.3v-3.6l.5 1.3v2.8l.5 .5v-2.2l.5 .9v3.3l.5-4.4v-2.1l.5-6.1v4.9l.5-2.8v-7.3l.5-1.8v5.5l.5-6.4v-3.2l.5-.3v4.5l.5 3v-1.8l.5-2.2v3.8l.5 .9v-3.2l.5 1.9v1.1l.5 2.5v-3.8l.5 1v3.8l.5-1.5v-3.6l.5 2.5v7l.5-1.6v-2.1l.5-.5v3.7l.5-.3v-2.9l.5 2.5v4.5l.5-6.7v-1.9l.5 2.2v1.7l.5 1.8v-1.6l.5-.6v5.4l.5-.4v-3.8l.5 1.6v4.6l.5 .4v-4.8l.5 2.4v1.6l.5-.6v-2.1l.5-.3v3.4l.5-1.9v-3.2l.5-4.6v4.6l.5-3.3v-1l.5-1.3v1.7l.5-4.1v-.9l.5-1v4.7l.5-2.5v-4l.5-4.5v5.3l.5-1.4v-2.3l.5-2v2.8l.5 2.4v-6.1l.5 1.6v5.9l.5 .1v-2.7l.5 .7v5.2l.5-2.5v-.9l.5 .2v4.6l.5 1.7v-4.8l.5 2.7v.6l.5 3.7v-3.6l.5 2v1.6l.5 .1v-3.1l.5-.1v4l.5-2.4v-4.5l.5 4.6v1.9l.5 2.5v-2.1l.5-3.9v4l.5 3.9v-5.9l.5 1.5v2.8l.5-1.2v-2.3l.5 .6v1.1l.5-.5v-4l.5-1.9v5.4l.5-4.5v-3.3l.5-1.1v2.2l.5 1.8v-4.2l.5-.4v5l.5-5.3v-4l.5 1v1.5l.5-1.7v-2.6l.5-.9v2.9l.5-4.2v-4.9l.5-4.5v4.8l.5 2.8v-4.7l.5-2.2v3.7l.5 2.2v-2.1l.5 .7v1.8l.5 4.4v-2l.5 .6v2.4l.5 6.1v-4.6l.5 .1v4.5l.5 7.1v-5.2l.5 .6v1.5l.5 4.4v-4.7l.5 2.8v2.1l.5 3.1v-6.1l.5 6.6v3.9l.5-2.9v-1.1l.5-4.5v2.5l.5-2.8v-4.6l.5-1v6.4l.5-8.2v-1l.5-5.6v6.1l.5-1.1v-5.4l.5-6.2v7.4l.5-5v-3.5l.5-3.5v1.2l.5 5.1v-7.3l.5 3.5v.7l.5 .1v-3.9l.5 4.1v.1l.5 3.3v-2.6l.5-1.9v4.1l.5 1.9v-1.4l.5 .7v4l.5 .2v-4.3l.5 1.4v4l.5-1.8v-3.4l.5 1.6v3.4l.5-3.6v-1.5l.5-2.9v3.9l.5-.8v-1.6l.5-.4v6.7l.5 .2v-4.1l.5 4.7v2.7l.5-.2v-1.3l.5 1.8v3.5l.5 5.1v-6.4l.5 3.4v6l.5-1.8v-4l.5 3.3v1l.5 1.7v-4.5l.5-2v5l.5 2.2v-5.9l.5-.8v5.2l.5 1.7v-3.5l.5 2.5v1.8l.5-.1v-2.1l.5-3.1v5.8l.5 .2v-7.1l.5 5.4v2.6l.5 .7v-5l.5 1.7v1.6l.5 2.7v-2.7l.5-5.2v5.4l.5-9v-2.5l.5-11v5.6l.5-6.6v-4.3l.5-10.8v7.8l.5-9.6v-2.8l.5 1.8v3.3l.5 1.1v-3.5l.5 6v1.1l.5 1.1v-5.1l.5 4.6v2.5l.5 3.2v-4.3l.5 3.3v1.1l.5 .4v-1.9l.5 4.2v1.8l.5 .7v-4.7l.5 .1v3.2l.5 3.3v-2.9l.5-2v2.1l.5 4.1v-1.9l.5-2v5.4l.5-2.8v-3l.5-2.1v3.4l.5 1.2v-5.1l.5-1.1v2.2l.5-2.2v-1.1l.5-1.4v2.3l.5-4v-4.7l.5-.2v4.9l.5-2.6v-1.2l.5-5.9v3.9l.5 2.2v-5.7l.5 2.1v.7l.5 0v-4.5l.5 1.9v3.3l.5-1.1v-2.3l.5-.4v1.5l.5 2.6v-1.7l.5 2.4v2.8l.5 .8v-5.6l.5-2.2v4.6l.5 3.8v-6.9l.5 1.3v2l.5 0v-3.1l.5 .4v5l.5-.5v-4.1l.5 2.3v6.1l.5-1.2v-2.2l.5 .2v2.4l.5 2.2v-6.2l.5 4.5v4.3l.5 2.3v-6.3l.5 1.9v7.4l.5 3.3v-2.3l.5 .8v1.6l.5 .9v-4.9l.5 1.6v1.5l.5-1.7v-4.9l.5 3.9v2.4l.5-1.7v-2.2l.5-1v2.1l.5 .7v-1.3l.5-2.8v3l.5 .2v-1.2l.5-1.1v3.2l.5-1.6v-5.1l.5 1.6v4.4l.5-1.5v-4.9l.5 1.1v1.6l.5-2.4v-2l.5 .2v4.6l.5 1.2v-4.7l.5-4v7.2l.5-.9v-3.1l.5 1.1v5.1l.5 1.7v-4.9l.5 2.8v5.4l.5 .7v-5.2l.5 .2v3.1l.5-2.5v-1.1l.5-3.2v1.6l.5 2.7v-4.8l.5 .5v3.5l.5-3.3v-2.5l.5-2.4v4.6l.5-1v-3.3l.5-3.1v4.4l.5-.3v-3.7l.5 .2v1.6l.5-1.3v-3.8l.5 1.8v1.6l.5 3.6v-2.4l.5 3.3v1.6l.5-.7v-3.8l.5 5.1v2.1l.5 1.2v-1l.5-.4v3.5l.5 .4v-1.4l.5 .4v2.5l.5 .9v-2.3l.5 2v3.2l.5-.6v-1.1l.5 1.3v4.6l.5 1v-3.6l.5 2.8v1.2l.5 1.7v-3.5l.5-.3v3.2l.5-3.5v-2.7l.5-10v8.2l.5-6.1v-3.4l.5-8.8v2.3l.5-2.6v-1.8l.5-3.4v2.4l.5 2.9v-2l.5 2.4v2.9l.5 1.3v-3.3l.5 1.8v2.2l.5 1.4v-2.9l.5-1.8v5.3l.5-1.7v-1.7l.5-1.2v.3l.5-7.4v-2.9l.5-5.4v.9l.5-6.8v-.3l.5-5.7v1.4l.5-7.2v-1.9l.5-3v.4l.5-6.9v-.6l.5-4.6v.1l.5-2.7v-.3l.5-2.4v.4l.5-1.3v-2.3l.5-1.1v1.6l.5-3.9v-.3l.5-2.2v1.8l.5-3.2v-1.1l.5-2.8v2.7l.5 .5v-1.2l.5 1.2v1.2l.5-2v-1.8l.5-.2v.1l.5 3.9v-2l.5 4v.4l.5 2.8v-2.4l.5-.3v.3l.5-5.7v-.6l.5 3.7v2.2l.5 4.8v-3l.5-7.1v2.9l.5-.9v-1.6l.5 1.7v2.3l.5-.8v-1.5l.5-.9v.2l.5-2.1v-2.7l.5-1.4v3l.5-5.3v-.9l.5-.5v2l.5-1.5v-.1l.5 1.9v.3l.5 3.4v-.7l.5 3.1v.5l.5-.1v-2.7l.5 3.2v1.9l.5 .9v-.9l.5-6.7v1.5l.5-3.9v-.4l.5 8.1v.2l.5 5.9v-2.1l.5-11.2v.2l.5-5.2v-4.1l.5 5.8v.9l.5 4.6v-1l.5 .2v.6l.5-2v-1.6l.5 .4v.9l.5-2.2v-.2l.5-6.3v.5l.5 2.5v-2.4l.5 8.3v1.3l.5-.3l.5 1.9v-1.4l.5 6v2.1l.5 .1v-.4l.5-3.7v1.2l.5-3v-.4l.5 .5v.7l.5 .2v-1.2l.5 1v1.2l.5-4.5v-1.6l.5-6.8v1.3l.5 2.8v-1.4l.5 1.2v2.2l.5-.7v-1.1l.5 2.5v3.2l.5-3.6v-2.8l.5 1.7v2.7l.5-1.9v-.3l.5-6.8v.9l.5 9.3v-2.8l.5 14.7v1.3l.5-2.7v-1.5l.5-7.8v1.6l.5 5.3v-2.4l.5-1.1v.1l.5-6.5v-.1l.5 1.4v3.1l.5 1.6v-2.5l.5-.1v2.6l.5-2.2v-.2l.5 2.3v2.4l.5 1v-2.2l.5 1.6v2.6l.5 5.5v-.6l.5-2.4v3.3l.5-2.8v-.3l.5-8.4v2l.5-6.9v-2.1l.5 2.6v.5l.5 3.1v-1.9l.5-.1v1.8l.5-4.6v-.3l.5-6.7v2.3l.5-1.9v-1l.5 7.1v3.1l.5 .2v-.6l.5-1.7v2.6l.5-9.6v-1l.5 .3v1.4l.5 4.9v-.5l.5 1.3v1.1l.5 .2v-3l.5-5.2v3.1l.5 .3v-2.6l.5 6.5v3l.5 1.6v-1.4l.5-4.6v.9l.5-.2v-3.5l.5-2.1v1.2l.5 .2v-1.5l.5 2.6v1.2l.5 2.2v-1.2l.5-6.7v2.5l.5 5.2v-1.3l.5 7.7v1.3l.5-1.8v-.7l.5-3.5v.5l.5 3.8v-3.2l.5 2.8v.7l.5-4.7v-.1l.5-5.7v3.1l.5-1.6v-1.4l.5 3.8v1.4l.5 1.7v-1.9l.5-1.9v.4l.5-2.6v-1.7l.5 6.9v1l.5 .7v-.5l.5-4.1v.2l.5 4.7v-.4l.5-1v3l.5-1.1v-2.4l.5 1.6v.5l.5 1.3v-3.6l.5-3.9v1l.5-6.2v-2l.5 4.9v1.8l.5 5.6v-1.3l.5 1v.1l.5 2.2v-2.3l.5-2v.8l.5-7.2v-.9l.5 6v.7l.5-1.4v-.6l.5-4.9v.6l.5 4.9v-3.7l.5 .7v.9l.5 5.8v-.1l.5 .7v3.7l.5 4.5v-4.1l.5-4.1v2.8l.5-6.1v-1.6l.5-3.9v1.4l.5-7.5v-.6l.5 3.3v.4l.5 9.1v-1.2l.5-5.2v2.9l.5-2.4v-1.2l.5 7.6v4.5l.5 3.1v-1.2l.5-2v.2l.5 1.9v-5.7l.5 1.8v.4l.5-.3v-3.4l.5 2.2v3l.5 4.7v-3.6l.5-2v.3l.5-9.1v-.2l.5 5.1v.2l.5 11.1v-.5l.5-3v1.1l.5-8.1v-.3l.5 6.3v.9l.5 .3v-1.1l.5-3.2v3.7l.5-2.4v-5.8l.5 11v2.9l.5-.9v-.9l.5-3v1l.5 0v-1.7l.5-1.3v3.2l.5-3.5v-.3l.5 1.5v.2l.5-3v-2.3l.5 4.4v2l.5 4.1v0l.5 1.9v.9l.5 3.9v-2.1l.5 4.5v1.1l.5 .9v-.1l.5-10v1.7l.5-5.3v-2.5l.5 2.2v1.9l.5-3.2v-2.8l.5 .2v.7l.5 4.1v-2.2l.5 1.2v2.1l.5-3.7v-1l.5-5.3v3.4l.5 3.9v-2l.5 5.3v.3l.5 1.9v-1.5l.5 .9v.6l.5-6v-3.6l.5 1.5v2.3l.5 .6v-2.3l.5-2v2.8l.5-2.1v-1l.5 3.9v1.1l.5 2v-.9l.5-.3v.6l.5-1.2v-1.5l.5 .6v2l.5 2.4v-.9l.5-6.4v3.1l.5 .3l.5 .6v-.8l.5-.4v3l.5-.3v-1.9l.5 4.3v1.1l.5 5.7v-1.9l.5-2.4v.7l.5-6.1v-1l.5-3.9v3.4l.5 3.1v-3l.5 5.1v3.7l.5-7.4v-1.5l.5-5.9v1.8l.5 .3v-1.1l.5 .8v3.9l.5-2.3v-1.8l.5 2.7v.6l.5 7.4v-2.2l.5-2.9v2.4l.5-2.5v-.4l.5-3.6v1.5l.5 3.9v-.7l.5 2.1v2.2l.5-7.1v-2.1l.5-5.8v4.3l.5-1.3v-1.6l.5 6.7v.3l.5 6.2v-1.1l.5-4.9v.6l.5-8.7v-.1l.5-3.5v.3l.5 6.8v-.2l.5 4.6v.9l.5-.9v-1.4l.5-1.6v2.3l.5 5.1v-.3l.5-2.5v2.8l.5-1.7v-4.7l.5-7.4v2.7l.5 1.4v-.4l.5 4.7v.8l.5-1.3v-.8l.5 1.8v.5l.5 .1v-1.4l.5-.9v.9l.5 4v-3l.5 .8v.2l.5 2.6v-.9l.5-2.8v2l.5-.2v-2l.5 3.2v.8l.5 1.6v-1.3l.5 5v1.7l.5-8.2v-1.6l.5-6.7v1.3l.5 9.8v-.3l.5 9.9v1.6l.5-11.8v-2.5l.5-6.2v5.3l.5-2.9v-1.6l.5-5.4v.4l.5 10.8v-3.7l.5 5.2v.1l.5-.3v-1.2l.5 8.7v1.2l.5-.8v-.9l.5-18.4v.3l.5-11.3v-.8l.5 12.4v4.4l.5 6.3v-1.4l.5-5.2v3.3l.5-4v-5.1l.5-1.6v1.6l.5 9.9v-2.4l.5 3v1.8l.5-2.3v-.9l.5-1.2v.5l.5 4v-2l.5-1.4v.4l.5-1v-.9l.5 6.8v1.5l.5-3.3v-.1l.5-5.4v.8l.5 .8v-1.1l.5 3.6v1.5l.5-2.2v-2.3l.5 3.5v1.9l.5 4.2v-.8l.5-6.1v.1l.5-8.6v-.1l.5 .9v.5l.5 5.6v-2.8l.5 4.2v.1l.5 7v-2.1l.5 .2v1.2l.5-6.3v-3.7l.5-1.4v.8l.5-11.6v-1.4l.5-5.4v1.9l.5-6.8v-.8l.5-6.3v.8l.5-8.4v-.3l.5-4v2.5l.5-3.7v-1.7l.5-4.9v.4l.5-.7v-2.5l.5-2.4v.3l.5-3.5v-.8l.5-.5v.9l.5-2.1v-.3l.5-.4v.7l.5-2.6v-.3l.5-.8v.4l.5 .2v-.1l.5-2.2v1.5l.5-1.3l.5-1.1v-1.3l.5-.1v1.2l.5 .5v-2.1l.5-.3v.3l.5 .4v-1.2l.5 1.1v.2l.5-.9v-.2l.5-1.6v.4l.5 .2v-.6l.5-.4v.6l.5 1.3v-.9l.5-.9l.5 0v.6l.5-1v-.9l.5-1.1v1.2l.5 .2v-1.8l.5 2.7v.5l.5-1.7v-1.2l.5-.3v6.3l.5-4.3v-2.5l.5 1.2v.2l.5-2.9v-.2l.5-3.6v6.8l.5 7.8v-9.6l.5 3.5v2.9l.5-1.2v-7.7l.5 1.8v12.6l.5-4.5v-11.1l.5 3.9v8.6l.5-2.1v-7.4l.5 7v3.3l.5 .2v-8.7l.5-3.9v9.3l.5 .1v-8l.5 1.1v7.6l.5 1.8v-6.9l.5 .8v8.8l.5-2.2v-6.6l.5 .4v5.8l.5-4.3v-12l.5 7.8v7.4l.5 .8v-4.6l.5-4.7v12.3l.5-5v-8.7l.5 2.2v11.2l.5-2.8v-8.7l.5 1.8v10.6l.5-7.3v-11l.5 8.5v4.1l.5-.7v-2.4l.5 1.2v3.1l.5-3.1v-7.3l.5 .8v7l.5 6.9v-10l.5-2.2v9.7l.5-2v-11.9l.5 6.5v6.5l.5-.9v-2.8l.5-3.8v5.9l.5-2.5v-5.6l.5 4.3v6.4l.5 4v-12.8l.5-4.6v10.3l.5 2.2v-10.4l.5 8.3v7.7l.5 1.2v-12.1l.5 1.2v1.8l.5 .3v-3.3l.5-5v11.3l.5 4.8v-9.3l.5-.8v3.2l.5 3.4v-8.8l.5 2.7v9.7l.5-6.6v-7.2l.5 1.8v6.4l.5 2.1v-3.5l.5-5.8v12.6l.5-4v-7.6l.5 0v8.6l.5-.7v-5.9l.5 0v7.2l.5 5.3v-10.2l.5-3v7.9l.5-.6v-12.1l.5 1.6v6.6l.5-1.8v-3.7l.5-.5v6.8l.5 2.6v-9.4l.5-2.1v9.2l.5 1.4v-5l.5-3.1v7.7l.5-3.3v-7.9l.5 8v3.2l.5-1.2v-4.8l.5-7.4v13.2l.5-.9v-4.4l.5-4.2v12.5l.5-3.1v-5.2l.5-3.8v8.6l.5-2.8v-4.9l.5-1v11.3l.5-.1v-11.3l.5-2.1v9.5l.5-3.6v-4.4l.5-5.6v15.1l.5-6.5v-2.8l.5 2.3v7.4l.5-.7v-6l.5 3.2v5.4l.5-4.4v-9.8l.5 7.3v2.2l.5 .5v-6.6l.5 .4v2.1l.5 5.7v-7.3l.5-.7v6.5l.5 .2v-11.7l.5 4.9v5.8l.5 1.3v-11.4l.5 .5v9.4l.5 2.2v-10.4l.5 2.7v9.8l.5-4.4v-3.5l.5-3.3v6.9l.5-4.2v-1.5l.5 .4v3.5l.5 3.8v-14.3l.5 7v3l.5 1.4v-4.7l.5 .7v2.8l.5 2.5v-8.1l.5-2.5v10l.5-3v-6.1l.5 1.5v12.9l.5-3.8v-6.2l.5-3.6v10l.5-4.7v-5l.5 3.7v5.3l.5 .7v-7.8l.5 .5v5.4l.5-.4v-2.1l.5-2v3.6l.5 6.3v-11.5l.5 2.5v2l.5-2.4v-2.8l.5 1.4v5.7l.5 2.7v-13.6l.5 7.5v3.1l.5 1.5v-6.2l.5 1.9v5.2l.5-2.2v-5.3l.5 1.7v3.3l.5 1.8v-3.1l.5-2.4v9.8l.5-4.8v-2.1l.5-3.8v5.2l.5 .6v-2.9l.5-5.4v4.3l.5 2.2v-8.2l.5-2.6v7.9l.5 2v-7.5l.5 .3v7.4l.5 1.1v-7.9l.5-1.9v6.1l.5 4.9v-7.3l.5 .5v11.2l.5-4.2v-6.1l.5-3.3v7.8l.5-.4v-8.3l.5 2.6v11l.5-6.4v-5.7l.5-2.6v11.9l.5-3.4v-9.5l.5 5.3v5.8l.5 .9v-8.6l.5-.2v3.9l.5-1.7v-2.8l.5 4.2v5.1l.5-1.9v-9.1l.5 1.9v8.4l.5-2.7v-2.2l.5-3.7v6.6l.5 .1v-7.8l.5-2v3.7l.5 6.3v-8.9l.5 1v8.5l.5-.6v-6l.5-1.7v6.9l.5 .5v-5.5l.5-4.8v10.2l.5-2.5v-4.7l.5-4.6v11.6l.5-2.9v-6.4l.5-.7v10.5l.5-4.5v-6.2l.5 1.1v13.1l.5 .1v-7.4l.5-8.6v12l.5-.3v-4.4l.5-3.8v8.1l.5-2.5v-4l.5 2v4.3l.5 6.4v-11.8l.5-1.1v7l.5-1.9v-3.9l.5-2.5v6.9l.5-.9v-8l.5 2.4v10.2l.5-5.3v-4.3l.5 3.1v4.7l.5-.1v-8.5l.5-2v9.2l.5 4.6v-8l.5-4.8v7l.5 2v-5.6l.5-.1v8.4l.5-3.4v-11.9l.5 9.5v5.3l.5 2.5v-11.1l.5-2.5v10l.5 1.3v-10.3l.5 3.6v8.6l.5-4.9v-3.7l.5-1.8v7.9l.5-.1v-10.9l.5 5.6v2.6l.5 1.6v-9.1l.5 3.6v3.5l.5 3.6v-5.9l.5-6.1v8.1l.5-1.2v-5l.5-6.5v16.8l.5 3.8v-12l.5-1.2v8.4l.5 3.7v-12.6l.5-2.8v6.7l.5 2.8v-8l.5 3.1v11.9l.5-6.8v-8.7l.5 2.4v10.3l.5-2v-10.1l.5-2.5v7l.5 1.6v-5.4l.5 4.3v7.6l.5-3.2v-8l.5 5.3v5.8l.5-6.7v-9.9l.5 4.4v5.5l.5 5.9v-6.5l.5-6.3v11.4l.5-1.4v-7.4l.5-.6v12.7l.5-5.4v-7.5l.5 1.5v10.4l.5-2.3v-12l.5 6.3v6.2l.5 .4v-7.6l.5-3.1v9.4l.5 .4v-3.6l.5 .2v7.3l.5 .4v-10.1l.5-5.7v12.7l.5-.4v-5l.5-6.8v10.3l.5 4.2v-7.8l.5-1.3v12.8l.5-8.3v-7.3l.5 3.9v14.8l.5-3.9v-10.7l.5-2.7v11.8l.5-6.5v-5.3l.5-.5v9.9l.5 3.3v-9.5l.5-8.6v16.5l.5-3.3v-6.7l.5-3v12l.5-5.6v-2.7l.5 1.6v11.9l.5-2.4v-11.4l.5-.9v7.7l.5 1.5v-10.2l.5 1.8v7.2l.5-3.9v-5.9l.5 4.6v8.7l.5-1.3v-7.8l.5-.3v5.9l.5-1.6v-6.3l.5-8.4v18.6l.5 5.6v-14.1l.5-1.5v9.9l.5-4v-10.4l.5 8.7v8.5l.5-4.6v-8.6l.5-3.9v10.4l.5 .5v-8.7l.5-5.4v18.3l.5-3.8v-6.1l.5 3.1v6.9l.5 .1v-7.8l.5 .3v1.2l.5 3.1v-4.2l.5-6.2v16.8l.5-6.5v-9.7l.5-2v5.5l.5 13.2v-18.7l.5-5.7v21.5l.5-1.3v-10.7l.5 7.3v3.2l.5-2.7v-7.5l.5 2.6v6.5l.5-.1v-14.8l.5 2.8v16.5l.5-4.9v-7.4l.5-1.2v12.4l.5-4.7v-8.6l.5-.4v8.6l.5 1v-5.6l.5-6.7v11.3l.5-5.8v-1.7l.5 4.4v6.1l.5-.5v-7l.5-4.9v12.5l.5-3.7v-9.8l.5 6.3v1.8l.5-4v-.4l.5-9.5v1.6l.5-9.6v-.7l.5-4.5v0l.5-4.9v-.9l.5-4.1v.4l.5-5.3v-.6l.5-3.9l.5-3.1v1.4l.5-5.5v-2.6l.5-4.5v1l.5-.8v-1l.5-2.3v1.3l.5-.7v-.7l.5-3.2v1.7l.5-.8v-1.1l.5-.8v2.1l.5-3.2v-.3l.5-1.5v.1l.5 1.3v-.8l.5-1.2v2.4l.5-.7v-2.6l.5 1.3v.3l.5-1.4v-1.5l.5 1v1.1l.5-.7v-1.3l.5-.6v.4l.5-.4v-1l.5 .9v1.8l.5-.7v-1l.5-2.4v4.8l.5-.4v-4.6l.5 3v1.1l.5 1.1v-5.4l.5 2.8v1.1l.5-.8v-3.2l.5 .6v2.7l.5 1.2v-1.9l.5-5.4v8.6l.5-.5v-3.9l.5-1.2v2.9l.5 1.8v-.6l.5-6.1v11.2l.5-4v-3.2l.5-4v8.7l.5-4.1v-3.1l.5-3.5v7.9l.5 1.3v-6.6l.5 .6v4.9l.5 4.6v-6.3l.5-5.3v5.6l.5 6v-8.1l.5-3.7v8.6l.5 1.7v-5.4l.5-2.3v6l.5 1.7v-7.5l.5 3.8v4.5l.5-.5v-6.6l.5-4.4v10.2l.5 1.8v-8.4l.5 .7v5.1l.5 2.7v-8.1l.5-1.2v5.9l.5 1.3v-4.7l.5-.5v7l.5 2.3v-11.3l.5-2.7v10l.5 1.9v-9.2l.5-.3v8.6l.5-1.8v-8.1l.5 1.4v14.4l.5-6.6v-7l.5 5.2v2.2l.5-5v-2.5l.5 .2v5.6l.5 4v-7l.5 .3v6.4l.5-2.6v-5.5l.5-3.5v13.5l.5-2.5v-7.8l.5-.2v1.9l.5 7.7v-12.6l.5 5.2v7.8l.5-3.7v-4.4l.5 2.2v8.8l.5-6.5v-6.2l.5-.1v7.6l.5-.2v-7.9l.5 1v5.8l.5 1.3v-8.4l.5 6v8.5l.5-4.9v-6l.5-.4v4.8l.5 3.1v-8l.5-1.8v6.9l.5 .8v-6.5l.5 3.1v6.7l.5 2.8v-8.5l.5-10v14.8l.5-4.1v-4.5l.5-2.2v9.4l.5 1.3v-8.4l.5-.3v8.5l.5 2.1v-8.5l.5 2.7v2.3l.5 4.1v-9l.5-3.8v7.6l.5 1v-6.1l.5-.3v3.9l.5 1.8v-10.7l.5 3.4v8.7l.5 1.2v-10.7l.5 3.8v6.8l.5-1v-4.5l.5-2.9v8.2l.5-.6v-6.5l.5 1.2v5.9l.5-6.1v-5.3l.5 5.7v7.4l.5-2.2v-6l.5-6.4v21l.5-7.9v-4.1l.5-1v5.4l.5 3v-9.2l.5-5.3v11.3l.5-.4v-6.2l.5-.1v4.7l.5 1.8v-12l.5 6.4v7.1l.5-.4v-9.2l.5 3.3v5.3l.5 5.2v-9.3l.5-9.2v19.6l.5-9.4v-6l.5-2.2v18.4l.5-6.5v-6.1l.5-2.9v11.3l.5 .5v-11.2l.5-6.7v17.8l.5-4.1v-6.8l.5-3.3v13l.5-5.1v-4.5l.5-.3v6.6l.5 .9v-6.8l.5-10.4v16.7l.5 5.2v-15.1l.5-2.3v14.8l.5-1v-4.4l.5-8.5v10.7l.5 7v-12.3l.5-1.1v2.3l.5 .8v-4.9l.5 1.3v9.4l.5-1v-14.2l.5 6.4v4.8l.5 3.4v-8.4l.5 .4v6.7l.5-1.7v-5.7l.5 .5v9.4l.5-1.3v-15l.5 5.7v12.1l.5-.2v-16.7l.5 2.2v10.3l.5 4.2v-13.4l.5 1.6v8.5l.5-.1v-9.3l.5-4.3v12.1l.5 4.3v-19.2l.5-2.5v19.3l.5 2.8v-11.9l.5-.2v9.1l.5-3.7v-10l.5-1.1v15.7l.5-6.5v-7.9l.5 .6v9.1l.5 .8v-8.6l.5 4v9.4l.5-.9v-10l.5-2.3v8.7l.5 2.5v-13.9l.5 3.1v8.4l.5 7.9v-14.5l.5 1v8.6l.5 2.4v-15.3l.5 2.3v10.5l.5-.2v-8.5l.5 2.9v6.9l.5 .7v-8.4l.5-.9v15.1l.5-7.2v-10.4l.5-3.4v11.5l.5 4.9v-7.6l.5-.4v7.3l.5-6.3v-7.3l.5-2.9v8.7l.5 4.8v-13l.5-1.1v22.1l.5-4.5v-15.1l.5 1.3v6.7l.5 9.5v-18.3l.5-3.6v14.1l.5 3.6v-12.9l.5-4v14.3l.5 5.7v-12.1l.5-1.7v12.4l.5-5v-5.5l.5-7.2v16.4l.5-1v-7.1l.5-7.6v23.1l.5-10.3v-10l.5 1.3v11l.5 .8v-5l.5-2.4v10.9l.5 2.2v-15l.5 2.7v11.2l.5 2.7v-15.3l.5-.3v10.6l.5-.4v-18.1l.5 9.8v7.1l.5-.2v-4l.5-6.6v7.2l.5 7.7v-15l.5 3.2v7.3l.5 1.4v-7.5l.5-.2v9.5l.5 3.1v-8.5l.5-4v13.8l.5-1.9v-12.1l.5-2.4v7.6l.5 2.4v-9.4l.5 .1v7.1l.5-.1v-3.7l.5-4.8v6.6l.5 6.7v-14.3l.5 5.7v6.9l.5-3.7v-8l.5 1.6v9.8l.5 .2v-13.9l.5-1.8v22.2l.5-10.7v-4.4l.5-4.7v13.8l.5-3.3v-14.9l.5 4.5v12.5l.5-3.3v-7.5l.5-6v24.5l.5-3.3v-9.8l.5-8.1v11.2l.5 1.2v-4.8l.5-3.8v11.2l.5 .8v-14.5l.5 4.2v5.7l.5 .7v-3l.5-10v24.5l.5-6.3v-12.6l.5 .4v5.5l.5 7v-8.3l.5 .2v6.3l.5 2v-9.4l.5-7.6v10.1l.5 1.1v-5.3l.5 1.8v6.8l.5 2.6v-19.2l.5 2.7v12.9l.5 8.5v-15.8l.5-5.4v11.8l.5-7.8v-5.4l.5 7.9v12.4l.5-7.9v-5.1l.5 2v6.1l.5-8.3v-3.8l.5 1.8v6l.5 2.5v-10.4l.5 .6v10.2l.5-2.2v-7l.5-1.7v6.2l.5-3.2v-3.1l.5 .6v7.4l.5 6.2v-11.5l.5 .9v5.4l.5-5.1v-5.2l.5 .6v6.9l.5 4.7v-12l.5 1.7v3.9l.5 5v-13.5l.5-.2v6.6l.5 3v-7.6l.5 2.1v4.1l.5-.2v-8.2l.5-1.1v7.9l.5 3.6v-5.7l.5-.5v4.5l.5-.6v-2.7l.5-5.6v11.4l.5 3v-13.1l.5-.7v10l.5 1.6v-11.4l.5 4.1v6.4l.5-4.5v-5.9l.5-1.5v8.7l.5 6.8v-13.7l.5-7.4v13.6l.5 5.3v-9.3l.5-8v9.6l.5 6.6v-13.6l.5 4.9v14.7l.5-7v-15.5l.5-.5v23.5l.5-10.4v-5.8l.5-1.7v6.8l.5 2.3v-7.8l.5 1.4v8.1l.5-.1v-10.6l.5-8.2v8.8l.5 3v-3.7l.5-3.9v6.9l.5 8.2v-10.2l.5 2.6v5l.5 .3v-5.7l.5-12.7v20.5l.5-.7v-2.6l.5-3.6v4l.5-.5v-7.7l.5-.6v11.8l.5 .7v-9l.5-4.5v11.1l.5 3.3v-13.3l.5 2.3v11.7l.5-2.3v-10.4l.5 .2v5.3l.5 6v-10.7l.5-1.7v7.1l.5 6.1v-16.1l.5 6.7v4.6l.5-4v-7.7l.5 7.8v6.7l.5-5.1v-7.5l.5 3.8v4.5l.5 .6v-6.8l.5-3.8v8l.5-2.9v-2.1l.5-2v3.7l.5-6.4v-1.4l.5-3.7v2l.5-7v-.9l.5-2.7v.6l.5-5.4v-1.1l.5-5v2.1l.5-3.2v-2.3l.5-2.7v2.1l.5-4.9v-1.4l.5-3.6v1.9l.5-2.7v-1.5l.5-2.1v.7l.5-1.2v-.4l.5-.9v.2l.5-1.1v-1.9l.5-2.3v3.5l.5-3.2v-1.8l.5-1.4v1.1l.5-1.4v-.1l.5-1.7v2.3l.5-4.3v-.6l.5 .5v.1l.5 0v-.9l.5-1.3v1.5l.5-.3v-3.3l.5 1.2v.2l.5-.9v-1.4l.5-.9v.8l.5 .9v-1.8l.5-3v3.5l.5-.9v-2.2l.5-2v3.2l.5-1v-.6l.5 .9v.3l.5-2.2v-.2l.5-.1v1.2l.5 .1v-1.6l.5 .7v3.2l.5 2.9v-10.9l.5 4.5v1.5l.5 1.4v-.3l.5-3v3.1l.5 1.3v-.9l.5-2.7v1.2l.5 .9v-1.9l.5-1.6v4.8l.5 2.9v-6.8l.5-2.1v5.9l.5 3.8v-8.2l.5-3.5v9.5l.5-1.4v-4.4l.5 1.7v6.9l.5-.3v-9.3l.5 5.3v1.9l.5 3.9v-8.4l.5-1.3v1.9l.5 6.1v-4.7l.5-2.3v6.2l.5 3.4v-9.7l.5-7.2v16.9l.5-3.2v-4.7l.5-.2v9.2l.5 .5v-7.9l.5-4.5v4.6l.5 3.6v-10l.5 5.9v4l.5 2.5v-15l.5 14.3v4.9l.5-3.7v-11.6l.5 7.6v11.4l.5-3.3v-10.7l.5-.7v9.7l.5-8.3v-6.1l.5 6.6v6.9l.5-3v-7.6l.5 7.3v2.2l.5-1.2v-2.6l.5-10.2v8.7l.5 4.1v-6.5l.5-2.1v12.1l.5-2.3v-11.7l.5 4.2v7.8l.5 1v-8.2l.5-1.3v7.6l.5 .6v-4l.5-3.7v8.6l.5-.2v-12.7l.5 4.1v5.9l.5-2.2v-4.8l.5-2.9v13.9l.5-1.6v-4.5l.5-3.8v3.7l.5 3.2v-7.5l.5-1.4v9.5l.5-1.7v-4.7l.5 .1v2l.5 3.1v-5.8l.5-.5v3.4l.5 7.2v-9.6l.5-4.7v12.3l.5 6.9v-9.6l.5-2.4v2l.5 7.6v-11.2l.5 2.9v1.4l.5 7.6v-17.7l.5 5.1v13.7l.5-7.6v-5.9l.5 1.4v3.9l.5 1v-7.9l.5 5.2v7.9l.5-7.6v-1.8l.5-5.1v5.3l.5 5.9v-12.8l.5-.4v10.4l.5-.7v-8.3l.5 .9v11.1l.5 2.8v-13.3l.5-4v9.2l.5 3.6v-9.4l.5-.4v10.2l.5-4.4v-2.6l.5-3.8v7.1l.5 2.7v-8.9l.5 2.7v4.4l.5 1.1v-3.6l.5-.6v8.1l.5-3.4v-3.2l.5-2v9.1l.5-.2v-8.6l.5 .7v2.4l.5 2.2v-7.4l.5 .9v4.8l.5 3.3v-5.5l.5-4.6v3.9l.5 3.8v-7.5l.5-1.5v1.5l.5 5.5v-4.5l.5-3.9v9.9l.5-.7v-7.6l.5-3.9v9.5l.5-1.4v-6.4l.5 3.1v8l.5-5.9v-2l.5-.1v4.2l.5-1.2v-6.2l.5 1.7v6.2l.5-.5v-6l.5-3v6.1l.5 5v-8.2l.5-.1v7.4l.5-2.4v-5.8l.5 2.9v6l.5-3.1v-2l.5 1.6v3.9l.5-3.5v-4.9l.5 .9v3.5l.5 2.1v-6l.5 1.8v2.6l.5 2.1v-9.3l.5 .4v6.2l.5 1.8v-3.2l.5-4.8v7.3l.5-.5v-10.3l.5 4.7v5l.5 .4v-7.2l.5-.3v8.6l.5 1.5v-8.5l.5 2.1v2.7l.5 2.3v-6l.5-.7v5.2l.5-1.4v-5.3l.5-1.1v7.7l.5-.6v-5.1l.5-1.6v6.3l.5 4.2v-8.9l.5-1.3v8l.5-.4v-11.6l.5 3v8.8l.5-.8v-5.6l.5-3.5v9l.5-2.7v-7l.5 2.8v5.7l.5-.2v-5l.5-1v2.4l.5 2.4v-5.7l.5 .1v7.6l.5-5v-2.8l.5 .6v7.1l.5-3.8v-4.2l.5 1.2v1.5l.5 4.8v-4.7l.5-.1v5l.5 0v-4.8l.5 .7v2.8l.5 1.7v-8.6l.5 .4v6.3l.5 2.4v-10l.5-.1v6.2l.5-.4v-1.3l.5-.4v6.3l.5-4.5v-4.8l.5 1.6v2.6l.5 1.8v-4.9l.5-1.4v5.8l.5 .5v-5.5l.5 1.7v2.2l.5 .8v-2.3l.5-3.3v6.6l.5-.6v-5l.5 .3v3.7l.5 .3v-1.8l.5-.5v3.4l.5 2.4v-4.3l.5-1.2v5l.5-1.7v-1.8l.5-2.9v5.2l.5-.9v-2.2l.5-1.3v5.9l.5-.5v-4.3l.5-3.6v7l.5-1.4v-4.2l.5 1.7v1.9l.5 1.1v-3.2l.5-.6v3.1l.5-1v-5.3l.5 4.1v1.1l.5 2.4v-4.6l.5-.2v1.3l.5 1.4v-2.1l.5 .5v2.9l.5-1.7v-1.5l.5-1.6v3.9l.5-1.1v-4.1l.5 .5v2.9l.5 2.4v-4l.5-3.3v6.8l.5 .5v-3.2l.5-2.1v2.8l.5 .6v-3.8l.5 .8v4l.5 .3v-5.5l.5 .1v7.1l.5-2.9v-3.5l.5-.3v1.7l.5 .9v-2.2l.5 .2v5.4l.5-2.4v-2.9l.5-2.5v4.8l.5 .4v-4.4l.5 2.2v4.5l.5-4v-1.9l.5 .1v2.6l.5 .8v-3.5l.5 .3v2.5l.5-.1v-4.8l.5 .8v4.9l.5-2.8v-3.5l.5-.3v5.5l.5-.6v-3.5l.5 .9v2.4l.5 1.2v-2.8l.5 .8v5.8l.5-4.6v-4.5l.5 3v3.4l.5 .6v-2.8l.5-4.1v5.1l.5 2.2v-7.3l.5 3.9v1.8l.5 2v-5.1l.5 .1v3.5l.5-.4v-3.2l.5-2.2v8.8l.5-1.8v-7.2l.5 4.8v3.6l.5-2.7v-5.7l.5 1.4v2.1l.5 1.8v-3.9l.5-.3v2.5l.5 1v-5.4l.5 1.3v6.5l.5-3.5v-3.5l.5 2v2l.5 2.5v-5.1l.5-2.5v8.6l.5-1.5v-8.7l.5-1.2v8.6l.5 .7v-6.2l.5 1.8v5.3l.5-.6v-6.5l.5 1.4v4.3l.5 1v-6.7l.5-.6v7.7l.5 1.1v-10.2l.5 1.3v9.2l.5-1.3v-4.7l.5-.7v3.6l.5 .9v-9l.5 3.2v6.6l.5 2v-8.9l.5-3.5v11.2l.5 1v-6.1l.5 .7v4.1l.5-2.1v-6.9l.5 .5v1.9l.5 4.1v-3.7l.5-.4v4l.5 1v-8.1l.5 5.8v4.1l.5-5.1v-5.4l.5 5.6v5.2l.5-2.7v-2.3l.5-7.1v7.6l.5 2.2v-6.1l.5 .6v6.2l.5-1.4v-3.7l.5-.4v7l.5-6.8v-6.6l.5 1.3v7.1l.5 .1v-1.9l.5 .8v4.4l.5 1.6v-8l.5 2.5v3.9l.5-.9v-7.6l.5 2.3v7.6l.5-3.5v-5.3l.5-.6v5.9l.5 1.5v-9.5l.5 1.7v4.9l.5 .1v-3.1l.5-.6v3.4l.5-.7v-.9l.5-3.7v3.9l.5 4v-5.7l.5 .7v4.7l.5-3.5v-2l.5-2.1v3.6l.5 2.4v-2.9l.5-4.1v6l.5-1.3v-2.7l.5 .7v7.2l.5-3.2v-3.9l.5 3v5.9l.5-6.7v-3.4l.5-3.4v8.5l.5-.8v-2.7l.5-2.1v3.9l.5-.9v-1.4l.5 .4v3.6l.5-1.5v-3l.5-.2v3.9l.5-1.2v-4.7l.5 3.3v4l.5-4.7v-3.8l.5-3.2v3.9l.5-.7v-2l.5-3.8v2.2l.5-2.4v-1.6l.5-3.1v1.5l.5-4.1v-1.1l.5-3.8v.7l.5-2.2v-2.1l.5-2.6v.3l.5-3.6v-.4l.5-2v1.1l.5-2.6v-1l.5-3.7v1.4l.5-1.7v-.8l.5-2.4v.5l.5-1.4v-2.2l.5-1.5v1.9l.5-3.8l.5-2.7v-2.2l.5-.1v1.4l.5-1.1v-5.1l.5 .2v1.1l.5 1.4v-.2l.5-.9v.8l.5-.3v-.2l.5 .1l.5-.2l.5-.2l.5-.1l.5-.2l.5-.2l.5-.2l.5-.2l.5-.2l.5-.1l.5-.2l.5-.2l.5-.2l.5-.2l.5-.2l.5-.1l.5-.2l.5-.2l.5-.2l.5-.2l.5-.1l.5-.2l.5-.2l.5-.2l.5-.2l.5-.2l.5-.1l.5-.2l.5-.2l.5-.2l.5-.2l.5-.2l.5-.1l.5-.2l.5-.2l.5-.2l.5-.2l.5-.2l.5-.1l.5-.2l.5-.2l.5-.2l.5 3.2l.5 4l.5-9.3l.5-8.6l.5-.6l.5-.5l.5 .8l.5 0v2.5l.5-.2v-4.5l.5-.1v4.3l.5-.9v-2l.5-.6v5l.5-1.1v-4.2l.5-1.3v2l.5 2v-2.8l.5 1.9v1.1l.5-.7v-4l.5 1.7v6.1l.5-2.1v-2.1l.5-1.7v4.7l.5 2.3v-6.4l.5-2.1v7.2l.5-3.8v-5.1l.5 .9v6.6l.5-.7v-4.2l.5 3v2.2l.5 2v-5.8l.5-1.9v1.4l.5 4.1v-2.9l.5-.6v2.3l.5-1.7v-.8l.5-1.1v2.4l.5 .9v-3.4l.5-1.3v5.5l.5-1.3v-3.5l.5 0v1.9l.5 2.9v-6.7l.5 .2v4.7l.5-.4v-5.9l.5 3.8v3.1l.5 1.3v-6.1l.5-.6v4.5l.5 .9v-3l.5-.8v3.5l.5 .8v-7.3l.5 3.1v2.8l.5 3.9v-5.7l.5-1v2.3l.5 1.7v-5.6l.5-.2v3.8l.5 2v-1.6l.5-4.2v5.9l.5-2v-2.1l.5 .5v6.2l.5-2.1v-7l.5 .9v4.9l.5 3.1v-12.7l.5 6.7v1.2l.5 4.8v-7.4l.5 .3v2.6l.5 4.2v-4.6l.5-.6v3.8l.5-1.2v-5l.5 1.6v5.8l.5-2.2v-2.6l.5-3.6v5.8l.5-1.9v-4.4l.5-1.6v7.8l.5 1.6v-6l.5 1.4v6.4l.5-3v-4l.5-1.2v7.7l.5 .2v-6.8l.5 2.4v3.6l.5 .6v-7.5l.5 3.2v4.6l.5-1v-3.6l.5 2.3v2.5l.5 1v-3.3l.5-6.4v6.4l.5 .5v-3.3l.5-3.3v5.1l.5 4v-4.5l.5 1.2v3.2l.5 .3v-7.1l.5-2.7v9.2l.5-.6v-9.3l.5 1.1v9.3l.5 .6v-4.6l.5-3.9v4.8l.5 2v-3.5l.5 .6v6.3l.5-4v-2.6l.5-.5v3l.5 5.3v-8.1l.5-1.8v8.1l.5-4.2v-2.4l.5-1.8v8l.5 .8v-4.9l.5-.7v6.3l.5-3v-4.6l.5 2.9v4.8l.5-1.4v-6.2l.5 2.4v3.7l.5-1.4v-4.2l.5 .5v5.3l.5-.8v-5.1l.5 .7v3.2l.5 .8v-3.7l.5-1.2v2.2l.5 2.3v-3.5l.5 .5v7.3l.5 .4v-11.5l.5 5.4v2.1l.5 1.7v-6.2l.5-1.2v6.4l.5 2.9v-10.5l.5 3.3v4.1l.5 .2v-6.3l.5 2.3v4.7l.5-.9v-7.8l.5 4v4l.5 .1v-2.8l.5-1.7v.3l.5 1.6v-4.4l.5 .9v3.8l.5 2.1v-8.7l.5 3.6v5.8l.5 2.9v-9.3l.5-1.4v5.9l.5 2.6v-7.8l.5 2v6.6l.5-3.5v-5.8l.5 .8v5.5l.5 .6v-6.5l.5-.4v3.1l.5 2.6v-4.4l.5 1.3v1.9l.5-1.1v-1l.5-5.1v7.2l.5 2.2v-6l.5-.8v1.9l.5 1.7v-4.3l.5 .1v8.1l.5-4.9v-1.3l.5-4.1v8.6l.5-1.1v-2.7l.5-2.6v4.8l.5-.1v-2.9l.5 1.9v4.1l.5-2.5v-6.6l.5 3.5v5.9l.5-2.9v-5.1l.5 1v2.8l.5 1v-5.8l.5 2.3v1.9l.5 4.2v-9.2l.5 2.8v7l.5-.8v-8.1l.5 2.1v2.2l.5-.5v-3l.5 1.1v3.8l.5 2.2v-5.4l.5-1.8v7.9l.5-2.4v-4.1l.5 .3v1.4l.5-.8v-2.2l.5-2v4.1l.5 1.4v-3.3l.5-1.9v4.7l.5 .9v-2.9l.5-1.8v4.4l.5-1v-5l.5-.9v5.9l.5-.1v-6.9l.5 1.3v5.8l.5 1.1v-3l.5-2.5v3.6l.5 3v-5l.5-.1v3.4l.5 .7v-3.7l.5 .3v2.7l.5 .6v-3.9l.5 2.2v1.8l.5 1.7v-5.7l.5 2.4v.9l.5 1.7v-2.6l.5-4.2v3.5l.5 5.5v-3.8l.5-2.5v4l.5 2v-5l.5-1.6v3.4l.5 .3v-2.1l.5-.7v2.5l.5-.1v-4.2l.5 2.8v4l.5-3.4v-1.1l.5 0v8l.5-1.5v-6.8l.5-.7v4.5l.5-.3v-3.6l.5 2v3.1l.5-.3v-1.9l.5-1.4v2.4l.5-.4v-3.8l.5-2.8v6.1l.5 2.5v-6.6l.5-.3v4.3l.5 1.4v-1.8l.5-2.5v2.7l.5 2.4v-2.5l.5-1.8v6l.5 1.8v-4.4l.5-1.5v4.1l.5-.4v-4l.5-1.6v4.8l.5 1.6v-5.6l.5 2.2v.7l.5 3.1v-4.9l.5-3.5v3.2l.5 3.5v-3l.5-2.6v3.2l.5 5.4v-11.8l.5 1.5v7.3l.5-.2v-4.7l.5-.7v5.3l.5-.7v-3.3l.5-2.2v5.1l.5-.1v-5.1l.5 1.9v5.5l.5-2v-5.1l.5-.4v6.3l.5-3.3v-2.5l.5 .9v3.8l.5 1v-4l.5-.6v4.7l.5-.9v-6.7l.5 .6v2.6l.5 2.9v-1.4l.5-4.2v6.2l.5-3.1v-7.1l.5 2.8v7.2l.5 4.4v-11.5l.5 1.7v4.3l.5 .5v-5l.5 .7v3.9l.5-.4v-5.1l.5-4.4v10.9l.5-1.8v-4.6l.5-.8v3.7l.5 .1v-3.4l.5-.2v6.8l.5-2v-3l.5-2.1v6l.5-1.6v-5.2l.5 2.8v2.3l.5-.1v-6l.5 4.6v6.3l.5-2.3v-4l.5-1v5.4l.5-1.4v-6.6l.5-.3v5.8l.5-.7v-5.4l.5 1.2v7.7l.5-.7v-6.7l.5-4.2v10.8l.5-3.9v-1.5l.5 .2v2.6l.5-1.3v-5.2l.5 2.5v4.1l.5 1.2v-4.4l.5-2.7v6.3l.5-2.2v-5.6l.5 2.8v2.9l.5 .8v-5l.5 .4v5.3l.5-.2v-8.5l.5 4.3v3.4l.5-3.1v-2.9l.5-2.8v6.8l.5 1.2v-5.9l.5 1.5v2.6l.5 2.1v-5.7l.5-.4v2.7l.5 4.3v-7l.5-2.8v9.5l.5-.4v-4.2l.5 .4v3.3l.5-.2v-5.2l.5-.4v5.3l.5 .2v-1.5l.5-4.5v5.8l.5 .6v-7.6l.5 3.1v5.6l.5-3.9v-1.7l.5 .6v3.1l.5 1.4v-9.6l.5 1.3v4.8l.5 .9v-3.7l.5 .8v2.9l.5 5.2v-6.4l.5-3.4v6.5l.5-.8v-7.5l.5 2.3v3.4l.5 3.9v-6.8l.5-1v3.6l.5 1.9v-2.9l.5-.9v4.7l.5 1.1v-9l.5-.6v8.5l.5-3.2v-6l.5 3.5v4.3l.5 2v-6.9l.5 4v4.1l.5-2.6v-7.6l.5-.8v8.1l.5 1v-3.4l.5-3v3.2l.5 3.8v-5.4l.5 .1v3.2l.5 5.6v-10.7l.5 3.7v4.9l.5-4.2v-3.4l.5-.4v8.8l.5-4v-5.7l.5 3.6v4.1l.5-1.8v-1l.5-4.4v.5l.5-7.6v-1.2l.5-6.1v2.1l.5-8.6v-1l.5-4.2v3l.5-4.3v-1.7l.5-2.7v.7l.5-.8v-2.2l.5-4.1v.4l.5-2v-2.3l.5-2.7v2l.5-4.1v-1.2l.5-1.9v.5l.5-1v-.7l.5-1v1.4l.5 .4v-1.6l.5-2.9v.5l.5 1.2v-2l.5-1.6v1.7l.5-1.7l.5-1.9v-2.1l.5-.1v2.5l.5-2.9v-1.5l.5 .9v.9l.5 .1v-1.9l.5-1.5v.7l.5 2.6v-2.5l.5-.2v.4l.5 .2v-1.4l.5 1.6l.5-.4v1.4l.5-1.3v-2.4l.5-2v3.7l.5 2.7v-3.3l.5-.2v1.6l.5 1.3v-3.3l.5-1.1v4.5l.5 .1v-2.9l.5 .3v2l.5 .7v-2.7l.5 1.2v1.8l.5-.6v-.5l.5-.3v2.6l.5-1.5v-1.2l.5 .8v.4l.5 .5v-1.9l.5-.3v1.1l.5 .7v-2.3l.5-.6v2.8l.5-1.7v-2.2l.5 .5v1.4l.5 .6v-2.6l.5 0v1.6l.5 1.2v-3.4l.5 .2v2.2l.5 0v-2.4l.5-1.2v1.9l.5 .9v-3.4l.5 .7v2.7l.5-.3v-3.3l.5 .3v1.5l.5 .6v-3.2l.5 .8v.9l.5-.6v-2.2l.5 .1v3.8l.5-.3v-3.6l.5-.9v2.2l.5 .3v-1.6l.5-.3v1.4l.5-.5v-1.4l.5-.8v4.8l.5-2v-3.3l.5 1.5v3.2l.5-1.7v-3.1l.5 .1v2.5l.5-1.6v-2.7l.5 .1v4.3l.5-1.5v-1.6l.5-.9v2.5l.5-.3v-1.6l.5-1.5v2.2l.5 1v-3.3l.5 .9v3l.5-1.9v-2.8l.5 .1v4.7l.5-2.6v-3.5l.5 .4v2.7l.5-1.1v-2.7l.5 1.7v1.5l.5 .7v-5.3l.5 .3v3.3l.5 .3v-2.1l.5-.4v3.2l.5-1v-2.3l.5 1.1v.6l.5 1.9v-2.7l.5-1.6v2.9l.5 .6v-2.4l.5 1v1.6l.5-.7v-1.6l.5 .1v.8l.5 1.2v-1l.5 1.2v.8l.5-.2v-1.1l.5 .7v.7l.5 .8v-3.9l.5 .7v4.1l.5-2.7v-.7l.5 .5v1.9l.5 .9v-3.1l.5 .7v1.9l.5 .1v-2.1l.5-1.1v3.5l.5 .3v-3l.5 .7v2l.5-.5v-2.4l.5 .7v2.4l.5 .1v-2.6l.5 1.2v1.9l.5-.2v-1.7l.5-.1v3l.5-1.5v-2.1l.5 .5v1.6l.5 .7v-2.8l.5 1v1.7l.5-1.7v-1.7l.5 .1v2.3l.5 1.3v-2.8l.5 .1v3.8l.5-1.7v-1.4l.5-.5v2l.5 .1v-2.8l.5 .6v4.9l.5-2.5v-3.7l.5 2.1v1.7l.5 .9v-2l.5-.1v1.3l.5 .6v-3l.5 0v1.6l.5 .1v-1.9l.5 .5v2l.5-.5v-2.7l.5 .4v1.9l.5 .9v-3.4l.5-.8v3.5l.5 .9v-1.5l.5-1.7v2.3l.5 .5v-3l.5-1.2v4.4l.5-2.7v-2l.5 0v1.8l.5-.1v-1.1l.5 1.1v1.3l.5 1v-1.9l.5-3.3v4.6l.5-2.5v-2l.5 .2v4.3l.5 1.2v-3l.5-2.6v5.9l.5-2.2v-2.3l.5-.1v1.5l.5 .7v-2.7l.5 1.5v3.7l.5-2.4v-2.9l.5 .4v3l.5-.5v-2.8l.5 1.3v2.8l.5-.8v-1.5l.5-1.9v2.1l.5 2.9v-5.2l.5 .3v1.9l.5 3v-4.4l.5 .1v3.4l.5-.1v-2.1l.5-3.1v3l.5 1.7v-1.3l.5-2.3v4l.5-.3v-2.7l.5 1.3v1.9l.5-2.2v-1.6l.5 .9v1.1l.5-.7v-1.8l.5 .6v2.1l.5-1.5v-2.7l.5-.2v3.2l.5 .4v-3.3l.5 .1v.5l.5 2.7v-2.2l.5-2.6v2.2l.5 1v-1.4l.5-2.2v3.2l.5-.3v-1.3l.5-.9v2l.5 .7v-2.2l.5-.3v3.2l.5-.8v-5.1l.5 .6v3.7l.5 1.2v-2.3l.5-1.5v1.3l.5 .5v-.7l.5-1.9v2.8l.5-.7v-4.2l.5 3.8v1.8l.5 1v-4.4l.5-1.5v3.8l.5-1v-1.6l.5-.9v5.3l.5-3.4v-2.5l.5-.2v3.3l.5-1.5v-1.9l.5-.7v5.8l.5-1.9v-3.3l.5-.1v1.1l.5 1v-3l.5 .3v2.9l.5 2.1v-3l.5-2.3v3.7l.5 .1v-4.2l.5 0v4.6l.5-1.1v-1.4l.5-4v6l.5 0v-3.5l.5-2.6v6.2l.5 .4v-5.1l.5 .2v5.6l.5-1.6v-3l.5-.1v2.7l.5 .4v-3.8l.5 1.1v1.6l.5 .2v-2.7l.5 1.4v4l.5-.8v-3.8l.5-1v1.8l.5 2.5v-4l.5-.1v3.6l.5-1v-3.7l.5 2v1.1l.5 2.7v-4.4l.5-.3v3.2l.5-1.4v-2.5l.5 .4v1.8l.5-.4v-2.1l.5 .3v1.7l.5 2.2v-4.8l.5 .9v1.7l.5 .4v-2l.5-1.3v2.5l.5 0v-2.6l.5 1.9v1.8l.5-.7v-4.9l.5 1.5v1.7l.5 1.1v-1.5l.5-1v2.4l.5-1.1v-1.6l.5 .7v4.5l.5-1.9v-3.9l.5 1.7v1.8l.5 1.1v-3.2l.5 .3v2.8l.5-.6v-2.3l.5-.3v2.6l.5 .6v-4.2l.5 1.1v4.2l.5 0v-5l.5-.1v4.6l.5-.2v-3.3l.5 .2v1.6l.5 1.6v-3.7l.5-.6v1.2l.5 1.9v-4.7l.5 1.8v2l.5-.3v-4.4l.5 3v1.1l.5 2.9v-4.1l.5 .8v2.9l.5-.5v-2.2l.5-2.3v5.4l.5-1.1v-2.7l.5 .2v3.2l.5-1v-.7l.5-2.8v4.3l.5-.3v-4.4l.5 1.6v3.8l.5-1.4v-1.7l.5-.5v1.2l.5 1.6v-3.7l.5 .5v3.4l.5-.3v-3.6l.5 1v3.2l.5-.3v-2.2l.5 .9v2.5l.5-1.9v-3.6l.5 2.3v2.1l.5 1.3v-4.2l.5-.5v3.3l.5 .7v-4l.5 1.1v1.5l.5-.6v-4.1l.5 3.1v2.6l.5-1.3v-2.4l.5 1.3v1.5l.5-.2v-1.2l.5 0v.6l.5-.3v-2.4l.5 2.1v2.8l.5-1.9v-2.6l.5-.2v4.2l.5 1.1v-3.8l.5 .3v12l.5-10.4v-5l.5 3.5v1.9l.5 1.9v-3.5l.5-1.6v2.1l.5 .2v-2.8l.5 1.5v1.7l.5-1.1v-1.2l.5 1.4v1.4l.5 1.4v-4.2l.5-1.2v3.1l.5 1.3v-1l.5-1v1.7l.5 1.1v-2.9l.5 .1v1.7l.5-.4v-4.5l.5-.1v7.2l.5-4.4v-2.5l.5 .4v3.4l.5 2.7v-5l.5 .2v1.9l.5-1v-.6l.5-1.4v2.4l.5 .6v-4.1l.5 3.5v1.7l.5 .9v-3.7l.5-3.2v4.1l.5 .1v-3.1l.5-.1v3.8l.5-.1v-1.1l.5-.2v1.2l.5 1.2v-4.6l.5 1v3.5l.5-1v-2.4l.5 1.9v1.3l.5-1.9v-1.3l.5 .5v2l.5 1.1v-2.8l.5-1v3.2l.5-.4v-2.1l.5-.2v3.3l.5-1.4v-.7l.5-2.3v3.4l.5-.9v-2.7l.5-2.2v1.2l.5-5.8v-.5l.5-3.6l.5-6.6v1.6l.5-4.2v-2.2l.5-2.1v1.3l.5-5.3v-.8l.5-4.4v1.9l.5-3.9v-.9l.5-3.8v.5l.5-2.1v-.3l.5-4.8v1.2l.5-2.1v-.1l.5-4.4v.5l.5-3.3v-.2l.5-3.3v.6l.5-2.3v-1.7l.5-.1v1.6l.5-1.3v-.4l.5-1.4v.5l.5-1.4v-1.6l.5 1.3v.5l.5-2.2v-1.7l.5-.9v1l.5-.8v-.4l.5 .9l.5-2.3v3.4l.5-3.5v-1.4l.5 2v1.1l.5-2.4v-.8l.5-.1v.7l.5-.7v-2l.5 1.6v.6l.5-1.4v-.7l.5 0v.1l.5 1.7v-1.5l.5-.7v2.9l.5-.7v-3.1l.5 .3v1.8l.5 .1v-1.8l.5 .2v2.7l.5-1.6v-2.5l.5 1.3v2.8l.5-.2v-3l.5-1.2v2.4l.5 2v-5.3l.5 2.2v2.6l.5-.8v-2.9l.5 .4v1.9l.5 1.8v-2.1l.5-1.2v3.4l.5-1.5v-2.4l.5-.2v2.6l.5-.1v-4.4l.5 .9v3.7l.5 .7v-5.7l.5 4.3v1.6l.5-.2v-4l.5 .4v2.6l.5-.5v-1.4l.5-.5v2l.5 .7v-2.6l.5-.8v4l.5-2.4v-2.1l.5 2.6v3.1l.5-2.7v-1.9l.5-.4v2.7l.5-.2v-2.1l.5-1.3v3.9l.5 .1v-2.1l.5-.4v.5l.5 3.7v-3.1l.5-1.6v2.6l.5 2.3v-2.5l.5-1.2v2.1l.5-.4v-1.8l.5-.3v1.4l.5 3.5v-5.8l.5 .7v2.9l.5-1.2v-1.6l.5 .5v2.9l.5 .1v-4.4l.5 1.9v1.7l.5 1.7v-4.5l.5 1.2v1.8l.5-.4v-1.5l.5-.2v2.4l.5 0v-2.6l.5-.1v1.8l.5 1v-.9l.5 .4v.7l.5-.2v-4.5l.5 1.6v3.2l.5-.1v-2.4l.5-1.1v4.6l.5-2.7v-1.2l.5-1.4v4l.5-1.4v-.5l.5-1.8v2.3l.5 2.7v-3.2l.5-.7v2.4l.5 .4v-3.5l.5 .5v1.4l.5 .1v-3.8l.5 3.2v.9l.5 .7v-3.6l.5 1.6v1.7l.5-1.1v-1.2l.5 .8v.5l.5 0v-2.2l.5 .6v2l.5-.3v-1.4l.5 0v1.2l.5-.3v-2.1l.5 1.1v2.2l.5 0v-3.7l.5-1v3.5l.5 .6v-2.5l.5-.6v3.7l.5-1.3v-2.1l.5-1v3.5l.5-.1v-2.6l.5-.3v2.4l.5 1.1v-3.3l.5-.3v1.6l.5 .1v-1.9l.5 .4v3.2l.5 .1v-4.9l.5 1.3v4.4l.5-.2v-4.2l.5 0v4.4l.5-1.6v-1.2l.5-.7v2.4l.5 2v-2.8l.5-3.8v3.7l.5 .9v-3.4l.5 .8v2.7l.5 1v-2.2l.5-2.3v2.9l.5-.3v-1l.5-1v2.5l.5 1.2v-2.7l.5 0v2l.5 .2v-1.6l.5-1.1v4l.5-2.1v-3.4l.5 .5v3.4l.5 .6v-1.1l.5-1.5v2.2l.5 1.7v-3.1l.5 .3v1.4l.5-.5v-1l.5-2.2v5.1l.5-1.5v-2.7l.5 .1v3.4l.5-.5v-2.2l.5-1.1v4.6l.5-3.1v-.9l.5 .2v3.2l.5 .4v-4.2l.5 2.9v1.4l.5-.8v-5.4l.5 2.6v3.1l.5-2.1v-1.4l.5-.6v3.1l.5-.1v-.9l.5-1.7v4.7l.5-1.4v-2l.5 0v3l.5 1v-3.3l.5-.5v3.8l.5-1.7v-4.2l.5 1.5v3.2l.5-1.2v-1l.5-1.5v1.9l.5 1.8v-3.2l.5-.4v2.8l.5 .1v-3l.5 0v1.3l.5 3.2v-3.2l.5-1.3v1.8l.5 .1v-2.7l.5 2v1l.5 1.1v-2.7l.5-1.6v4.1l.5-.3v-3.2l.5-.5v3.9l.5-.3v-2.1l.5 .8v1.5l.5-.1v-2.4l.5 .6v3.2l.5-.6v-2.2l.5 .6v1.1l.5 1v-2.4l.5-.5v2l.5 1.6v-3.4l.5 .5v1.5l.5 1.5v-2.4l.5-.5v3.2l.5 1.1v-4.3l.5-1.7v3.5l.5-1.1v-1.2l.5 1.4v2.2l.5-.6v-2.8l.5 0v5.3l.5-3.1v-.9l.5 .8v2.1l.5-.5v-2.4l.5 .1v1.8l.5 2.1v-3.6l.5 0v1.4l.5 .9v-4l.5 .2v3.9l.5-1.7v-3l.5-1.5v6.1l.5-1.7v-5.4l.5 2.4v1.4l.5 3.1v-4.5l.5 .2v3.2l.5-.7v-2.4l.5 .6v2.5l.5 1.1v-6.6l.5 .1v5.9l.5-.7v-2.4l.5-1.9v5.2l.5-.8v-4l.5 .8v1.9l.5 1.2v-3.6l.5-.6v4.6l.5 .5v-4.4l.5-1.2v3.6l.5-.3v-3.1l.5 1.1v1.3l.5 2.7v-5.7l.5 2.6v1.2l.5-.4v-2.7l.5-.2v3.3l.5 1.1v-2.9l.5-.4v2.2l.5 .1v-5l.5 3.1v2.6l.5-2.5v-2.3l.5 1.5v2.5l.5-.8v-3.1l.5 1.2v3.2l.5-.4v-2.3l.5-.2v2.7l.5-.1v-3.5l.5 .7v2.9l.5 1.5v-2.6l.5-1.4v1.5l.5-.1v-2.7l.5-.3v3l.5-.4v-1.7l.5-2.5v6.8l.5 .3v-4.5l.5 1.1v2.9l.5 .1v-3.6l.5-.8v2.4l.5 1.3v-1l.5-2.2v4l.5-1.8v-2.9l.5 1v3.8l.5-1.2v-3.8l.5 3.1v1.3l.5 1v-6.4l.5 1.4v2.3l.5 3.7v-4.3l.5-2.4v3.9l.5 3.4v-6.6l.5 .9v4.2l.5-.6v-4.2l.5 2.3v1l.5 .6v-2.4l.5 .1v4l.5 .5v-5.7l.5 .1v3.7l.5-1v-2.7l.5-1.9v4.9l.5 2.4v-4l.5-2.3v4.7l.5 1.6v-6.6l.5 .3v3.7l.5-.6v-1.8l.5 .5v5.6l.5-2.9v-1.5l.5-3.8v4l.5 4v-3.8l.5-3.4v5.5l.5-.5v-5.4l.5 1.9v4.8l.5-2.9v-3.1l.5 1.6v5.1l.5-2.3v-3l.5-.7v4.8l.5-2.7v-3.3l.5-.3v6.3l.5 6.2v-11l.5-1.9v9.6l.5-4.7v-3.4l.5 0v4.8l.5-.9v-4l.5 .6v2.8l.5-1.3v-2.7l.5 1.8v3.1l.5 .6v-4.7l.5-2.1v5l.5 .4v-2.7l.5-.9v3.6l.5 .5v-3.5l.5-1v2.5l.5 1v-3.8l.5-.7v6.9l.5-3.4v-2.4l.5 1.2v2.5l.5-1v-2.1l.5-1.5v7.1l.5-4.9v-1.5l.5-.6v1.3l.5 2.7v-3l.5-4.4v6.8l.5 1.2v-4.6l.5-.4v4.2l.5 .4v-4.2l.5-.2v2.7l.5-.2v-2.8l.5 1.8v3.7l.5-1.1v-4.1l.5 1.9v.8l.5 1.6v-3.9l.5-.4v5.3l.5-2.3v-4.1l.5 5.6v1.3l.5-1.3v-3.3l.5 .2v4l.5 0v-6.2l.5 2.4v2.2l.5-.4v-2.7l.5 1.6v3.3l.5-.8v-6.2l.5 .2v4.7l.5-2.2v-2.2l.5 1.6v3.8l.5-2.3v-3l.5-.4v5.5l.5-.3v-3.3l.5-1.2v4.7l.5-.7v-5.4l.5 1.5v4l.5 1v-4.3l.5-1.1v4l.5 .7v-2.6l.5 .1v6.1l.5-3v-2.7l.5-1.1v13.3l.5-7.4v-3.8l.5-.1v1.1l.5 2.1v-5.5l.5 .3v3.3l.5-1.6v-4.1l.5-1.6v1.9l.5-6.5v-.1l.5-6.6v.1l.5-3.2v-1.7l.5-1.8v.5l.5-1.5v-1.3l.5-2.4v2.7l.5-3.1v-.5l.5-1.6v.7l.5-2.2v-.2l.5-3.4v.2l.5-3.5v-.4l.5-2.5v3.2l.5-1.3v-.6l.5-2.9v.5l.5-1.5v-.9l.5-2.1v3.1l.5-.4v-3.8l.5-.6v.7l.5-1.2v-.1l.5-1.1v1.5l.5-1.2v-1l.5-.8v1.4l.5-1.9v-.9l.5 .8v.3l.5-1v-.1l.5-2.1v.6l.5 .7v-.1l.5-1.3v1.8l.5-1.9v-.7l.5-2.3v2.3l.5-.2v-1.1l.5-2.2v3.3l.5-1.2v-2l.5-.8v2.5l.5 1.2v-3.6l.5-1.4v.5l.5 .6v-.3l.5-2.3v2.2l.5-1.3v-.3l.5-2.3v2.9l.5-1.5v-1.9l.5 1.3v.7l.5 2.2v-5.1l.5 .7v3.9l.5 .8v-4l.5-.2v2.2l.5 1.9v-2.8l.5-2.5v2l.5 1.8v-2.3l.5-1.5v3l.5 1.2v-3.4l.5-.7v3.4l.5-.9v-2.3l.5 1v2.6l.5-.7v-1.6l.5-1.1v3.3l.5-.6v-4.8l.5 1.6v3.4l.5-1.3v-4l.5 1.6v2.8l.5-.5v-2.2l.5 1.4v3.4l.5-1.1v-4.8l.5 .6v2.6l.5 1.1v-4.7l.5-.1v4.1l.5 0v-2.4l.5-1.5v2.6l.5 .6v-3.9l.5-.9v3.5l.5 .8v-2.3l.5-2.8v4.3l.5-.4v-3.8l.5 .9v4l.5-.8v-3.4l.5-.3v2.7l.5 1v-4.2l.5 .9v2.2l.5-.5v-3.6l.5 1.6v2.4l.5-.2v-3.6l.5-.7v4l.5-.8v-1.6l.5-1.2v2.7l.5 1.6v-3.7l.5-2.4v4.3l.5 1.3v-2l.5-1.7v4.5l.5-.6v-4.3l.5 1.7v.5l.5 3.8v-3.7l.5-1.5v2.3l.5-.8v-1.7l.5 .8v1.5l.5-.7v-1.9l.5 .6v2.2l.5 .6v-2l.5 .2v2.2l.5 1v-5.1l.5 1.7v1.3l.5 .3v-3.9l.5 .7v2.5l.5-.1v-2.7l.5-2v3.8l.5 .9v-3.3l.5 1.4v4l.5-1.1v-3.8l.5 1.2v4l.5-1.8v-2.1l.5 .6v1.3l.5 .2v-2.5l.5-1v4.8l.5-.6v-4.5l.5 .6v2.4l.5 1.2v-4.3l.5 1.4v3.6l.5-2.3v-2.8l.5 .2v5.3l.5-2.6v-2.7l.5 1.6v2.4l.5-.2v-2.1l.5-.6v2.3l.5 1.1v-3l.5-1.6v2l.5 1.5v-2.4l.5-.7v2.5l.5 0v-2.1l.5 .7v1.5l.5 .6v-3.5l.5 1.6v2.5l.5-.7v-3.4l.5 0v2.9l.5-.2v-3.6l.5 .7v3.3l.5-1v-3.6l.5 1.8v4.3l.5-3.2v-.9l.5 .7v2.2l.5 0v-3.7l.5 .5v2.3l.5 0v-2.3l.5-.5v5l.5-2.7v-1.6l.5 .4v3.2l.5 1.9v-3.8l.5-1.8v3.3l.5 .3v-3.4l.5 .5v3.6l.5-1.5v-4l.5 1v4.2l.5 0v-2.1l.5-1.6v2.5l.5 1.6v-2.3l.5-.1v1.3l.5-.4v-3.1l.5 1.8v3.1l.5 .8v-3.1l.5 1.2v1.6l.5 .1v-1.8l.5-1.4v2.7l.5 1.6v-2.8l.5-.2v1.4l.5 2.3v-3.8l.5 1.8v2.7l.5-2.5v-1l.5 .8v2.9l.5-.1v-4.3l.5 2v2.6l.5-.5v-2.8l.5 .3v2.7l.5-.2v-1.9l.5-1.7v2.2l.5 2.2v-3.5l.5-.2v3.2l.5 0v-5.4l.5 2.4v3.6l.5-.1v-3.8l.5 .1v1l.5 3.1v-3.5l.5-.3v2.5l.5 .1v-1.1l.5-1.7v2.2l.5 1.3v-1.1l.5-1.3v.4l.5 2.5v-3l.5 .8v1.5l.5-1.2v-2l.5 .7v3l.5-.9v-2l.5 .9v.3l.5 1.1v-4.1l.5 1.4v1.7l.5 1.5v-3l.5 .2v1.3l.5 1v-2.8l.5 0v2.6l.5-1.2v-1.2l.5-1.4v4.3l.5 .3v-3.7l.5 .3v2.7l.5-1v-1.3l.5-1.1v1.6l.5 1.9v-3.4l.5 .9v3.3l.5-2.8v-3.3l.5-.3v5.9l.5-1.5v-2l.5-.9v3.3l.5-.9v-1.6l.5 .3v2.3l.5-.3v-2.2l.5-1.1v3.1l.5 1.7v-5.5l.5 3v.7l.5-.1v-1.9l.5-1.1v2l.5 1.2v-3.7l.5 .7v2.5l.5 1.9v-2.9l.5 .6v.5l.5 2.3v-5.3l.5-.3v4.6l.5-1.1v-3.9l.5 1.9v3.2l.5 1.1v-4.2l.5 .1v2.7l.5 .3v-2.8l.5-.6v4.4l.5-3.2v-1.7l.5-.2v3l.5 .4v-3.6l.5 .7v4l.5-.3v-2.3l.5-2.8v4.9l.5 0v-1.8l.5-2.8v5.1l.5-.5v-3.5l.5 1.3v3.2l.5-1.8v-2.4l.5 1.1v1.7l.5 .3v-4.3l.5-.5v4.7l.5-2.1v-3.1l.5 3.2v3.1l.5-.6v-3.2l.5-.4v2.7l.5-.6v-2.1l.5-.2v3.5l.5 .5v-5.1l.5 2.6v2l.5-1.1v-1.9l.5-.4v2.3l.5 2.4v-5.5l.5 .5v2.5l.5 2.1v-5.9l.5 .5v6.1l.5-1v-4.7l.5 .8v2.9l.5 .2v-3l.5 1.1v1.3l.5-.6v-1.5l.5 0v3.8l.5-2.1v-1.9l.5 1v3l.5-3.2v-1l.5 .3v1.6l.5 1.7v-2.8l.5-1.2v3.5l.5 2.4v-4.7l.5-.8v2.1l.5 .8v-3.7l.5 .9v1.2l.5 2.8v-5.5l.5 1.3v2.3l.5 1.3v-3.7l.5-.2v5.3l.5-2.4v-1.3l.5 .5v.5l.5 1.7v-3.3l.5-.2v2.4l.5-1.2v-3.1l.5 2.3v1.8l.5 2.9v-4.9l.5-.2v2.4l.5-.5v-2.9l.5 1.1v2.2l.5-.1v-2.2l.5-2.6v5.2l.5-.6v-2.5l.5 .9v1.9l.5 .9v-3l.5 .6v3.6l.5-.6v-4.8l.5 1.6v4.2l.5-2.9v-1.7l.5 .2v2l.5-1v-1.4l.5 1.5v.6l.5 .7v-3l.5 2.1v1.1l.5-.9v-3l.5 .9v1.7l.5 1.1v-3.1l.5-.8v2.2l.5 2.8v-4.4l.5 .7v1.5l.5-.3v-1.5l.5-.1v.4l.5 1.2v-2.3l.5-.9v4l.5-1.1v-2.5l.5 1.1v3.6l.5 1.8v-4.6l.5 .4v1.7l.5-1.6v-2l.5 2.3v2.8l.5-1.9v-3.3l.5 .7v1.5l.5 1.4v-3.3l.5-.4v4.2l.5-1.3v-3.3l.5-1.1v5.7l.5-1.5v-2.2l.5 1.7v2.7l.5-1.1v-3.9l.5 1.1v1.3l.5 3.5v-4.7l.5 .3v3l.5 .5v-3.3l.5-1.1v2l.5 1.8v-3.7l.5 .1v4.6l.5-2.4v-.7l.5-.8v3l.5-.9v-2.1l.5 .2v1.7l.5 1v-3.9l.5 1.5v3.9l.5-1.8v-4.1l.5 1.4v4.3l.5-1.6v-3.7l.5 2.7v2.1l.5-2.6v-1.5l.5-.5v2.8l.5 2.7v-3.8l.5 0v1.4l.5 1.5v-5.8l.5 1.8v3.7l.5-1.3v-2.6l.5 .4v2.8l.5-.3v-2.8l.5 .6v3l.5-1.4v-2.8l.5 1.4v2.3l.5-.4v-2l.5 .1v2l.5 .4v-3.9l.5 2v3l.5 .1v-2.8l.5 .9v3.2l.5-3.2v-1.1l.5 .1v2l.5 .5v-2.8l.5 .7v2.8l.5-1.9v-1.1l.5-.4v1.5l.5 1v-2.7l.5 .6v1.9l.5 1.1v-4.6l.5-1.5v4.2l.5 1.1v-2.5l.5 0v2.8l.5 .3v-3.8l.5 2.2v2.6l.5-1.1v-2.1l.5 .1v1.2l.5 0v-.8l.5 .7v1.4l.5 1.8v-3l.5 1v2.6l.5-.8v-2.7l.5 .5v1l.5 1.3v-1.9l.5 1.1v.5l.5 0l.5-28.5l.5-25.6l.5-17l.5-1.1l.5-1.1l.5-1l.5-1.1l.5-1.1l.5-1l.5-1l.5-.5l.5-.5l.5-.5l.5-.5l.5-.5l.5-.5l.5-.5l.5-.5l.5-.5l.5-.5l.5-.4l.5 2.1l.5 1.8v-5.8l.5 1v3.1l.5-.6v-1.6l.5 0v2.8l.5 1.8v-6.8l.5 0v4.6l.5 .6v-4.2l.5 1.4v3l.5 0v-3.7l.5-1.3v4.6l.5 .7v-4l.5 .4v3.1l.5-1.4v-2.1l.5-1v3.2l.5 3.2v-3l.5-2.2v3.2l.5 1v-4.3l.5 1.9v1.2l.5 .7v-1.7l.5-2.1v5.2l.5-3.1v-2.8l.5 .8v3.1l.5 .3v-4.3l.5-.6v5.4l.5 1.5v-4.2l.5 .1v3.3l.5 1.2v-5.7l.5 1.2v5.2l.5-.5v-6.5l.5 1v3.4l.5 .3v-4.6l.5 .8v4l.5-1.2v-3.5l.5 .9v3.8l.5 .6v-6.3l.5 1.9v2l.5 1.8v-4l.5-.8v3.2l.5 4.2v-8l.5 1.2v6.9l.5-3.2v-1.8l.5-.2v1.2l.5 1.4v-1.4l.5-3.4v3.6l.5 1.7v-5.5l.5 1.5v2.6l.5 3.5v-6.4l.5 .3v3l.5 2.3v-4.5l.5-2.6v3.1l.5 1.3v-3.7l.5-1.1v5.5l.5-1.7v-1.9l.5-.4v3.4l.5 .4v-3.7l.5 .4v3.9l.5 1v-6.3l.5 1.7v2.2l.5 2v-3.5l.5-.9v4.4l.5-.3v-2.4l.5-.6v3.4l.5-1.4v-1.4l.5 .4v2.4l.5 3v-5.6l.5-.6v2.2l.5 1.9v-6.1l.5 3.4v2.3l.5-1.5v-1.7l.5-.8v3.1l.5 3.6v-6.6l.5-2.2v5.3l.5 1v-3.6l.5-1.8v3.6l.5 1.1v-2.4l.5-1.2v2.9l.5 1.3v-4.1l.5-2v8.4l.5-1.7v-4.2l.5-2v6.6l.5-2v-4.3l.5 1v3.5l.5 2.8v-6.8l.5 2.8v1.4l.5-.7v-3.9l.5 2.2v4.4l.5-1.7v-2.7l.5-.9v2.8l.5 .6v-2.5l.5-.5v2.3l.5 .1v-1.6l.5 .8v3l.5-3.4v-2.3l.5 1.9v1.6l.5 .8v-3.9l.5-.2v2.4l.5 1.2v-4.9l.5 1.3v2.2l.5 1.8v-2.2l.5-2.8v4.5l.5-1.4v-1.6l.5-.4v2.6l.5 1.9v-3.8l.5 .3v3l.5-.5v-3l.5 .8v.8l.5 1v-2.5l.5-1.2v3.2l.5 .9v-4.5l.5 0v4.2l.5-1.4v-2.3l.5-1.5v8l.5-2.6v-3.7l.5-.5v2.4l.5 1.2v-2.6l.5 .3v2.1l.5-.6v-3.8l.5 3.1v3.4l.5-3.5v-3.1l.5 1.5v1.7l.5 .6v-2.2l.5 0v3.5l.5-2.1v-1.5l.5-2.2v4.6l.5 .6v-4.2l.5 1.2v3l.5-.6v-1.5l.5-1.7v3.8l.5-.9v-4.2l.5 .6v4.5l.5 .9v-3.4l.5-.7v4.4l.5-2.8v-4.2l.5 2.3v2.6l.5-1.4v-3.5l.5 1.9v3.9l.5-.6v-2.5l.5 0v1.9l.5 .8v-1.9l.5-1.9v3.9l.5-.4v-2.9l.5-.9v3.1l.5 1.7v-3.3l.5-1.3v3.9l.5-.8v-3.7l.5-.2v3.6l.5 .5v-3l.5-1.3v3l.5 .9v-5.4l.5 1.6v2.8l.5 .4v-3.3l.5 .8v5.5l.5-3.7v-3.3l.5 4.2v1.8l.5-2v-1.3l.5-1.4v3.5l.5-.6v-1.3l.5-.4v4.4l.5-1.8v-3.8l.5 1.3v2.1l.5-2.1v-2.2l.5 3.2v2.1l.5-.3v-2.4l.5-2.6v4.9l.5-.8v-1.7l.5-2.1v5l.5-1v-1.5l.5-.5v.7l.5 .1v-1.3l.5 1.1v.8l.5 1v-3.1l.5 .8v4.4l.5-2.7v-1.1l.5 .4v1.9l.5-.1v-3l.5-1.6v3.8l.5 .6v-1.5l.5-.3v2.2l.5 1v-4.1l.5 .4v3.8l.5-2.3v-1.4l.5-1.2v3.1l.5 .3v-1.2l.5-.2v2.1l.5 .6v-5.6l.5 .7v4.4l.5-.1v-2.6l.5-.4v2.8l.5-1.3v-1.5l.5-.1v1.9l.5 1.8v-2.8l.5-3.1v4.5l.5-1.5v-1.5l.5-1.7v3.4l.5 .3v-.8l.5-1.8v5.7l.5-2.3v-.8l.5 .3v.7l.5-.5v-2.5l.5 .4v.5l.5 3.9v-2.6l.5-2.1v4.3l.5-1.4v-.9l.5 .3v1.6l.5-2.4v-3.3l.5 2.8v3.1l.5-1.2v-1.4l.5-1.4v2.3l.5-.4v-1.5l.5-.4v3l.5 1.8v-3.7l.5-1.2v4.1l.5-.3v-3.3l.5-.2v3.1l.5-1.3v-2.2l.5 1.8v1.8l.5 .7v-2.2l.5-3.7v3.4l.5 0v-2.1l.5-.2v2.2l.5-.1v-2.4l.5-1.1v3.3l.5 .2v-2.4l.5-1.1v2.8l.5 .9v-2.8l.5-2.9v5.4l.5-.7v-2.2l.5-1v2.7l.5-.7v-2.5l.5-.2v3l.5 2v-4l.5 0v1.9l.5-1.4v-1l.5-.1v2.7l.5 .3v-3.5l.5-1v6l.5-2.8v-2.6l.5 1v2l.5-.8v-2l.5-2.2v5.2l.5 .6v-3.9l.5-1.4v3.6l.5 .8v-4.5l.5 1.3v2.7l.5-.3v-2.5l.5-1.5v4l.5-.1v-2.1l.5-2.1v3.9l.5-.2v-6l.5 2.1v4.8l.5-.7v-2.4l.5-2.6v5.2l.5 1.4v-4.4l.5 0v5.2l.5-2.8v-3.3l.5 .6v3.2l.5-1.1v-2l.5 2.3v.5l.5 .6v-3.8l.5 .2v4l.5-.7v-4.7l.5 3.3v.8l.5 1.5v-3.7l.5 1v1.7l.5 1.4v-5l.5 1.4v2.1l.5 .1v-2.2l.5-1.5v5.4l.5 3.3v-4.9l.5-2v3l.5 3.8v-4.9l.5-3.7v7.7l.5-2v-3.5l.5 .5v3.4l.5 0v-3.3l.5 .8v1.5l.5 .1v-1.1l.5-1.3v1.4l.5 2.8v-4.3l.5 .1v4.5l.5-.4v-4.3l.5 .3v3.4l.5-1.9v-.9l.5-.8v.9l.5 1.7v-1.9l.5 .3v3.5l.5-1.6v-3.9l.5 .8v3.7l.5-1.1v-3.3l.5-.6v3.9l.5-.9v-1.3l.5-.2v2l.5 .5v-4.8l.5 2.5v2.4l.5-3v-.6l.5-1.1v4.7l.5 .8v-4.3l.5-.2v4l.5 .6v-4.2l.5 1.3v3l.5-.6v-5.1l.5 2.9v2.9l.5-.3v-3.9l.5 1.2v2.1l.5 1.4v-3.7l.5 .2v3.8l.5-1.4v-6.1l.5 4.2v3.2l.5-1.9v-2.8l.5-2.7v5.7l.5 .2v-4l.5 1.4v2.3l.5-.7v-3.9l.5 .6v2.5l.5-.5v-2.2l.5 .3v1.7l.5 .6v-1.9" fill="none" stroke="#FB3D3D" stroke-width="4.0" stroke-linejoin="round" stroke-linecap="round"/>
</g>
<g font-size="70" text-anchor="end">
<text x="265.4" y="1686.3" textLength="33.8" lengthAdjust="spacingAndGlyphs">0</text>
<text x="265.4" y="1483.5" textLength="67.5" lengthAdjust="spacingAndGlyphs">20</text>
<text x="265.4" y="1280.8" textLength="67.5" lengthAdjust="spacingAndGlyphs">40</text>
<text x="265.4" y="1078.0" textLength="67.5" lengthAdjust="spacingAndGlyphs">60</text>
<text x="265.4" y="875.3" textLength="67.5" lengthAdjust="spacingAndGlyphs">80</text>
<text x="265.4" y="672.5" textLength="101.3" lengthAdjust="spacingAndGlyphs">100</text>
<text x="265.4" y="469.8" textLength="101.3" lengthAdjust="spacingAndGlyphs">120</text>
<text x="265.4" y="267.1" textLength="101.3" lengthAdjust="spacingAndGlyphs">140</text>
<text x="265.4" y="64.3" textLength="101.3" lengthAdjust="spacingAndGlyphs">160</text>
</g>
<g font-size="70" text-anchor="middle">
<text x="319.4" y="1773">0</text>
<text x="607.5" y="1773">2</text>
<text x="895.7" y="1773">4</text>
<text x="1183.8" y="1773">6</text>
<text x="1472.0" y="1773">8</text>
<text x="1760.1" y="1773">10</text>
<text x="2048.3" y="1773">12</text>
<text x="2336.4" y="1773">14</text>
</g>
<text x="1156" y="1906" font-size="85">Time (Hr)</text>
<text transform="translate(96,1121.5) rotate(-90)" font-size="85" textLength="595" lengthAdjust="spacingAndGlyphs">Temperature (°C)</text>
<rect x="378" y="122" width="191" height="3" fill="#757575" shape-rendering="crispEdges"/>
<line x1="380" y1="227" x2="567" y2="227" stroke="#FB3D3D" stroke-width="4" stroke-linecap="round"/>
<text x="589.7" y="152.3" font-size="85">Evaporation</text>
<text x="589.5" y="256.3" font-size="85">Condensation</text>
<text x="358.9" y="1095" font-size="61" textLength="124.8" lengthAdjust="spacingAndGlyphs">60°C</text>
<text x="528.9" y="1038" font-size="61" textLength="126.1" lengthAdjust="spacingAndGlyphs">70°C</text>
<text x="706.9" y="959.7" font-size="61" textLength="122.9" lengthAdjust="spacingAndGlyphs">80°C</text>
<text x="865.3" y="875.5" font-size="61" textLength="124.2" lengthAdjust="spacingAndGlyphs">90°C</text>
<text x="1018.6" y="802.7" font-size="61" textLength="152.7" lengthAdjust="spacingAndGlyphs">100°C</text>
<text x="1201.4" y="729.6" font-size="61" textLength="152.7" lengthAdjust="spacingAndGlyphs">110°C</text>
<text x="1365.9" y="620.1" font-size="61" textLength="152.7" lengthAdjust="spacingAndGlyphs">120°C</text>
<text x="1555.7" y="508.6" font-size="61" textLength="152.7" lengthAdjust="spacingAndGlyphs">130°C</text>
<text x="1744.4" y="407.3" font-size="61" textLength="152.7" lengthAdjust="spacingAndGlyphs">140°C</text>
<text x="1941.2" y="307.2" font-size="61" textLength="152.7" lengthAdjust="spacingAndGlyphs">150°C</text>
<text x="2130.8" y="224.9" font-size="61" textLength="152.7" lengthAdjust="spacingAndGlyphs">160°C</text>
<text x="1931" y="1627.8" font-size="85" textLength="343.8" lengthAdjust="spacingAndGlyphs">400 CMH</text>
</svg>
</body>
</html>
